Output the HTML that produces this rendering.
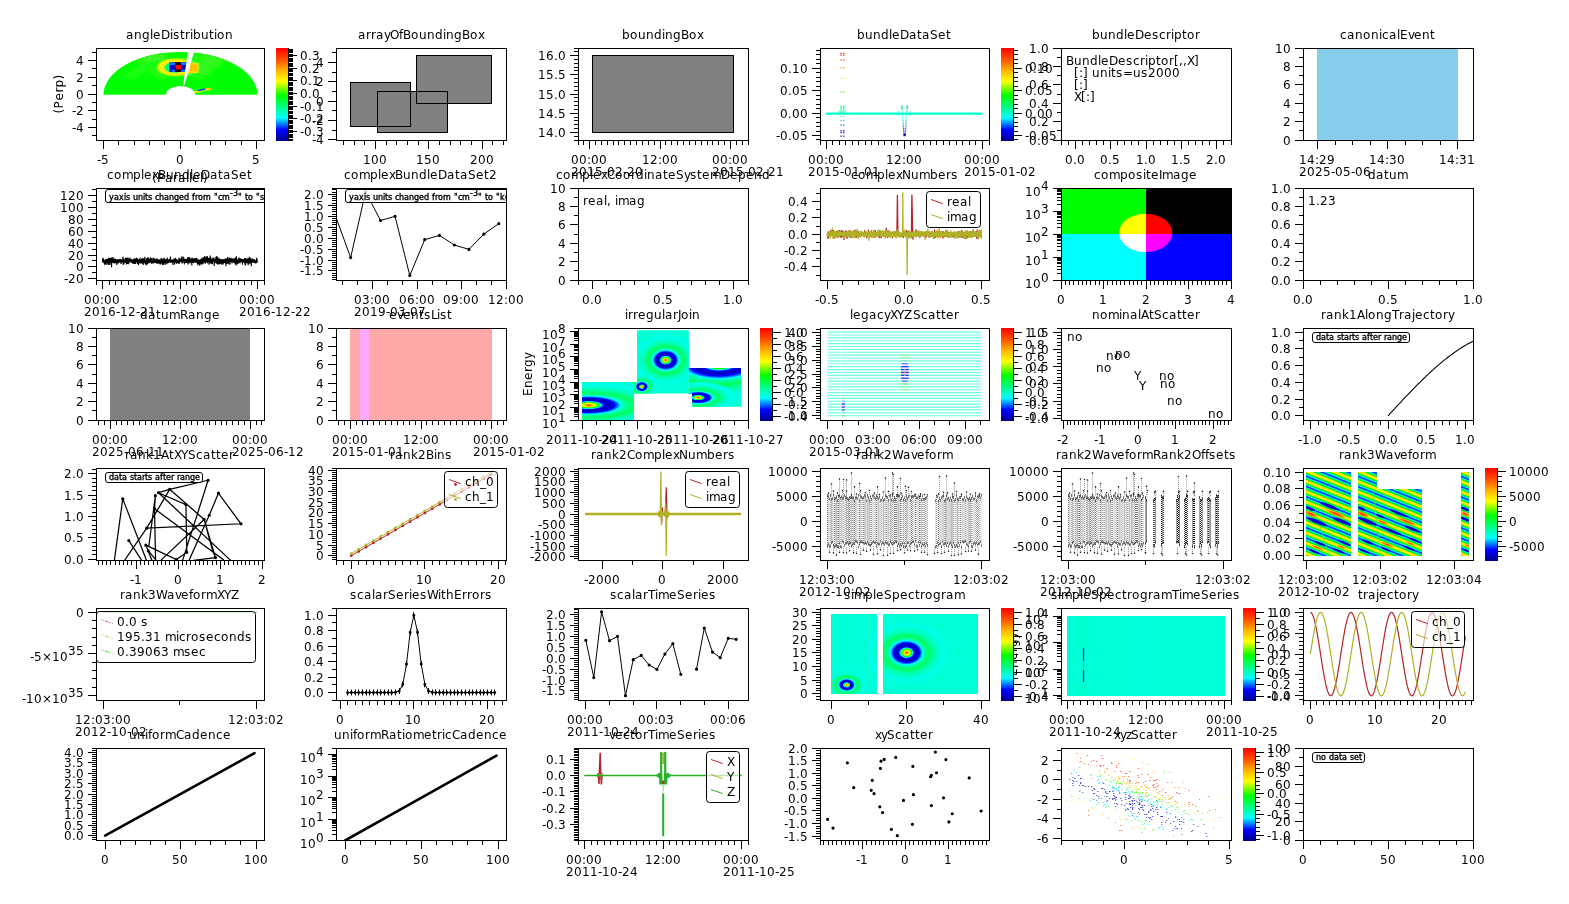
<!DOCTYPE html><html><head><meta charset="utf-8"><title>plots</title><style>html,body{margin:0;padding:0;background:#fff}svg{display:block;will-change:transform}text{font-family:'DejaVu Sans','Liberation Sans',sans-serif;font-size:12px;fill:#000}</style></head><body><svg width="1569" height="904" viewBox="0 0 1569 904"><defs><linearGradient id="cw" x1="0" y1="0" x2="0" y2="1"><stop offset="0" stop-color="#ff0000"/><stop offset="0.13" stop-color="#ff5400"/><stop offset="0.25" stop-color="#ffb900"/><stop offset="0.36" stop-color="#ffff00"/><stop offset="0.51" stop-color="#00ff00"/><stop offset="0.75" stop-color="#00ffff"/><stop offset="0.88" stop-color="#0000ff"/><stop offset="1" stop-color="#000089"/></linearGradient><clipPath id="cp00"><rect x="97" y="49" width="167" height="91"/></clipPath><clipPath id="cp01"><rect x="337" y="49" width="169" height="91"/></clipPath><clipPath id="cp02"><rect x="579" y="49" width="169" height="91"/></clipPath><clipPath id="cp03"><rect x="821" y="49" width="168" height="91"/></clipPath><clipPath id="cp04"><rect x="1062" y="49" width="169" height="91"/></clipPath><clipPath id="cp05"><rect x="1304" y="49" width="169" height="91"/></clipPath><clipPath id="cp10"><rect x="97" y="189" width="167" height="91"/></clipPath><clipPath id="cp11"><rect x="337" y="189" width="169" height="91"/></clipPath><clipPath id="cp12"><rect x="579" y="189" width="169" height="91"/></clipPath><clipPath id="cp13"><rect x="821" y="189" width="168" height="91"/></clipPath><clipPath id="cp14"><rect x="1062" y="189" width="169" height="91"/></clipPath><clipPath id="cp15"><rect x="1304" y="189" width="169" height="91"/></clipPath><clipPath id="cp20"><rect x="97" y="329" width="167" height="91"/></clipPath><clipPath id="cp21"><rect x="337" y="329" width="169" height="91"/></clipPath><clipPath id="cp22"><rect x="579" y="329" width="169" height="91"/></clipPath><clipPath id="cp23"><rect x="821" y="329" width="168" height="91"/></clipPath><clipPath id="cp24"><rect x="1062" y="329" width="169" height="91"/></clipPath><clipPath id="cp25"><rect x="1304" y="329" width="169" height="91"/></clipPath><clipPath id="cp30"><rect x="97" y="469" width="167" height="91"/></clipPath><clipPath id="cp31"><rect x="337" y="469" width="169" height="91"/></clipPath><clipPath id="cp32"><rect x="579" y="469" width="169" height="91"/></clipPath><clipPath id="cp33"><rect x="821" y="469" width="168" height="91"/></clipPath><clipPath id="cp34"><rect x="1062" y="469" width="169" height="91"/></clipPath><clipPath id="cp35"><rect x="1304" y="469" width="169" height="91"/></clipPath><clipPath id="cp40"><rect x="97" y="609" width="167" height="91"/></clipPath><clipPath id="cp41"><rect x="337" y="609" width="169" height="91"/></clipPath><clipPath id="cp42"><rect x="579" y="609" width="169" height="91"/></clipPath><clipPath id="cp43"><rect x="821" y="609" width="168" height="91"/></clipPath><clipPath id="cp44"><rect x="1062" y="609" width="169" height="91"/></clipPath><clipPath id="cp45"><rect x="1304" y="609" width="169" height="91"/></clipPath><clipPath id="cp50"><rect x="97" y="749" width="167" height="91"/></clipPath><clipPath id="cp51"><rect x="337" y="749" width="169" height="91"/></clipPath><clipPath id="cp52"><rect x="579" y="749" width="169" height="91"/></clipPath><clipPath id="cp53"><rect x="821" y="749" width="168" height="91"/></clipPath><clipPath id="cp54"><rect x="1062" y="749" width="169" height="91"/></clipPath><clipPath id="cp55"><rect x="1304" y="749" width="169" height="91"/></clipPath><clipPath id="ij1"><rect x="582" y="382" width="51.8" height="38"/></clipPath><clipPath id="ij2"><path d="M637 330.3H688.8V393.6H633.8V382H637Z"/></clipPath><clipPath id="ij3"><path d="M688.8 368.1H741V406.7H692.2V393.6H688.8Z"/></clipPath><radialGradient id="rg1" gradientUnits="userSpaceOnUse" cx="0" cy="0" r="42" gradientTransform="translate(588.6 405.1) scale(2 0.56)"><stop offset="0" stop-color="#ff0000"/><stop offset="0.04" stop-color="#ffb900"/><stop offset="0.07" stop-color="#ffff00"/><stop offset="0.12" stop-color="#00ff00"/><stop offset="0.15" stop-color="#00ffff"/><stop offset="0.18" stop-color="#0000ff"/><stop offset="0.24" stop-color="#0000b4"/><stop offset="0.31" stop-color="#0000ff"/><stop offset="0.35" stop-color="#0080ff"/><stop offset="0.38" stop-color="#00ffff"/><stop offset="0.43" stop-color="#00ffaa"/><stop offset="0.54" stop-color="#00ff5a"/><stop offset="0.64" stop-color="#00ffaa"/><stop offset="0.79" stop-color="#00ffd7"/><stop offset="0.88" stop-color="#00ffeb"/><stop offset="1" stop-color="#00ffd7"/></radialGradient><radialGradient id="rg2" gradientUnits="userSpaceOnUse" cx="0" cy="0" r="42" gradientTransform="translate(665.7 360.1) scale(0.8 0.62)"><stop offset="0" stop-color="#ff0000"/><stop offset="0.04" stop-color="#ffb900"/><stop offset="0.07" stop-color="#ffff00"/><stop offset="0.12" stop-color="#00ff00"/><stop offset="0.15" stop-color="#00ffff"/><stop offset="0.18" stop-color="#0000ff"/><stop offset="0.24" stop-color="#0000b4"/><stop offset="0.31" stop-color="#0000ff"/><stop offset="0.35" stop-color="#0080ff"/><stop offset="0.38" stop-color="#00ffff"/><stop offset="0.43" stop-color="#00ffaa"/><stop offset="0.54" stop-color="#00ff5a"/><stop offset="0.64" stop-color="#00ffaa"/><stop offset="0.79" stop-color="#00ffd7"/><stop offset="0.88" stop-color="#00ffeb"/><stop offset="1" stop-color="#00ffd7"/></radialGradient><radialGradient id="rg3" gradientUnits="userSpaceOnUse" cx="0" cy="0" r="42" gradientTransform="translate(641.8 386.6) scale(0.38 0.3)"><stop offset="0" stop-color="#ff0000"/><stop offset="0.04" stop-color="#ffb900"/><stop offset="0.07" stop-color="#ffff00"/><stop offset="0.12" stop-color="#00ff00"/><stop offset="0.15" stop-color="#00ffff"/><stop offset="0.18" stop-color="#0000ff"/><stop offset="0.24" stop-color="#0000b4"/><stop offset="0.31" stop-color="#0000ff"/><stop offset="0.35" stop-color="#0080ff"/><stop offset="0.38" stop-color="#00ffff"/><stop offset="0.43" stop-color="#00ffaa"/><stop offset="0.54" stop-color="#00ff5a"/><stop offset="0.64" stop-color="#00ffaa"/><stop offset="0.79" stop-color="#00ffd7"/><stop offset="0.88" stop-color="#00ffeb"/><stop offset="1" stop-color="#00ffd7"/></radialGradient><radialGradient id="rg4" gradientUnits="userSpaceOnUse" cx="0" cy="0" r="42" gradientTransform="translate(719 364.2) scale(2.3 0.9)"><stop offset="0" stop-color="#ff0000"/><stop offset="0.04" stop-color="#ffb900"/><stop offset="0.07" stop-color="#ffff00"/><stop offset="0.12" stop-color="#00ff00"/><stop offset="0.15" stop-color="#00ffff"/><stop offset="0.18" stop-color="#0000ff"/><stop offset="0.24" stop-color="#0000b4"/><stop offset="0.31" stop-color="#0000ff"/><stop offset="0.35" stop-color="#0080ff"/><stop offset="0.38" stop-color="#00ffff"/><stop offset="0.43" stop-color="#00ffaa"/><stop offset="0.54" stop-color="#00ff5a"/><stop offset="0.64" stop-color="#00ffaa"/><stop offset="0.79" stop-color="#00ffd7"/><stop offset="0.88" stop-color="#00ffeb"/><stop offset="1" stop-color="#00ffd7"/></radialGradient><radialGradient id="rg5" gradientUnits="userSpaceOnUse" cx="0" cy="0" r="42" gradientTransform="translate(698.1 397.6) scale(0.9 0.37)"><stop offset="0" stop-color="#ff0000"/><stop offset="0.04" stop-color="#ffb900"/><stop offset="0.07" stop-color="#ffff00"/><stop offset="0.12" stop-color="#00ff00"/><stop offset="0.15" stop-color="#00ffff"/><stop offset="0.18" stop-color="#0000ff"/><stop offset="0.24" stop-color="#0000b4"/><stop offset="0.31" stop-color="#0000ff"/><stop offset="0.35" stop-color="#0080ff"/><stop offset="0.38" stop-color="#00ffff"/><stop offset="0.43" stop-color="#00ffaa"/><stop offset="0.54" stop-color="#00ff5a"/><stop offset="0.64" stop-color="#00ffaa"/><stop offset="0.79" stop-color="#00ffd7"/><stop offset="0.88" stop-color="#00ffeb"/><stop offset="1" stop-color="#00ffd7"/></radialGradient><pattern id="wf" width="2" height="3" patternUnits="userSpaceOnUse"><rect width="2" height="3" fill="#d4d4d4"/><rect width="1" height="1" fill="#8a8a8a"/><rect x="1" y="1.5" width="1" height="1" fill="#9a9a9a"/></pattern><linearGradient id="st" gradientUnits="userSpaceOnUse" x1="1306" y1="481.3" x2="1302.45" y2="490.18" spreadMethod="repeat"><stop offset="0" stop-color="#fff000"/><stop offset="0.07" stop-color="#ffe000"/><stop offset="0.13" stop-color="#b0f000"/><stop offset="0.19" stop-color="#10e820"/><stop offset="0.3" stop-color="#00f050"/><stop offset="0.37" stop-color="#00fff0"/><stop offset="0.43" stop-color="#0068ff"/><stop offset="0.5" stop-color="#0038ff"/><stop offset="0.57" stop-color="#0068ff"/><stop offset="0.63" stop-color="#00fff0"/><stop offset="0.7" stop-color="#00f050"/><stop offset="0.81" stop-color="#10e820"/><stop offset="0.87" stop-color="#b0f000"/><stop offset="0.93" stop-color="#ffe000"/><stop offset="1" stop-color="#fff000"/></linearGradient><clipPath id="r3"><path d="M1306 472H1351V556H1306ZM1358 472H1377V489H1422V556H1358ZM1461 472H1469V556H1461Z"/></clipPath><clipPath id="c40b"><rect x="97" y="609" width="170" height="64"/></clipPath><clipPath id="ss"><path d="M831 614H877V694H831ZM883 614H978V694H883Z"/></clipPath><radialGradient id="rg6" gradientUnits="userSpaceOnUse" cx="0" cy="0" r="42" gradientTransform="translate(906.5 652.7) scale(1 0.75)"><stop offset="0" stop-color="#ff0000"/><stop offset="0.04" stop-color="#ffb900"/><stop offset="0.07" stop-color="#ffff00"/><stop offset="0.12" stop-color="#00ff00"/><stop offset="0.15" stop-color="#00ffff"/><stop offset="0.18" stop-color="#0000ff"/><stop offset="0.24" stop-color="#0000b4"/><stop offset="0.31" stop-color="#0000ff"/><stop offset="0.35" stop-color="#0080ff"/><stop offset="0.38" stop-color="#00ffff"/><stop offset="0.43" stop-color="#00ffaa"/><stop offset="0.54" stop-color="#00ff5a"/><stop offset="0.64" stop-color="#00ffaa"/><stop offset="0.79" stop-color="#00ffd7"/><stop offset="0.88" stop-color="#00ffeb"/><stop offset="1" stop-color="#00ffd7"/></radialGradient><radialGradient id="rg7" gradientUnits="userSpaceOnUse" cx="0" cy="0" r="42" gradientTransform="translate(846.6 684.9) scale(0.5 0.37)"><stop offset="0" stop-color="#ff0000"/><stop offset="0.04" stop-color="#ffb900"/><stop offset="0.07" stop-color="#ffff00"/><stop offset="0.12" stop-color="#00ff00"/><stop offset="0.15" stop-color="#00ffff"/><stop offset="0.18" stop-color="#0000ff"/><stop offset="0.24" stop-color="#0000b4"/><stop offset="0.31" stop-color="#0000ff"/><stop offset="0.35" stop-color="#0080ff"/><stop offset="0.38" stop-color="#00ffff"/><stop offset="0.43" stop-color="#00ffaa"/><stop offset="0.54" stop-color="#00ff5a"/><stop offset="0.64" stop-color="#00ffaa"/><stop offset="0.79" stop-color="#00ffd7"/><stop offset="0.88" stop-color="#00ffeb"/><stop offset="1" stop-color="#00ffd7"/></radialGradient></defs><g opacity=".999"><g clip-path="url(#cp00)">
<path d="M103.5 94.75A77.0 42.75 0 0 1 257.5 94.75L195.1 94.75A14.6 8.7 0 0 0 165.9 94.75Z" fill="#00ff00"/>
<path d="M174.62 76.23A33.88 18.81 0 0 0 159.64 79.93L133.09 61.06A77 42.75 0 0 1 167.13 52.65Z" fill="#22fb10"/>
<path d="M170.81 73.18A40.04 22.23 0 0 0 160.48 75.5L142 57.73A77 42.75 0 0 1 161.87 53.27Z" fill="#3af724"/>
<path d="M201.36 79.93A33.88 18.81 0 0 0 186.96 76.29L195.19 52.79A77 42.75 0 0 1 227.91 61.06Z" fill="#1cfc0c"/>
<path d="M204.61 74.9A43.12 23.94 0 0 0 193.82 71.98L204.29 54.09A77 42.75 0 0 1 223.56 59.31Z" fill="#30f81c"/>
<path d="M162.07 66.63A53.9 29.93 0 0 0 133.82 79.79L123.15 76.37A66.22 36.77 0 0 1 157.85 60.2Z" fill="#18fd10"/>
<ellipse cx="178.8" cy="67.2" rx="22" ry="9.5" fill="#40ff30"/>
<ellipse cx="175.8" cy="67.2" rx="19" ry="9" fill="#b8f400"/>
<ellipse cx="174.8" cy="67.2" rx="16" ry="7.6" fill="#ffee00"/>
<rect x="188" y="63" width="10.5" height="10" fill="#ffd800"/>
<rect x="190" y="64.5" width="7" height="6.5" fill="#ffbe00"/>
<ellipse cx="174.8" cy="67.5" rx="10.5" ry="5.2" fill="#00ff80"/>
<rect x="169.5" y="62.3" width="17.5" height="9.6" fill="#0020e0"/>
<rect x="169.5" y="62.3" width="5.5" height="2.8" fill="#0078ff"/><rect x="181" y="62.3" width="6" height="2.8" fill="#0078ff"/><rect x="172" y="69.5" width="4" height="2.4" fill="#0078ff"/><rect x="181" y="69.5" width="4.5" height="2.4" fill="#0078ff"/>
<rect x="175" y="62.3" width="5.8" height="9.6" fill="#000"/>
<path d="M175 65h6v4.3l-4.8 0.2z" fill="#ff0000"/>
<rect x="169.7" y="65" width="5.3" height="4.5" fill="#0000c0"/><rect x="181" y="65" width="5.5" height="4.5" fill="#0000c0"/>
<path d="M194 91.5l4.5-1.2 3.2 0.2 4-1.6 5.5-0.8v2.2l-6 0.8-6 1.6-5 0.6z" fill="#9cf000"/>
<rect x="205.3" y="87.8" width="5.6" height="2.2" fill="#ffd000"/><rect x="194" y="91" width="4.6" height="1.3" fill="#ffe000"/>
<path d="M197.8 90.9l3.6-0.2 4-1.5v-0.9l-4 .9-3.6 .6z" fill="#0030ff"/>
<path d="M188.2 50L194.6 50L184.4 85.5L183 85.5Z" fill="#fff"/>
</g>
<g transform="translate(63 113.5) rotate(-90)">
<text x="0 5 13 21 26 34" y="0">(Perp)</text>
</g>
<text x="152 157 165 173 178 186 189 192 200 203" y="182">(Parallel)</text>
<rect x="350.5" y="82.5" width="60" height="44" fill="#808080"/>
<rect x="377.5" y="91.5" width="70" height="41" fill="#808080"/>
<rect x="416.5" y="55.5" width="75" height="48" fill="#808080"/>
<rect x="350.5" y="82.5" width="60" height="44" fill="none" stroke="#000"/>
<rect x="377.5" y="91.5" width="70" height="41" fill="none" stroke="#000"/>
<rect x="416.5" y="55.5" width="75" height="48" fill="none" stroke="#000"/>
<rect x="592.5" y="55.5" width="141" height="77" fill="#808080" stroke="#000"/>
<g clip-path="url(#cp03)">
<rect x="826" y="112.53" width="156.5" height="2.2" fill="#00ffcd"/>
<rect x="840.3" y="52.74" width="1.6" height="1.3" fill="#ff2000" fill-opacity=".8"/>
<rect x="843" y="52.74" width="1.6" height="1.3" fill="#ff2000" fill-opacity=".8"/>
<rect x="840.3" y="54.53" width="1.6" height="1.3" fill="#ff2c00" fill-opacity=".8"/>
<rect x="843" y="54.53" width="1.6" height="1.3" fill="#ff2c00" fill-opacity=".8"/>
<rect x="840.3" y="59.45" width="1.6" height="1.3" fill="#ff4e00" fill-opacity=".8"/>
<rect x="843" y="59.45" width="1.6" height="1.3" fill="#ff4e00" fill-opacity=".8"/>
<rect x="840.3" y="67.06" width="1.6" height="1.3" fill="#ff9500" fill-opacity=".8"/>
<rect x="843" y="67.06" width="1.6" height="1.3" fill="#ff9500" fill-opacity=".8"/>
<rect x="840.3" y="77.79" width="1.6" height="1.3" fill="#ffe600" fill-opacity=".8"/>
<rect x="843" y="77.79" width="1.6" height="1.3" fill="#ffe600" fill-opacity=".8"/>
<rect x="840.3" y="91.21" width="1.6" height="1.3" fill="#46ff00" fill-opacity=".8"/>
<rect x="843" y="91.21" width="1.6" height="1.3" fill="#46ff00" fill-opacity=".8"/>
<rect x="840.3" y="105.53" width="1.6" height="1.3" fill="#00ff78" fill-opacity=".8"/>
<rect x="843" y="105.53" width="1.6" height="1.3" fill="#00ff78" fill-opacity=".8"/>
<rect x="840.3" y="106.87" width="1.6" height="1.3" fill="#00ff87" fill-opacity=".8"/>
<rect x="843" y="106.87" width="1.6" height="1.3" fill="#00ff87" fill-opacity=".8"/>
<rect x="840.3" y="108.66" width="1.6" height="1.3" fill="#00ff9b" fill-opacity=".8"/>
<rect x="843" y="108.66" width="1.6" height="1.3" fill="#00ff9b" fill-opacity=".8"/>
<rect x="840.3" y="115.82" width="1.6" height="1.3" fill="#00ffeb" fill-opacity=".8"/>
<rect x="843" y="115.82" width="1.6" height="1.3" fill="#00ffeb" fill-opacity=".8"/>
<rect x="840.3" y="119.84" width="1.6" height="1.3" fill="#00d0ff" fill-opacity=".8"/>
<rect x="843" y="119.84" width="1.6" height="1.3" fill="#00d0ff" fill-opacity=".8"/>
<rect x="840.3" y="124.32" width="1.6" height="1.3" fill="#0071ff" fill-opacity=".8"/>
<rect x="843" y="124.32" width="1.6" height="1.3" fill="#0071ff" fill-opacity=".8"/>
<rect x="840.3" y="130.13" width="1.6" height="1.3" fill="#0000f9" fill-opacity=".8"/>
<rect x="843" y="130.13" width="1.6" height="1.3" fill="#0000f9" fill-opacity=".8"/>
<rect x="840.3" y="131.92" width="1.6" height="1.3" fill="#0000e6" fill-opacity=".8"/>
<rect x="843" y="131.92" width="1.6" height="1.3" fill="#0000e6" fill-opacity=".8"/>
<rect x="840.3" y="135.5" width="1.6" height="1.3" fill="#0000bf" fill-opacity=".8"/>
<rect x="843" y="135.5" width="1.6" height="1.3" fill="#0000bf" fill-opacity=".8"/>
<rect x="838.5" y="110.45" width="7" height="3.4" fill="#00ffa5" fill-opacity=".55"/>
<rect x="901.1" y="105.53" width="1.3" height="1.1" fill="#00ff78" fill-opacity=".75"/>
<rect x="901.22" y="106.67" width="1.3" height="1.1" fill="#00ff85" fill-opacity=".75"/>
<rect x="901.34" y="107.98" width="1.3" height="1.1" fill="#00ff93" fill-opacity=".75"/>
<rect x="901.45" y="109.35" width="1.3" height="1.1" fill="#00ffa2" fill-opacity=".75"/>
<rect x="901.57" y="110.78" width="1.3" height="1.1" fill="#00ffb2" fill-opacity=".75"/>
<rect x="901.69" y="112.24" width="1.3" height="1.1" fill="#00ffc3" fill-opacity=".75"/>
<rect x="901.81" y="113.73" width="1.3" height="1.1" fill="#00ffd3" fill-opacity=".75"/>
<rect x="901.93" y="115.24" width="1.3" height="1.1" fill="#00ffe4" fill-opacity=".75"/>
<rect x="902.04" y="116.78" width="1.3" height="1.1" fill="#00fff5" fill-opacity=".75"/>
<rect x="902.16" y="118.33" width="1.3" height="1.1" fill="#00f0ff" fill-opacity=".75"/>
<rect x="902.28" y="119.91" width="1.3" height="1.1" fill="#00cfff" fill-opacity=".75"/>
<rect x="902.4" y="121.49" width="1.3" height="1.1" fill="#00adff" fill-opacity=".75"/>
<rect x="902.52" y="123.1" width="1.3" height="1.1" fill="#008bff" fill-opacity=".75"/>
<rect x="902.63" y="124.72" width="1.3" height="1.1" fill="#0068ff" fill-opacity=".75"/>
<rect x="902.75" y="126.35" width="1.3" height="1.1" fill="#0046ff" fill-opacity=".75"/>
<rect x="902.87" y="127.99" width="1.3" height="1.1" fill="#0023ff" fill-opacity=".75"/>
<rect x="902.99" y="129.64" width="1.3" height="1.1" fill="#0000ff" fill-opacity=".75"/>
<rect x="903.11" y="131.3" width="1.3" height="1.1" fill="#0000ed" fill-opacity=".75"/>
<rect x="903.22" y="132.97" width="1.3" height="1.1" fill="#0000db" fill-opacity=".75"/>
<rect x="903.34" y="134.66" width="1.3" height="1.1" fill="#0000c8" fill-opacity=".75"/>
<rect x="900.9" y="105.08" width="1.4" height="4" fill="#00ff91" fill-opacity=".8"/>
<rect x="897.7" y="111.34" width="1.6" height="4.4" fill="#00ffcd" fill-opacity=".6"/>
<rect x="906.7" y="105.53" width="1.3" height="1.1" fill="#00ff78" fill-opacity=".75"/>
<rect x="906.58" y="106.67" width="1.3" height="1.1" fill="#00ff85" fill-opacity=".75"/>
<rect x="906.46" y="107.98" width="1.3" height="1.1" fill="#00ff93" fill-opacity=".75"/>
<rect x="906.35" y="109.35" width="1.3" height="1.1" fill="#00ffa2" fill-opacity=".75"/>
<rect x="906.23" y="110.78" width="1.3" height="1.1" fill="#00ffb2" fill-opacity=".75"/>
<rect x="906.11" y="112.24" width="1.3" height="1.1" fill="#00ffc3" fill-opacity=".75"/>
<rect x="905.99" y="113.73" width="1.3" height="1.1" fill="#00ffd3" fill-opacity=".75"/>
<rect x="905.87" y="115.24" width="1.3" height="1.1" fill="#00ffe4" fill-opacity=".75"/>
<rect x="905.76" y="116.78" width="1.3" height="1.1" fill="#00fff5" fill-opacity=".75"/>
<rect x="905.64" y="118.33" width="1.3" height="1.1" fill="#00f0ff" fill-opacity=".75"/>
<rect x="905.52" y="119.91" width="1.3" height="1.1" fill="#00cfff" fill-opacity=".75"/>
<rect x="905.4" y="121.49" width="1.3" height="1.1" fill="#00adff" fill-opacity=".75"/>
<rect x="905.28" y="123.1" width="1.3" height="1.1" fill="#008bff" fill-opacity=".75"/>
<rect x="905.17" y="124.72" width="1.3" height="1.1" fill="#0068ff" fill-opacity=".75"/>
<rect x="905.05" y="126.35" width="1.3" height="1.1" fill="#0046ff" fill-opacity=".75"/>
<rect x="904.93" y="127.99" width="1.3" height="1.1" fill="#0023ff" fill-opacity=".75"/>
<rect x="904.81" y="129.64" width="1.3" height="1.1" fill="#0000ff" fill-opacity=".75"/>
<rect x="904.69" y="131.3" width="1.3" height="1.1" fill="#0000ed" fill-opacity=".75"/>
<rect x="904.58" y="132.97" width="1.3" height="1.1" fill="#0000db" fill-opacity=".75"/>
<rect x="904.46" y="134.66" width="1.3" height="1.1" fill="#0000c8" fill-opacity=".75"/>
<rect x="906.7" y="105.08" width="1.4" height="4" fill="#00ff91" fill-opacity=".8"/>
<rect x="909.7" y="111.34" width="1.6" height="4.4" fill="#00ffcd" fill-opacity=".6"/>
<rect x="903.6" y="133.71" width="2" height="2.5" fill="#0000c8"/>
</g>
<text x="1066 1074 1082 1090 1098 1101 1109 1118 1126 1133 1140 1145 1148 1156 1161 1169 1174 1179 1183 1187 1194" y="65">BundleDescriptor[,,X]</text>
<text x="1074 1079 1083 1088 1092 1100 1108 1111 1116 1123 1133 1141 1148 1156 1164 1172" y="77">[:] units=us2000</text>
<text x="1074 1079 1083" y="89">[:]</text>
<text x="1074 1081 1086 1090" y="101">X[:]</text>
<rect x="1317" y="49" width="141" height="91" fill="#87ceeb"/>
<path d="M102.5 260.77L102.61 258.79L102.72 262.54L102.83 259.23L102.94 261.38L103.05 261.38L103.16 257.67L103.28 260.67L103.39 261.01L103.5 259.68L103.61 259L103.72 260.99L103.83 259.93L103.94 262.61L104.05 261.57L104.16 261.69L104.27 263.22L104.38 263.53L104.49 263.73L104.6 261.35L104.71 261.23L104.83 261.49L104.94 260.82L105.05 263.23L105.16 261.07L105.27 260.53L105.38 259.65L105.49 262.39L105.6 261.62L105.71 264.4L105.82 261.8L105.93 264.71L106.04 263.37L106.15 259.04L106.26 264.72L106.38 259.56L106.49 260.37L106.6 261.47L106.71 260.15L106.82 260.03L106.93 259.14L107.04 261.33L107.15 261.95L107.26 261.97L107.37 262.63L107.48 261.01L107.59 262.29L107.7 259.1L107.81 264.15L107.93 262.81L108.04 262.57L108.15 264.53L108.26 257.67L108.37 265.07L108.48 261.42L108.59 261.84L108.7 258.09L108.81 264.35L108.92 259.1L109.03 262.19L109.14 261.2L109.25 262.09L109.36 259.84L109.48 262.89L109.59 261.07L109.7 260.33L109.81 257.78L109.92 265.07L110.03 258.32L110.14 259.31L110.25 261.77L110.36 260.41L110.47 261.74L110.58 258.11L110.69 260.58L110.8 261.31L110.91 261.33L111.03 261.28L111.14 261.24L111.25 262.45L111.36 257.4L111.47 264.22L111.58 267.13L111.69 261.15L111.8 261.19L111.91 260.3L112.02 261.29L112.13 261.19L112.24 260.37L112.35 259.27L112.46 261.7L112.58 261.58L112.69 257.6L112.8 260.03L112.91 262.63L113.02 256.95L113.13 259.6L113.24 261.95L113.35 262.95L113.46 260.42L113.57 262.36L113.68 262.75L113.79 263.16L113.9 261.8L114.02 259.03L114.13 261.68L114.24 263.42L114.35 259.79L114.46 260.82L114.57 259.49L114.68 258.87L114.79 261.23L114.9 261.18L115.01 261.01L115.12 262.88L115.23 259.79L115.34 258.58L115.45 260.64L115.57 261.34L115.68 261.38L115.79 262.28L115.9 262.32L116.01 261.62L116.12 262.38L116.23 261.69L116.34 263.64L116.45 260.33L116.56 260.85L116.67 262.91L116.78 264.88L116.89 260.95L117 259.04L117.12 262.2L117.23 261.77L117.34 261.91L117.45 259.81L117.56 262.51L117.67 259.24L117.78 261.46L117.89 259.35L118 260.88L118.11 261.33L118.22 263.47L118.33 262.12L118.44 261.38L118.55 259.8L118.67 260.52L118.78 262.13L118.89 260.23L119 259.24L119.11 261.19L119.22 261.69L119.33 261.61L119.44 259.54L119.55 260.01L119.66 262.53L119.77 260.29L119.88 261.76L119.99 262.23L120.1 258.81L120.22 259.53L120.33 262.18L120.44 260.8L120.55 260.07L120.66 262.03L120.77 261.14L120.88 259.79L120.99 264.01L121.1 260.37L121.21 259.67L121.32 260.07L121.43 263.24L121.54 260.39L121.65 262.42L121.77 259.96L121.88 259.9L121.99 260.56L122.1 262.25L122.21 261.95L122.32 259.47L122.43 262.48L122.54 260.08L122.65 260.06L122.76 261.41L122.87 256.82L122.98 260.82L123.09 257.25L123.21 264.4L123.32 264.79L123.43 259.25L123.54 259.84L123.65 261.47L123.76 261.03L123.87 264.2L123.98 262.02L124.09 262.71L124.2 261.32L124.31 259.41L124.42 260.84L124.53 260.3L124.64 262.13L124.76 261.68L124.87 260.74L124.98 261.42L125.09 258.76L125.2 262.44L125.31 257.69L125.42 262.62L125.53 259.12L125.64 262.26L125.75 258.11L125.86 260.7L125.97 260.25L126.08 259.66L126.19 262.03L126.31 262.72L126.42 264.42L126.53 258.84L126.64 262.13L126.75 261.95L126.86 260.99L126.97 257.52L127.08 263.9L127.19 260.51L127.3 261.62L127.41 260.02L127.52 264.02L127.63 261.62L127.74 259.49L127.86 258.26L127.97 258.19L128.08 262.4L128.19 260.84L128.3 261.12L128.41 263.3L128.52 263.41L128.63 259.64L128.74 260.51L128.85 261.18L128.96 258.85L129.07 262.66L129.18 260.03L129.29 260.92L129.41 261.04L129.52 260.09L129.63 260.63L129.74 260.48L129.85 260.48L129.96 257.61L130.07 261.47L130.18 259.2L130.29 259.89L130.4 261.54L130.51 259.57L130.62 262.41L130.73 258.94L130.84 262.33L130.96 261.78L131.07 260.38L131.18 259.51L131.29 259.38L131.4 259.4L131.51 261.29L131.62 262.58L131.73 259.99L131.84 260.42L131.95 262.57L132.06 259.26L132.17 260.59L132.28 262.58L132.39 260.18L132.51 263.21L132.62 262.44L132.73 260.24L132.84 263.61L132.95 260.87L133.06 263.26L133.17 259.67L133.28 262.18L133.39 260.62L133.5 263.52L133.61 261.53L133.72 259.31L133.83 260.15L133.95 264.09L134.06 259.35L134.17 259.4L134.28 261.58L134.39 258.5L134.5 262.75L134.61 261.08L134.72 259.02L134.83 258.69L134.94 258.74L135.05 262.81L135.16 263.99L135.27 260.26L135.38 263.39L135.5 261.16L135.61 263.14L135.72 259.11L135.83 259.56L135.94 259.98L136.05 260.91L136.16 260.86L136.27 261.45L136.38 260.28L136.49 260.51L136.6 260.15L136.71 261.67L136.82 257.68L136.93 260.45L137.05 258.54L137.16 258.65L137.27 262.45L137.38 263.83L137.49 258.78L137.6 261.6L137.71 260.79L137.82 261.38L137.93 260.71L138.04 262.98L138.15 261.11L138.26 261.73L138.37 260.96L138.48 264.95L138.6 259.53L138.71 260.37L138.82 263.9L138.93 262.2L139.04 260.88L139.15 259.86L139.26 260.94L139.37 258.56L139.48 260.9L139.59 262.65L139.7 262.1L139.81 259.66L139.92 261.99L140.03 259.49L140.15 259.18L140.26 259.93L140.37 259.19L140.48 261.23L140.59 260.95L140.7 261.95L140.81 261.98L140.92 263.62L141.03 261.89L141.14 262.78L141.25 263.39L141.36 260.68L141.47 260.16L141.58 261.52L141.7 258.59L141.81 259.32L141.92 259.14L142.03 261.97L142.14 263.5L142.25 259.98L142.36 260.41L142.47 259.69L142.58 260.22L142.69 258.77L142.8 261.43L142.91 259.79L143.02 262.47L143.13 264.9L143.25 261.7L143.36 258.36L143.47 263.81L143.58 259.19L143.69 262.1L143.8 261.62L143.91 260.86L144.02 260.57L144.13 262.61L144.24 260.72L144.35 260.17L144.46 259.5L144.57 262.23L144.69 258.27L144.8 257.66L144.91 256.79L145.02 263.24L145.13 260.64L145.24 264.13L145.35 260.29L145.46 259.98L145.57 262.91L145.68 263.66L145.79 260.61L145.9 259.86L146.01 262.3L146.12 261.38L146.24 265.27L146.35 262.15L146.46 260.68L146.57 260.67L146.68 258.22L146.79 262.9L146.9 264.8L147.01 260.16L147.12 261.95L147.23 260.44L147.34 259.7L147.45 259.9L147.56 258.46L147.67 258.61L147.79 263.79L147.9 261.04L148.01 257.5L148.12 261.63L148.23 259.28L148.34 261.03L148.45 261.66L148.56 258.22L148.67 259.15L148.78 261.35L148.89 259.38L149 263.19L149.11 262.18L149.22 259.39L149.34 260.87L149.45 262.76L149.56 260.16L149.67 260.37L149.78 258.73L149.89 259.29L150 261.41L150.11 261.77L150.22 261.17L150.33 261.33L150.44 258.43L150.55 258.21L150.66 258.61L150.77 260.28L150.89 261.36L151 259.38L151.11 261.54L151.22 260.53L151.33 263.8L151.44 261.66L151.55 258.46L151.66 262.7L151.77 263.5L151.88 261.22L151.99 258.07L152.1 258.44L152.21 261.55L152.32 261.76L152.44 261.13L152.55 262.53L152.66 260.87L152.77 261.45L152.88 263.47L152.99 261.93L153.1 261.38L153.21 262.41L153.32 262.86L153.43 259.38L153.54 257.68L153.65 261.43L153.76 261.66L153.87 260.07L153.99 261.33L154.1 262.28L154.21 258.55L154.32 262.72L154.43 262.19L154.54 262.08L154.65 262.45L154.76 261.34L154.87 259.95L154.98 258.46L155.09 259.8L155.2 260.88L155.31 263.08L155.43 261.04L155.54 262.55L155.65 261.1L155.76 259.26L155.87 260.59L155.98 261.3L156.09 262.23L156.2 260.97L156.31 260.75L156.42 262.53L156.53 261.8L156.64 259.42L156.75 263.79L156.86 261.7L156.98 262.94L157.09 258.28L157.2 259.9L157.31 260.05L157.42 260.26L157.53 260.44L157.64 260.43L157.75 263.66L157.86 260.49L157.97 259.92L158.08 263.39L158.19 259.52L158.3 259.79L158.41 263.55L158.53 261.75L158.64 261.46L158.75 261.84L158.86 260.26L158.97 263.13L159.08 261.32L159.19 260.55L159.3 259.69L159.41 260.85L159.52 261.35L159.63 259.75L159.74 264.35L159.85 259.33L159.96 261.46L160.08 263.08L160.19 261.67L160.3 264.08L160.41 264.45L160.52 261.5L160.63 262.27L160.74 259.68L160.85 262.46L160.96 263.16L161.07 262.58L161.18 257.99L161.29 260.89L161.4 261.99L161.51 262.64L161.63 262.82L161.74 261.22L161.85 260.2L161.96 258.96L162.07 258.97L162.18 260.47L162.29 262.07L162.4 262.41L162.51 264.91L162.62 262.68L162.73 260.21L162.84 261.52L162.95 260.3L163.06 263.25L163.18 259.39L163.29 260.43L163.4 260.86L163.51 260.25L163.62 264.78L163.73 261.89L163.84 262.48L163.95 257.82L164.06 261.25L164.17 261.8L164.28 259.47L164.39 262.75L164.5 258.49L164.62 262.14L164.73 261.04L164.84 262.51L164.95 259.55L165.06 264.66L165.17 259.75L165.28 262.34L165.39 260.85L165.5 262.91L165.61 260.54L165.72 260.61L165.83 259.92L165.94 260.4L166.05 259.87L166.17 259.23L166.28 261.6L166.39 262.96L166.5 263.13L166.61 259.77L166.72 261.58L166.83 259.13L166.94 260.86L167.05 262.67L167.16 259.38L167.27 257.6L167.38 261.25L167.49 262.55L167.6 262.39L167.72 259.41L167.83 261.94L167.94 261.63L168.05 259.76L168.16 260.92L168.27 260.74L168.38 261.87L168.49 262.03L168.6 260.65L168.71 260.67L168.82 259.92L168.93 261.79L169.04 260.34L169.15 260.12L169.27 260.79L169.38 259.96L169.49 259.2L169.6 260.6L169.71 260.8L169.82 262.6L169.93 260.37L170.04 261.1L170.15 261.47L170.26 262.35L170.37 259.95L170.48 256.54L170.59 260.19L170.7 260.79L170.82 260.19L170.93 261.95L171.04 260.77L171.15 262.07L171.26 262.04L171.37 260.54L171.48 260.54L171.59 261.13L171.7 262.3L171.81 260.48L171.92 262.8L172.03 259.61L172.14 261.53L172.25 260.94L172.37 259.59L172.48 259.98L172.59 263.16L172.7 261.36L172.81 260.3L172.92 262.8L173.03 265.06L173.14 261.06L173.25 261.02L173.36 260.2L173.47 260.79L173.58 260.71L173.69 260.52L173.8 258.58L173.92 260.1L174.03 260L174.14 261.61L174.25 259.01L174.36 261.26L174.47 259.67L174.58 264.56L174.69 260.51L174.8 261.1L174.91 261.73L175.02 258.73L175.13 260.24L175.24 261.18L175.36 261.84L175.47 257.72L175.58 259.65L175.69 259.81L175.8 262.24L175.91 258.7L176.02 259.98L176.13 261.4L176.24 261.11L176.35 263.72L176.46 259.82L176.57 262.81L176.68 259.49L176.79 261.69L176.91 262L177.02 260.3L177.13 260.57L177.24 262.87L177.35 261.06L177.46 259.9L177.57 261.37L177.68 263.24L177.79 261.35L177.9 262.58L178.01 261.93L178.12 260.86L178.23 261.03L178.34 261.29L178.46 263.77L178.57 260.34L178.68 261.28L178.79 261.63L178.9 260.67L179.01 257.64L179.12 263.14L179.23 263.69L179.34 259.63L179.45 262.29L179.56 258.71L179.67 262.62L179.78 261.76L179.89 259.51L180.01 259.38L180.12 260.18L180.23 260.16L180.34 261.16L180.45 261.69L180.56 261.28L180.67 258.76L180.78 259.73L180.89 260.9L181 260.39L181.11 259.52L181.22 258.91L181.33 261.16L181.44 261.07L181.56 260.37L181.67 256.48L181.78 260.52L181.89 258.77L182 263.56L182.11 259.49L182.22 263.34L182.33 262.78L182.44 262.02L182.55 261.18L182.66 260.63L182.77 260.31L182.88 260.55L182.99 261.68L183.11 256.51L183.22 260.26L183.33 259.8L183.44 257.49L183.55 259.29L183.66 259.95L183.77 260.39L183.88 257.75L183.99 262.78L184.1 262.57L184.21 260.69L184.32 264.41L184.43 262.26L184.54 259.01L184.66 261.72L184.77 260.66L184.88 259.76L184.99 262.92L185.1 260.47L185.21 262.01L185.32 262.8L185.43 261.4L185.54 261.03L185.65 261.62L185.76 262.06L185.87 259.31L185.98 258.97L186.1 259.99L186.21 261.1L186.32 262.73L186.43 262.33L186.54 262.82L186.65 260.58L186.76 259.38L186.87 259.38L186.98 260.98L187.09 261.59L187.2 260.63L187.31 260.73L187.42 259.92L187.53 258.43L187.65 262.1L187.76 257.38L187.87 264.51L187.98 263.96L188.09 263.51L188.2 262.68L188.31 261.33L188.42 257.42L188.53 262.13L188.64 259.06L188.75 261.55L188.86 260.68L188.97 262.67L189.08 257.07L189.2 261L189.31 261.98L189.42 257.07L189.53 260.63L189.64 260.23L189.75 261.18L189.86 262.35L189.97 263.37L190.08 261.23L190.19 258.19L190.3 260.22L190.41 261.23L190.52 259.13L190.63 262.52L190.75 258.6L190.86 260.96L190.97 262.35L191.08 259.78L191.19 260.06L191.3 261.52L191.41 260.57L191.52 259.27L191.63 258.55L191.74 262.38L191.85 265.41L191.96 257.45L192.07 261.38L192.18 261.65L192.3 260.2L192.41 261.66L192.52 259.16L192.63 263.05L192.74 261.28L192.85 263.07L192.96 258.34L193.07 261.36L193.18 259.07L193.29 258.58L193.4 262.97L193.51 261.31L193.62 259.71L193.73 260.85L193.85 261.16L193.96 259.5L194.07 259.38L194.18 261.94L194.29 261.17L194.4 259.83L194.51 260.58L194.62 260.69L194.73 262.84L194.84 257.95L194.95 261.33L195.06 260.48L195.17 261L195.28 260.82L195.4 260.68L195.51 262.36L195.62 260.29L195.73 258.89L195.84 260.25L195.95 259.7L196.06 260.11L196.17 260.88L196.28 257.85L196.39 262.1L196.5 260.28L196.61 259.19L196.72 260.44L196.84 262.73L196.95 262.78L197.06 258.27L197.17 262.57L197.28 260.92L197.39 260.01L197.5 260.78L197.61 263.96L197.72 264.17L197.83 261.12L197.94 262.25L198.05 261.38L198.16 260.78L198.27 260.66L198.39 263.21L198.5 263.8L198.61 259.33L198.72 262.01L198.83 262.93L198.94 264.34L199.05 260.02L199.16 263.08L199.27 262.72L199.38 259.87L199.49 260.41L199.6 259.98L199.71 263.1L199.82 265.82L199.94 262.62L200.05 261.45L200.16 262.07L200.27 259.42L200.38 260.32L200.49 262.72L200.6 259.97L200.71 261.19L200.82 261.76L200.93 259.02L201.04 263.79L201.15 259.17L201.26 259.07L201.37 264.45L201.49 261.26L201.6 261.21L201.71 262.87L201.82 261.91L201.93 262.32L202.04 260.83L202.15 261.89L202.26 264.6L202.37 258.89L202.48 259.4L202.59 262.36L202.7 259.44L202.81 257.48L202.92 263.59L203.04 261.64L203.15 261.82L203.26 259.98L203.37 261.45L203.48 263.33L203.59 258.78L203.7 261.49L203.81 259.69L203.92 257.02L204.03 262.21L204.14 261.64L204.25 259.37L204.36 261.12L204.47 260.04L204.59 260.94L204.7 256.13L204.81 259.85L204.92 260.34L205.03 260.72L205.14 260.27L205.25 263.73L205.36 261.4L205.47 259.66L205.58 263L205.69 260.86L205.8 261.1L205.91 261.82L206.03 256.65L206.14 259.71L206.25 260.36L206.36 262.28L206.47 260.79L206.58 261.45L206.69 261.09L206.8 260.55L206.91 256.64L207.02 258.64L207.13 258L207.24 258.57L207.35 256.08L207.46 262.07L207.58 263.14L207.69 260.58L207.8 260.49L207.91 260.87L208.02 262L208.13 259.75L208.24 257.97L208.35 260.55L208.46 261.32L208.57 258.88L208.68 261.45L208.79 261.54L208.9 260.39L209.01 264.85L209.13 257.69L209.24 261.11L209.35 260.04L209.46 260.39L209.57 260.23L209.68 263.22L209.79 257.89L209.9 259.94L210.01 260.41L210.12 255.52L210.23 263.11L210.34 259.66L210.45 261.1L210.56 263.51L210.68 257.59L210.79 263.6L210.9 260.69L211.01 261.07L211.12 260.61L211.23 262.54L211.34 258.58L211.45 260.49L211.56 263.12L211.67 263.02L211.78 260.46L211.89 262.92L212 260.18L212.11 260.36L212.23 261.93L212.34 264.25L212.45 263.16L212.56 260.31L212.67 261.82L212.78 257.73L212.89 261.68L213 260.27L213.11 259.76L213.22 260.77L213.33 260.39L213.44 259.19L213.55 261.17L213.66 260.35L213.78 261.54L213.89 257.48L214 260.63L214.11 259.49L214.22 266.04L214.33 261.76L214.44 262.86L214.55 260.86L214.66 261.69L214.77 262.73L214.88 261.4L214.99 259.53L215.1 259.09L215.21 261.84L215.33 259.11L215.44 261.99L215.55 259.86L215.66 262.4L215.77 259.13L215.88 256.94L215.99 261.43L216.1 258.82L216.21 263.42L216.32 262.01L216.43 256.35L216.54 261.04L216.65 260.06L216.77 263.72L216.88 260.95L216.99 262.27L217.1 258.86L217.21 261.84L217.32 256.54L217.43 262.81L217.54 260.36L217.65 264.37L217.76 261.62L217.87 258.84L217.98 261.11L218.09 263.16L218.2 260.08L218.32 259.3L218.43 260.17L218.54 259.22L218.65 263.37L218.76 257.8L218.87 259.71L218.98 264.55L219.09 257.71L219.2 261.73L219.31 260.05L219.42 264.33L219.53 262.01L219.64 264.07L219.75 259.49L219.87 261.33L219.98 262.51L220.09 261.57L220.2 259L220.31 262.27L220.42 259.95L220.53 262.96L220.64 263.79L220.75 261.77L220.86 261.42L220.97 260.63L221.08 259.31L221.19 261.64L221.3 261.56L221.42 259.62L221.53 260.2L221.64 261.02L221.75 260.52L221.86 264.69L221.97 261.87L222.08 263.68L222.19 261.54L222.3 259.39L222.41 263.82L222.52 259.35L222.63 261.9L222.74 261.29L222.85 261.73L222.97 259.72L223.08 262.08L223.19 264.5L223.3 260.38L223.41 261.19L223.52 259.85L223.63 259.9L223.74 263.01L223.85 260.58L223.96 260.73L224.07 261.06L224.18 260.77L224.29 260.39L224.4 261.89L224.52 261.19L224.63 259.25L224.74 262.76L224.85 261.07L224.96 262.68L225.07 262.76L225.18 261.65L225.29 260.63L225.4 258.33L225.51 261.28L225.62 259.33L225.73 260.01L225.84 260.82L225.95 266.26L226.07 260.72L226.18 260.84L226.29 262.72L226.4 260.71L226.51 258.4L226.62 262.92L226.73 261.81L226.84 259.38L226.95 264.03L227.06 262.71L227.17 260.43L227.28 259.3L227.39 258.85L227.51 259.64L227.62 256.98L227.73 260.27L227.84 263.15L227.95 261.27L228.06 259.86L228.17 260.3L228.28 264.26L228.39 260.28L228.5 262.3L228.61 261.28L228.72 258.42L228.83 261.22L228.94 262.07L229.06 261.14L229.17 262.04L229.28 257.42L229.39 259.52L229.5 259.37L229.61 262.11L229.72 262.04L229.83 260.49L229.94 264.68L230.05 259.18L230.16 263.13L230.27 260.76L230.38 260.36L230.49 262.29L230.61 260.33L230.72 259.74L230.83 257.67L230.94 260.26L231.05 257.81L231.16 260.13L231.27 261.27L231.38 259.46L231.49 261.83L231.6 260.67L231.71 259.86L231.82 258.97L231.93 260.46L232.04 263.44L232.16 258.71L232.27 260.64L232.38 261.45L232.49 262.32L232.6 259.94L232.71 260.36L232.82 259.76L232.93 261.16L233.04 258.3L233.15 261.38L233.26 260.23L233.37 260.59L233.48 259.11L233.59 262.12L233.71 261.45L233.82 261.31L233.93 262.07L234.04 262.06L234.15 263L234.26 259.65L234.37 258.38L234.48 262.62L234.59 259.62L234.7 262.91L234.81 262.33L234.92 261.48L235.03 260.73L235.14 260.16L235.26 264.25L235.37 263.19L235.48 260.8L235.59 261.36L235.7 257.29L235.81 261.41L235.92 262.05L236.03 258.87L236.14 265.51L236.25 264.14L236.36 256.28L236.47 262.01L236.58 260.82L236.69 261.26L236.81 262.46L236.92 261.19L237.03 263.19L237.14 259.29L237.25 259.62L237.36 259.78L237.47 262.51L237.58 264.26L237.69 261.77L237.8 262.82L237.91 260.28L238.02 263.71L238.13 262.53L238.25 260.71L238.36 260.21L238.47 260.78L238.58 263.11L238.69 262.11L238.8 257.51L238.91 259.33L239.02 262.36L239.13 257.68L239.24 261.17L239.35 260.95L239.46 262.36L239.57 258.35L239.68 260.76L239.8 261.08L239.91 262.52L240.02 263.14L240.13 260.64L240.24 260.93L240.35 258.28L240.46 262.5L240.57 261.58L240.68 259.25L240.79 259.55L240.9 262.11L241.01 258.44L241.12 260.13L241.23 259.42L241.35 260.35L241.46 259.28L241.57 261.66L241.68 261.31L241.79 259.08L241.9 260.27L242.01 260.33L242.12 258.99L242.23 260.54L242.34 260.25L242.45 264.72L242.56 261.84L242.67 259.53L242.78 262.46L242.9 261.44L243.01 260.55L243.12 261.18L243.23 259.46L243.34 260.14L243.45 261.24L243.56 259.08L243.67 261.56L243.78 262.16L243.89 260.4L244 259.86L244.11 261.19L244.22 262.79L244.33 261.83L244.45 260.56L244.56 259.78L244.67 257.91L244.78 261.21L244.89 261.32L245 264.62L245.11 258.76L245.22 259.38L245.33 260.93L245.44 262.16L245.55 265.42L245.66 259.7L245.77 262.29L245.88 258.36L246 259.64L246.11 258.74L246.22 261.19L246.33 258.9L246.44 263.35L246.55 258.44L246.66 261L246.77 262.97L246.88 261.63L246.99 262.61L247.1 260.49L247.21 262.18L247.32 263.13L247.44 261.56L247.55 261.34L247.66 260.59L247.77 259.75L247.88 258.78L247.99 260.24L248.1 258.13L248.21 265.18L248.32 261.07L248.43 259.34L248.54 263.2L248.65 261.29L248.76 260.57L248.87 263.6L248.99 261.93L249.1 259.92L249.21 261.49L249.32 258.31L249.43 256.89L249.54 261.07L249.65 262.91L249.76 261.01L249.87 261.91L249.98 263.39L250.09 261.63L250.2 261.74L250.31 261.55L250.42 259.37L250.54 259.11L250.65 260.24L250.76 261.56L250.87 260.22L250.98 260.9L251.09 260.56L251.2 262.6L251.31 266.22L251.42 259.43L251.53 261.96L251.64 261.8L251.75 260.97L251.86 261.04L251.97 261.46L252.09 258.33L252.2 260.72L252.31 260.55L252.42 262.46L252.53 261.11L252.64 260.15L252.75 261.08L252.86 260.39L252.97 262.55L253.08 260.3L253.19 262.69L253.3 261.69L253.41 262.26L253.52 260.64L253.64 259.08L253.75 260.45L253.86 262.44L253.97 260.71L254.08 259.17L254.19 259.7L254.3 260.09L254.41 262.87L254.52 261.89L254.63 262.1L254.74 261.75L254.85 260.54L254.96 260.87L255.07 261.54L255.19 259.97L255.3 262.16L255.41 261.5L255.52 260.76L255.63 263.26L255.74 262.4L255.85 263.32L255.96 262.73L256.07 261.18L256.18 261.16L256.29 260.36L256.4 260.38L256.51 262.88L256.62 257.76L256.74 258.63L256.85 263.02L256.96 262.12L257.07 261.76L257.18 260.6L257.29 259.89L257.4 260.94" stroke="#000" stroke-width="1.15" fill="none"/>
<g clip-path="url(#cp10)"><rect x="105.5" y="189.5" width="173" height="13" rx="2.5" fill="#fff" fill-opacity=".8" stroke="#000"/>
<text x="109 114 119 124 126 130 133 138 143 145 148 152 155 159 164 169 174 179 184 189 192 195 198 203 211 214 218 222" y="200" style="font-size:8px" stroke="#000" stroke-width=".35">yaxis units changed from "cm</text>
<text x="230 233" y="196" style="font-size:8px" stroke="#000" stroke-width=".35">-3</text>
<text x="238 242 245 248 253 256 260" y="200" style="font-size:8px" stroke="#000" stroke-width=".35">" to "s</text>
<text x="264 267" y="196" style="font-size:8px" stroke="#000" stroke-width=".35">-1</text>
<text x="272" y="200" style="font-size:8px" stroke="#000" stroke-width=".35">"</text>
</g>
<g clip-path="url(#cp11)">
<path d="M336.54 218.93L350.67 257.55L365.61 191.85L380.54 220.52L395.07 216.34L409.8 275.47L424.73 239.63L439.47 235.45L454.4 245.01L468.93 249.39L483.86 234.06L498.79 223.71" stroke="#000" stroke-width="1" fill="none"/>
<path d="M349.07 257.55a1.6 1.6 0 1 0 3.2 0a1.6 1.6 0 1 0 -3.2 0M364.01 191.85a1.6 1.6 0 1 0 3.2 0a1.6 1.6 0 1 0 -3.2 0M378.94 220.52a1.6 1.6 0 1 0 3.2 0a1.6 1.6 0 1 0 -3.2 0M393.47 216.34a1.6 1.6 0 1 0 3.2 0a1.6 1.6 0 1 0 -3.2 0M408.2 275.47a1.6 1.6 0 1 0 3.2 0a1.6 1.6 0 1 0 -3.2 0M423.13 239.63a1.6 1.6 0 1 0 3.2 0a1.6 1.6 0 1 0 -3.2 0M437.87 235.45a1.6 1.6 0 1 0 3.2 0a1.6 1.6 0 1 0 -3.2 0M452.8 245.01a1.6 1.6 0 1 0 3.2 0a1.6 1.6 0 1 0 -3.2 0M467.33 249.39a1.6 1.6 0 1 0 3.2 0a1.6 1.6 0 1 0 -3.2 0M482.26 234.06a1.6 1.6 0 1 0 3.2 0a1.6 1.6 0 1 0 -3.2 0M497.19 223.71a1.6 1.6 0 1 0 3.2 0a1.6 1.6 0 1 0 -3.2 0" fill="#000"/>
</g>
<g clip-path="url(#cp11)"><rect x="345.5" y="189.5" width="179" height="13" rx="2.5" fill="#fff" fill-opacity=".8" stroke="#000"/>
<text x="349 354 359 364 366 370 373 378 383 385 388 392 395 399 404 409 414 419 424 429 432 435 438 443 451 454 458 462" y="200" style="font-size:8px" stroke="#000" stroke-width=".35">yaxis units changed from "cm</text>
<text x="470 473" y="196" style="font-size:8px" stroke="#000" stroke-width=".35">-3</text>
<text x="478 482 485 488 493 496 500 505" y="200" style="font-size:8px" stroke="#000" stroke-width=".35">" to "kg</text>
<text x="510 513" y="196" style="font-size:8px" stroke="#000" stroke-width=".35">-1</text>
<text x="518" y="200" style="font-size:8px" stroke="#000" stroke-width=".35">"</text>
</g>
<text x="583 588 596 604 607 611 615 618 629 637" y="205">real, imag</text>
<g clip-path="url(#cp13)">
<path d="M827.3 236.37L827.47 236.31L827.64 233.05L827.81 238.37L827.99 234.51L828.16 238.3L828.33 232.27L828.5 233.89L828.67 231.81L828.84 235.16L829.01 233.53L829.19 234.76L829.36 235.58L829.53 233.99L829.7 236.51L829.87 234.89L830.04 233L830.21 234.15L830.39 234.99L830.56 230.32L830.73 234.15L830.9 235.3L831.07 233.96L831.24 235.19L831.41 234.94L831.59 234.88L831.76 230.61L831.93 234.21L832.1 233.93L832.27 233.04L832.44 230.63L832.61 234.65L832.79 235.37L832.96 229.81L833.13 236.87L833.3 234.91L833.47 233.05L833.64 230.15L833.81 235.96L833.99 238.61L834.16 233.06L834.33 235.19L834.5 234.95L834.67 233.42L834.84 233.85L835.01 233.73L835.18 235.02L835.36 231.93L835.53 231.55L835.7 234.19L835.87 235.06L836.04 232.93L836.21 233.39L836.38 236.12L836.56 235.08L836.73 232.37L836.9 234.42L837.07 234.84L837.24 233.87L837.41 234.31L837.58 234.25L837.76 237.72L837.93 231.11L838.1 233.89L838.27 235.82L838.44 232.49L838.61 233.7L838.78 234.22L838.96 232.37L839.13 230.19L839.3 233.26L839.47 231.4L839.64 230.38L839.81 236.08L839.98 235.19L840.16 232.86L840.33 237.32L840.5 234.73L840.67 231.93L840.84 232.38L841.01 233.21L841.18 237.65L841.36 230.03L841.53 233.26L841.7 232.87L841.87 233.36L842.04 237.33L842.21 236.83L842.38 236.43L842.56 230.81L842.73 235.74L842.9 234.69L843.07 234.71L843.24 233.22L843.41 233.35L843.58 233.77L843.76 236.52L843.93 239.89L844.1 233.95L844.27 233.77L844.44 232.04L844.61 234.44L844.78 235.35L844.96 233.51L845.13 237.04L845.3 236.12L845.47 236.06L845.64 233.73L845.81 230.49L845.98 232.88L846.16 232.2L846.33 233.82L846.5 233.75L846.67 235.06L846.84 234.75L847.01 238.61L847.18 236.41L847.36 236.56L847.53 232.75L847.7 233.06L847.87 232.2L848.04 231.46L848.21 234.8L848.38 232.35L848.56 230.74L848.73 234.27L848.9 232.3L849.07 234.55L849.24 237.15L849.41 234.03L849.58 235.73L849.76 234.05L849.93 235.08L850.1 233.68L850.27 238.09L850.44 230.51L850.61 231.81L850.78 234.88L850.95 235.88L851.13 234.24L851.3 233.04L851.47 233.49L851.64 233.53L851.81 237.79L851.98 236.28L852.15 231.84L852.33 233.82L852.5 236.98L852.67 235.81L852.84 236.85L853.01 236.08L853.18 232.13L853.35 234.65L853.53 232.22L853.7 233.91L853.87 236.98L854.04 235.43L854.21 230.08L854.38 235.65L854.55 236.16L854.73 232L854.9 234.09L855.07 234.26L855.24 231.57L855.41 237.47L855.58 233.49L855.75 236.18L855.93 236.82L856.1 235.74L856.27 232.14L856.44 234.51L856.61 237.61L856.78 236.28L856.95 231.46L857.13 232.37L857.3 236.25L857.47 229.8L857.64 234.92L857.81 236.44L857.98 234.5L858.15 232.53L858.33 231.3L858.5 232.36L858.67 235.03L858.84 235.28L859.01 236.92L859.18 234.39L859.35 235.34L859.53 233.8L859.7 236.58L859.87 235.2L860.04 235.87L860.21 236.46L860.38 236.42L860.55 236.12L860.73 236.42L860.9 233.21L861.07 234.07L861.24 236.68L861.41 233.31L861.58 233.72L861.75 231.57L861.93 234.61L862.1 234.63L862.27 235.52L862.44 234.02L862.61 233.34L862.78 233.93L862.95 234.72L863.13 233.21L863.3 234.08L863.47 233.8L863.64 235.97L863.81 233.87L863.98 236.08L864.15 235.8L864.33 233.95L864.5 230.38L864.67 232.42L864.84 234.24L865.01 234.58L865.18 232.43L865.35 231.71L865.53 232.01L865.7 234.59L865.87 233.9L866.04 234.86L866.21 234.77L866.38 235.82L866.55 234.71L866.72 238.2L866.9 236.45L867.07 233.47L867.24 235.95L867.41 233.26L867.58 236.63L867.75 234.93L867.92 233.52L868.1 236.16L868.27 235.56L868.44 229.71L868.61 235.5L868.78 235.55L868.95 235.3L869.12 234.19L869.3 234.3L869.47 232.44L869.64 232.79L869.81 234.99L869.98 234.9L870.15 236.85L870.32 237L870.5 235.61L870.67 232.91L870.84 234.03L871.01 232.78L871.18 232.52L871.35 234.55L871.52 230.39L871.7 235.21L871.87 235.4L872.04 235.04L872.21 232.16L872.38 234.5L872.55 235.61L872.72 233.45L872.9 232.17L873.07 234.46L873.24 234.71L873.41 232.26L873.58 232.45L873.75 232.51L873.92 235.65L874.1 233.73L874.27 233.58L874.44 237.55L874.61 232.04L874.78 234.07L874.95 234.88L875.12 230.1L875.3 233.98L875.47 235.57L875.64 234.37L875.81 233.22L875.98 232.76L876.15 234.35L876.32 235.84L876.5 235.53L876.67 235.75L876.84 236.18L877.01 234.29L877.18 235.15L877.35 234.15L877.52 235.77L877.7 235.84L877.87 234.59L878.04 234.89L878.21 232.14L878.38 235.91L878.55 233.87L878.72 234.33L878.9 236.65L879.07 232.92L879.24 233.94L879.41 238.1L879.58 233.15L879.75 232.53L879.92 235.71L880.1 231.15L880.27 233.97L880.44 236.36L880.61 233.22L880.78 234.91L880.95 236.7L881.12 238.18L881.29 233.8L881.47 235.6L881.64 233.07L881.81 233.54L881.98 235.2L882.15 235.22L882.32 231.01L882.49 231.12L882.67 232.87L882.84 234.9L883.01 236.05L883.18 234.96L883.35 231.2L883.52 233.41L883.69 234.78L883.87 236.5L884.04 233.94L884.21 235.86L884.38 234.23L884.55 232.89L884.72 232.29L884.89 233.99L885.07 234.88L885.24 233.83L885.41 230.95L885.58 233.56L885.75 236.81L885.92 231.41L886.09 233.79L886.27 227.88L886.44 235.11L886.61 234.42L886.78 234.79L886.95 233.56L887.12 235.31L887.29 236.95L887.47 237.76L887.64 234.48L887.81 235.19L887.98 235.31L888.15 230.38L888.32 232.8L888.49 232.26L888.67 235.16L888.84 233.7L889.01 234.64L889.18 234.62L889.35 232.89L889.52 233.15L889.69 233.69L889.87 233.98L890.04 236.88L890.21 235.6L890.38 233.55L890.55 234.92L890.72 235.67L890.89 233.6L891.07 235.93L891.24 235.48L891.41 232.64L891.58 234.9L891.75 231.64L891.92 233.3L892.09 232.77L892.27 232.19L892.44 238.19L892.61 234.39L892.78 236.6L892.95 235.1L893.12 234.44L893.29 231.98L893.47 234.33L893.64 231.26L893.81 235.21L893.98 234.35L894.15 234.08L894.32 232.53L894.49 234.34L894.67 235.38L894.84 234.85L895.01 236.8L895.18 231.96L895.35 232.89L895.52 233.47L895.69 233.75L895.87 235.35L896.04 234.99L896.21 232.78L896.38 235.69L896.55 235.67L896.72 231.38L896.89 231.41L897.06 233.72L897.24 233.28L897.41 233.91L897.58 231.66L897.75 235.06L897.92 234.1L898.09 233.37L898.26 231.63L898.44 234.7L898.61 233.83L898.78 235.14L898.95 235.44L899.12 235.44L899.29 234.1L899.46 232.64L899.64 235.51L899.81 235.34L899.98 234.98L900.15 233.61L900.32 232.98L900.49 236.51L900.66 233.61L900.84 236.05L901.01 232.96L901.18 235.99L901.35 236.21L901.52 235.54L901.69 234.36L901.86 236.05L902.04 233.87L902.21 233.98L902.38 234.1L902.55 233.76L902.72 232.67L902.89 235.57L903.06 234.25L903.24 234.3L903.41 237.96L903.58 233.55L903.75 235.64L903.92 235.55L904.09 235.05L904.26 234.07L904.44 233.65L904.61 233.38L904.78 235.5L904.95 232.99L905.12 233.5L905.29 234.95L905.46 234.29L905.64 232.8L905.81 233.47L905.98 233L906.15 234.06L906.32 232.2L906.49 230.25L906.66 233.43L906.84 237.13L907.01 231.14L907.18 235.28L907.35 236.73L907.52 238.51L907.69 233.48L907.86 232.28L908.04 232.45L908.21 234.94L908.38 231.65L908.55 234.39L908.72 235.31L908.89 234.13L909.06 233.87L909.24 234.16L909.41 233.53L909.58 238.19L909.75 231.43L909.92 235.27L910.09 233.08L910.26 235.69L910.44 233.96L910.61 234.57L910.78 237.09L910.95 233.56L911.12 233.11L911.29 236.25L911.46 238.02L911.64 235.41L911.81 235.76L911.98 234.05L912.15 234.28L912.32 231.35L912.49 233.09L912.66 234.71L912.83 233.96L913.01 239.43L913.18 235.88L913.35 235.91L913.52 234.45L913.69 233.68L913.86 233.87L914.03 232.57L914.21 235.49L914.38 233.7L914.55 234.48L914.72 234.23L914.89 233.67L915.06 234.76L915.23 233.87L915.41 234.31L915.58 232.41L915.75 234.45L915.92 233.7L916.09 229.59L916.26 233.13L916.43 233.33L916.61 232.32L916.78 236.06L916.95 232.98L917.12 232.91L917.29 233.46L917.46 232.5L917.63 232.84L917.81 232.12L917.98 235.4L918.15 233.47L918.32 235.23L918.49 232.03L918.66 234.01L918.83 236.58L919.01 234.05L919.18 236.05L919.35 232.49L919.52 234.86L919.69 238.17L919.86 234.94L920.03 232.42L920.21 233.66L920.38 235.38L920.55 233.09L920.72 233.22L920.89 231.62L921.06 232.63L921.23 233.59L921.41 235.66L921.58 233.74L921.75 233.71L921.92 234.23L922.09 233.5L922.26 236.37L922.43 233.23L922.61 234.23L922.78 233.61L922.95 234.42L923.12 234.79L923.29 233.79L923.46 232.85L923.63 234.82L923.81 233.67L923.98 235.62L924.15 233.5L924.32 234.22L924.49 236.54L924.66 232.17L924.83 235.84L925.01 234.11L925.18 236.59L925.35 237.34L925.52 233.07L925.69 236.75L925.86 237.95L926.03 234.63L926.21 237.01L926.38 234.61L926.55 230.99L926.72 234.95L926.89 233.61L927.06 233.25L927.23 233.81L927.41 234.46L927.58 231.56L927.75 234.39L927.92 233.62L928.09 234.05L928.26 236.53L928.43 233.68L928.6 234.15L928.78 233.1L928.95 233.02L929.12 231.46L929.29 237.63L929.46 235.24L929.63 235.09L929.8 235.79L929.98 233.51L930.15 234.39L930.32 234L930.49 237.15L930.66 235.95L930.83 234.37L931 235.05L931.18 235.33L931.35 234.46L931.52 234.74L931.69 236.14L931.86 231.29L932.03 235.45L932.2 233.09L932.38 233.19L932.55 232.53L932.72 235.27L932.89 236.02L933.06 233.47L933.23 233.79L933.4 238.44L933.58 238.9L933.75 235.22L933.92 234.94L934.09 234.73L934.26 233.51L934.43 235.97L934.6 229.55L934.78 232.65L934.95 231.94L935.12 233.77L935.29 237.94L935.46 233.83L935.63 235.23L935.8 233.47L935.98 234.45L936.15 233.06L936.32 235.81L936.49 234.9L936.66 234.24L936.83 235.59L937 235.06L937.18 233.16L937.35 230.83L937.52 234.63L937.69 232.79L937.86 236.27L938.03 235.06L938.2 233.67L938.38 233.23L938.55 236.07L938.72 233.19L938.89 233.99L939.06 231.93L939.23 232.59L939.4 233.28L939.58 234.95L939.75 233.79L939.92 235.77L940.09 235.72L940.26 237.52L940.43 236.56L940.6 236.5L940.78 234.43L940.95 234.07L941.12 236.63L941.29 234.43L941.46 233.54L941.63 232.61L941.8 234.42L941.98 233.87L942.15 234.92L942.32 232.62L942.49 237.02L942.66 233.83L942.83 238.36L943 231.23L943.17 232.62L943.35 237.99L943.52 235.19L943.69 236.75L943.86 237.38L944.03 234.99L944.2 235.82L944.37 232.42L944.55 235.19L944.72 236.22L944.89 234.4L945.06 233.54L945.23 232.81L945.4 233.37L945.57 236.9L945.75 235.72L945.92 234.59L946.09 235.75L946.26 232.95L946.43 234.87L946.6 234.4L946.77 234.93L946.95 234.19L947.12 236.92L947.29 230.56L947.46 235.27L947.63 235.56L947.8 237.42L947.97 234.43L948.15 236.71L948.32 233.69L948.49 232.16L948.66 233.2L948.83 235.06L949 232.03L949.17 234.61L949.35 234.36L949.52 234.16L949.69 235.12L949.86 233.53L950.03 236.45L950.2 237.41L950.37 232.16L950.55 235.57L950.72 234.9L950.89 233.69L951.06 235.11L951.23 236.36L951.4 234.63L951.57 235.95L951.75 233.31L951.92 235.06L952.09 234.73L952.26 232.92L952.43 237.01L952.6 236.91L952.77 232.99L952.95 232.04L953.12 234.12L953.29 235.52L953.46 232.11L953.63 233.36L953.8 232.47L953.97 237.48L954.15 234.51L954.32 236.1L954.49 236.22L954.66 233.25L954.83 232.99L955 235.11L955.17 234.72L955.35 231.85L955.52 233.12L955.69 234.49L955.86 233.38L956.03 234.08L956.2 236.51L956.37 235.19L956.55 233.78L956.72 233.18L956.89 236.4L957.06 235.7L957.23 235.31L957.4 236.95L957.57 232.33L957.75 233.47L957.92 231.96L958.09 238.14L958.26 235.71L958.43 231.07L958.6 236.76L958.77 237.5L958.94 233.89L959.12 231.5L959.29 233.15L959.46 235.97L959.63 233.3L959.8 233.55L959.97 233.81L960.14 233.59L960.32 232.81L960.49 232.22L960.66 231.86L960.83 232.4L961 234.54L961.17 237.54L961.34 233.31L961.52 236.93L961.69 230.25L961.86 236.32L962.03 237.54L962.2 237.54L962.37 233.58L962.54 233.74L962.72 233.13L962.89 233.77L963.06 235.65L963.23 232.84L963.4 235.5L963.57 236.93L963.74 232.67L963.92 233.33L964.09 235.93L964.26 234.72L964.43 232.46L964.6 232.62L964.77 236.17L964.94 232.32L965.12 238.85L965.29 234.12L965.46 233.6L965.63 234.49L965.8 234.07L965.97 237.11L966.14 234.5L966.32 233.39L966.49 235.91L966.66 234.03L966.83 234.57L967 238.26L967.17 235.35L967.34 233.25L967.52 237.02L967.69 234.23L967.86 233.68L968.03 236.53L968.2 234.71L968.37 232.69L968.54 232.99L968.72 236.02L968.89 232.47L969.06 233.67L969.23 234.05L969.4 231.6L969.57 232.97L969.74 233.61L969.92 232.56L970.09 233.09L970.26 232.02L970.43 234.47L970.6 237.41L970.77 231.51L970.94 232.84L971.12 233.33L971.29 234.18L971.46 234.42L971.63 234.08L971.8 235.94L971.97 232.89L972.14 234.11L972.32 235.95L972.49 233.79L972.66 234.84L972.83 234.31L973 233.3L973.17 229.48L973.34 236.15L973.52 233.53L973.69 233L973.86 233.51L974.03 231.62L974.2 235.02L974.37 234.84L974.54 234.28L974.71 236.69L974.89 232.3L975.06 236.46L975.23 233.29L975.4 232.14L975.57 235.74L975.74 234.57L975.91 234.62L976.09 231.21L976.26 233.79L976.43 237.38L976.6 232.35L976.77 232.42L976.94 237.8L977.11 239.09L977.29 229.62L977.46 234.1L977.63 238.03L977.8 232.38L977.97 231.74L978.14 238.49L978.31 231.99L978.49 233L978.66 234.3L978.83 235.51L979 233.57L979.17 235.7L979.34 233.97L979.51 234.71L979.69 235.05L979.86 233.28L980.03 232.51L980.2 232.68L980.37 233.46L980.54 231.26L980.71 236.5L980.89 234.14L981.06 233.92L981.23 232.09L981.4 238.28" stroke="#b4242a" stroke-width="1" fill="none"/>
<path d="M896.95 232.62L897.42 194.66L897.88 232.62" stroke="#b4242a" stroke-width="1.3" fill="none"/>
<path d="M911.44 232.62L911.9 194.66L912.67 232.62" stroke="#b4242a" stroke-width="1.3" fill="none"/>
<path d="M827.3 233.39L827.37 237.32L827.44 235.58L827.51 234.12L827.58 231.72L827.65 234.24L827.72 237.09L827.79 233.71L827.86 236.3L827.93 232.15L828 234.69L828.07 231.2L828.14 234.47L828.21 236.01L828.28 236.77L828.35 234.87L828.42 233.49L828.49 232.21L828.56 233.79L828.63 235.52L828.7 233.39L828.77 236.71L828.84 233.38L828.91 235.54L828.98 231.69L829.05 232.55L829.12 233.62L829.19 236L829.26 233.31L829.33 233.62L829.4 235.19L829.47 235.32L829.54 232.07L829.61 234.94L829.68 233.49L829.75 231.87L829.82 236.8L829.89 231.19L829.96 232.51L830.03 235.36L830.1 235.88L830.17 236.34L830.24 232.65L830.31 238.66L830.38 232.65L830.45 233.96L830.52 235.42L830.59 235.12L830.66 234.88L830.73 234.64L830.8 232.72L830.87 235.68L830.94 232.37L831.01 232.56L831.08 234.68L831.15 233.2L831.22 235.18L831.29 234.15L831.36 233.39L831.43 230.92L831.5 234.34L831.57 234.51L831.64 234.19L831.71 234.56L831.78 236.1L831.86 231.03L831.93 235.32L832 235.25L832.07 235.47L832.14 233.06L832.21 229.16L832.28 229.04L832.35 232.55L832.42 233.65L832.49 234.29L832.56 235.98L832.63 232.97L832.7 234.4L832.77 230.66L832.84 234.72L832.91 235.98L832.98 237.41L833.05 237.31L833.12 233.2L833.19 233.66L833.26 236.23L833.33 236.89L833.4 233.76L833.47 234.86L833.54 233.86L833.61 234.28L833.68 235.6L833.75 237.24L833.82 234.02L833.89 234.08L833.96 233.93L834.03 232.62L834.1 232.65L834.17 235.1L834.24 233.24L834.31 238L834.38 233.07L834.45 234.3L834.52 232.49L834.59 232.54L834.66 235.87L834.73 234.47L834.8 232.32L834.87 235.19L834.94 234.12L835.01 235.3L835.08 233.23L835.15 233.74L835.22 235.68L835.29 236.71L835.36 238.09L835.43 232.78L835.5 235.02L835.57 235.45L835.64 235.16L835.71 235.84L835.78 233.07L835.85 233.16L835.92 238.13L835.99 234.3L836.06 234.07L836.13 234.81L836.2 234.07L836.27 231.35L836.34 233.69L836.41 232.17L836.48 232.48L836.55 236.87L836.62 231.16L836.69 233.88L836.76 234.74L836.83 232.78L836.9 230.36L836.97 235.61L837.04 235.42L837.11 233.62L837.18 237.33L837.25 236.18L837.32 234.15L837.39 232.94L837.46 233.29L837.53 232.78L837.6 232.35L837.67 235L837.74 234.84L837.81 234.79L837.88 234.81L837.95 232.3L838.02 232.73L838.09 237.82L838.16 233.4L838.23 236.08L838.3 236.18L838.37 231.99L838.44 231.93L838.51 232.19L838.58 233.06L838.65 231.07L838.72 236.23L838.79 232.78L838.86 235.42L838.93 235.3L839 237.1L839.07 231.57L839.14 231.13L839.21 232.7L839.28 235.25L839.35 233.92L839.42 236.09L839.49 234.7L839.56 231.58L839.63 231.42L839.7 233.05L839.77 232.86L839.84 234.44L839.91 233.58L839.98 234.52L840.05 233.38L840.12 235.33L840.19 232.47L840.26 234.63L840.33 233.86L840.4 234.46L840.47 231.54L840.54 232.63L840.61 235.62L840.68 235.87L840.75 233.21L840.82 234.03L840.89 234.63L840.97 233.84L841.04 231.33L841.11 234.38L841.18 231.72L841.25 235.08L841.32 234.63L841.39 233.68L841.46 234.35L841.53 235.09L841.6 236.08L841.67 234.81L841.74 234.93L841.81 234.23L841.88 232.39L841.95 233.32L842.02 232.2L842.09 233.85L842.16 233.43L842.23 233.12L842.3 232.96L842.37 232.44L842.44 235.18L842.51 233.46L842.58 233.86L842.65 232.08L842.72 232.74L842.79 235.2L842.86 233.47L842.93 232.97L843 234.11L843.07 232.02L843.14 233.75L843.21 236.42L843.28 233.67L843.35 232.84L843.42 235.61L843.49 232.99L843.56 239L843.63 230.69L843.7 236.65L843.77 235.05L843.84 234.77L843.91 236.66L843.98 233.69L844.05 235.81L844.12 236.55L844.19 238.23L844.26 233.02L844.33 232.19L844.4 234.71L844.47 233.85L844.54 231.45L844.61 233.53L844.68 232.22L844.75 232.47L844.82 232.92L844.89 233.28L844.96 232.15L845.03 233.82L845.1 233.97L845.17 235.44L845.24 237.8L845.31 235.8L845.38 234.77L845.45 232.39L845.52 234.8L845.59 237.63L845.66 233.02L845.73 232.05L845.8 233.64L845.87 233.68L845.94 233.7L846.01 234.31L846.08 231.75L846.15 235.63L846.22 235.49L846.29 236.73L846.36 235.07L846.43 235.4L846.5 235.33L846.57 233.85L846.64 232.36L846.71 236.55L846.78 233.97L846.85 235.41L846.92 235.35L846.99 234.97L847.06 233.54L847.13 236.99L847.2 231.56L847.27 234.33L847.34 235.45L847.41 236.97L847.48 232.33L847.55 232.97L847.62 232.64L847.69 233.92L847.76 231.16L847.83 231.45L847.9 230.44L847.97 233.57L848.04 232.51L848.11 234.84L848.18 233.97L848.25 234.74L848.32 234.1L848.39 234.06L848.46 234.14L848.53 234.2L848.6 233.9L848.67 234.9L848.74 235.4L848.81 234.99L848.88 233.05L848.95 232.93L849.02 232.29L849.09 229.96L849.16 235.97L849.23 232.72L849.3 236.47L849.37 235.19L849.44 235.6L849.51 234.08L849.58 231.91L849.65 231.53L849.72 233.59L849.79 232.5L849.86 233.44L849.93 236.35L850.01 231.29L850.08 235.25L850.15 235.11L850.22 234.32L850.29 235.87L850.36 235.32L850.43 232.89L850.5 235.86L850.57 235.32L850.64 237.19L850.71 237.49L850.78 233.64L850.85 233.45L850.92 234.84L850.99 231.23L851.06 235.93L851.13 233.3L851.2 235.48L851.27 234.26L851.34 233.33L851.41 236.57L851.48 231.81L851.55 234.37L851.62 234.12L851.69 234.49L851.76 233.58L851.83 236.35L851.9 236.29L851.97 233.59L852.04 234.58L852.11 234.9L852.18 233.64L852.25 231.49L852.32 235.99L852.39 238.47L852.46 234.78L852.53 237.19L852.6 234.63L852.67 235.88L852.74 234.13L852.81 230.96L852.88 234.37L852.95 237.14L853.02 236.13L853.09 236.06L853.16 236.72L853.23 233.42L853.3 233.88L853.37 232.45L853.44 232.77L853.51 234.44L853.58 235.23L853.65 235.09L853.72 234.28L853.79 235.39L853.86 237L853.93 230.15L854 231.77L854.07 234.7L854.14 235.01L854.21 234.85L854.28 233.44L854.35 234.78L854.42 238.04L854.49 233.75L854.56 233.28L854.63 236.59L854.7 236.71L854.77 234.38L854.84 236.14L854.91 232.43L854.98 232.74L855.05 237.22L855.12 233.4L855.19 236.76L855.26 235.47L855.33 231.89L855.4 234.68L855.47 233.08L855.54 234.97L855.61 230.7L855.68 234.22L855.75 228.89L855.82 233.23L855.89 234.84L855.96 234.08L856.03 234.67L856.1 231.54L856.17 236.04L856.24 232.65L856.31 231.64L856.38 232.3L856.45 236.52L856.52 231.93L856.59 232.72L856.66 232.22L856.73 235.96L856.8 233.91L856.87 232.15L856.94 233.99L857.01 233.83L857.08 234.93L857.15 234.51L857.22 234.16L857.29 229.72L857.36 234.42L857.43 235.1L857.5 236.02L857.57 233.46L857.64 233.88L857.71 235.1L857.78 237.18L857.85 230.85L857.92 234.48L857.99 235.47L858.06 233.75L858.13 235.78L858.2 234.66L858.27 237.67L858.34 235.24L858.41 238.87L858.48 232.84L858.55 234.35L858.62 234.76L858.69 234.3L858.76 236.77L858.83 234.35L858.9 234.35L858.97 232.8L859.05 235.63L859.12 235.27L859.19 234.49L859.26 233.97L859.33 234.19L859.4 233.89L859.47 232.84L859.54 233.91L859.61 233.76L859.68 234.63L859.75 236.89L859.82 233.36L859.89 235.06L859.96 234.56L860.03 236.53L860.1 231.3L860.17 232.37L860.24 234.93L860.31 233.39L860.38 232.66L860.45 230.69L860.52 233.94L860.59 232.59L860.66 235.8L860.73 234.72L860.8 234.66L860.87 234.86L860.94 236.31L861.01 233.28L861.08 235.97L861.15 235.85L861.22 234.54L861.29 231.82L861.36 232.31L861.43 234.59L861.5 236.27L861.57 236.82L861.64 234.27L861.71 232.9L861.78 232.83L861.85 234.52L861.92 235.73L861.99 233.51L862.06 232.1L862.13 234.34L862.2 233.44L862.27 234.87L862.34 234.68L862.41 231.8L862.48 235.3L862.55 231.95L862.62 234.94L862.69 234.28L862.76 232.84L862.83 233.06L862.9 235.29L862.97 234.47L863.04 234.26L863.11 234.17L863.18 234.4L863.25 232.78L863.32 236.01L863.39 232.77L863.46 232.61L863.53 236.43L863.6 234.33L863.67 235.65L863.74 237.01L863.81 234.17L863.88 233.25L863.95 235.04L864.02 233.7L864.09 234.2L864.16 237.71L864.23 234.59L864.3 232.54L864.37 231.79L864.44 236.41L864.51 236.9L864.58 233.59L864.65 234.73L864.72 234L864.79 235.14L864.86 232.98L864.93 233.08L865 234.9L865.07 234.2L865.14 234.42L865.21 233.2L865.28 233.73L865.35 233.66L865.42 233.06L865.49 234.07L865.56 235.08L865.63 232.67L865.7 235.06L865.77 236.47L865.84 235.76L865.91 234.13L865.98 235.09L866.05 234.99L866.12 233.88L866.19 233.5L866.26 234.71L866.33 235.07L866.4 233.98L866.47 232.68L866.54 236.53L866.61 235.22L866.68 236.18L866.75 235.52L866.82 232.92L866.89 230.71L866.96 234.39L867.03 236L867.1 236.04L867.17 232.89L867.24 232.45L867.31 232.57L867.38 232.91L867.45 235.18L867.52 235.56L867.59 234.24L867.66 232.85L867.73 235.15L867.8 235.98L867.87 232.17L867.94 236.84L868.01 231.58L868.08 236.19L868.16 233.04L868.23 235.02L868.3 232.1L868.37 235.04L868.44 234.11L868.51 233.47L868.58 234.9L868.65 236.54L868.72 235.43L868.79 235.75L868.86 233.95L868.93 240.69L869 232.32L869.07 230.69L869.14 233.98L869.21 235.78L869.28 235.48L869.35 235.84L869.42 236.12L869.49 231.98L869.56 238.36L869.63 235.84L869.7 234.4L869.77 236.7L869.84 231.38L869.91 234.9L869.98 234.17L870.05 234.97L870.12 234.69L870.19 235.67L870.26 232.21L870.33 235.87L870.4 235.63L870.47 233.13L870.54 236.31L870.61 231.17L870.68 234.83L870.75 234.52L870.82 231.27L870.89 236.9L870.96 231.08L871.03 235.56L871.1 235.46L871.17 232.74L871.24 231.29L871.31 234.43L871.38 234.01L871.45 234.19L871.52 234.44L871.59 233.84L871.66 234.13L871.73 235.6L871.8 235.99L871.87 238.24L871.94 233.84L872.01 235.39L872.08 234.04L872.15 233.42L872.22 234.27L872.29 233.09L872.36 233.88L872.43 232.49L872.5 234.51L872.57 235.27L872.64 232.96L872.71 236.23L872.78 232.16L872.85 235.15L872.92 235.31L872.99 233.1L873.06 231.31L873.13 236.12L873.2 235.01L873.27 232.82L873.34 229.78L873.41 238.02L873.48 234.93L873.55 235.38L873.62 236.42L873.69 230.5L873.76 233.67L873.83 233.83L873.9 234.79L873.97 232.01L874.04 232.99L874.11 234.8L874.18 235.23L874.25 233.47L874.32 234.29L874.39 236.03L874.46 235.07L874.53 235.48L874.6 232.02L874.67 236.98L874.74 233.19L874.81 234.22L874.88 234.48L874.95 235.24L875.02 232.35L875.09 234.92L875.16 232.03L875.23 233.46L875.3 234.1L875.37 235.44L875.44 234.34L875.51 233.79L875.58 232.54L875.65 236.32L875.72 235.64L875.79 235.89L875.86 235.42L875.93 237.41L876 232.84L876.07 231.85L876.14 237.02L876.21 231.85L876.28 235.15L876.35 233.42L876.42 231.72L876.49 234.55L876.56 232.83L876.63 234.61L876.7 233.99L876.77 235.3L876.84 233.82L876.91 234.05L876.98 232.44L877.05 234.16L877.12 236.74L877.2 235.34L877.27 231.73L877.34 235.59L877.41 233.35L877.48 235.43L877.55 233.49L877.62 231.69L877.69 230.55L877.76 236.31L877.83 235.67L877.9 235.81L877.97 235.54L878.04 234.39L878.11 234.4L878.18 232.31L878.25 233.4L878.32 234.51L878.39 234.19L878.46 233.9L878.53 232.83L878.6 231.05L878.67 234.91L878.74 232.6L878.81 233.83L878.88 234.8L878.95 233.5L879.02 235.54L879.09 229.24L879.16 233.07L879.23 234.93L879.3 234.08L879.37 235.14L879.44 234.74L879.51 234.79L879.58 235.71L879.65 236.05L879.72 232L879.79 234.34L879.86 233.16L879.93 234.92L880 235.08L880.07 235.08L880.14 229.82L880.21 232.2L880.28 232.67L880.35 233.98L880.42 234.72L880.49 233.2L880.56 232.47L880.63 236.5L880.7 235.88L880.77 232.77L880.84 233.96L880.91 234.77L880.98 236.13L881.05 237.03L881.12 235.89L881.19 235.54L881.26 234.24L881.33 233.21L881.4 233.53L881.47 232.81L881.54 234.91L881.61 231.34L881.68 233.77L881.75 233.5L881.82 233.69L881.89 236.05L881.96 231.88L882.03 232.17L882.1 232.64L882.17 233.84L882.24 235.97L882.31 233.09L882.38 233.97L882.45 230.34L882.52 235.58L882.59 234.99L882.66 235.33L882.73 235.53L882.8 236.4L882.87 235.11L882.94 234.18L883.01 230.78L883.08 230.93L883.15 232.04L883.22 236.06L883.29 233.31L883.36 232.64L883.43 232.97L883.5 235.41L883.57 232.2L883.64 234.56L883.71 234.98L883.78 230.98L883.85 232.64L883.92 233.54L883.99 231.77L884.06 234.62L884.13 237.22L884.2 231.81L884.27 234.17L884.34 234L884.41 234.63L884.48 230.69L884.55 234.09L884.62 235.17L884.69 236.77L884.76 233.97L884.83 236.59L884.9 233.94L884.97 233.29L885.04 231.75L885.11 234.01L885.18 236.97L885.25 238.8L885.32 234.22L885.39 233.29L885.46 237.19L885.53 231.43L885.6 233.96L885.67 230.73L885.74 236.15L885.81 236.48L885.88 231.93L885.95 232.2L886.02 236.53L886.09 232.59L886.16 232.88L886.24 233.82L886.31 235.5L886.38 234.8L886.45 235.04L886.52 234.44L886.59 234.36L886.66 231.82L886.73 236.49L886.8 230.09L886.87 235.22L886.94 233.16L887.01 236.24L887.08 232.83L887.15 236.15L887.22 229.88L887.29 233.55L887.36 232.08L887.43 233.31L887.5 235.23L887.57 234.03L887.64 232.21L887.71 232.3L887.78 236.96L887.85 232.57L887.92 236.37L887.99 230.86L888.06 232.44L888.13 234.09L888.2 234L888.27 234.57L888.34 234.26L888.41 233.17L888.48 233.95L888.55 232.88L888.62 234.4L888.69 231.81L888.76 237.53L888.83 234.11L888.9 233.46L888.97 233.74L889.04 231.86L889.11 234.8L889.18 235.66L889.25 234.13L889.32 234.9L889.39 232.64L889.46 234L889.53 236.04L889.6 237.04L889.67 230.71L889.74 235.47L889.81 231.93L889.88 234.69L889.95 234.76L890.02 234.02L890.09 237.71L890.16 235.85L890.23 233.8L890.3 236.13L890.37 236.1L890.44 236.53L890.51 231.52L890.58 234.35L890.65 237.9L890.72 236.58L890.79 234.2L890.86 234.26L890.93 232.86L891 234.57L891.07 232.81L891.14 234.24L891.21 234.16L891.28 234.15L891.35 233.7L891.42 235.81L891.49 232.17L891.56 232.46L891.63 233.77L891.7 232.74L891.77 235.51L891.84 233.42L891.91 234.36L891.98 235.36L892.05 233.53L892.12 236.01L892.19 235.64L892.26 233.59L892.33 233.14L892.4 234.88L892.47 235.4L892.54 233.57L892.61 233.99L892.68 234L892.75 235.57L892.82 237.1L892.89 235.01L892.96 232.57L893.03 234.02L893.1 234.77L893.17 234.67L893.24 231.49L893.31 234.23L893.38 232.95L893.45 235.59L893.52 234.5L893.59 233.94L893.66 233.78L893.73 231.14L893.8 234.57L893.87 234.2L893.94 233.4L894.01 236.36L894.08 234.52L894.15 232.7L894.22 234.91L894.29 231.99L894.36 231.81L894.43 233.48L894.5 233.22L894.57 233.59L894.64 230.85L894.71 232.61L894.78 234.62L894.85 236.07L894.92 236.21L894.99 237.23L895.06 233.35L895.13 235.36L895.2 231.69L895.27 233.77L895.35 233.43L895.42 233.65L895.49 233.36L895.56 233L895.63 234.55L895.7 234.41L895.77 234.48L895.84 232.32L895.91 236.33L895.98 236.8L896.05 238.68L896.12 231.41L896.19 233.66L896.26 231.26L896.33 231.44L896.4 232.77L896.47 234.17L896.54 236.09L896.61 234.86L896.68 234.06L896.75 234.86L896.82 234.01L896.89 234.45L896.96 231.37L897.03 235.11L897.1 233.67L897.17 234.19L897.24 233.7L897.31 233.74L897.38 233.65L897.45 233.22L897.52 236.23L897.59 234.54L897.66 234.24L897.73 229.26L897.8 235.95L897.87 235.39L897.94 233.1L898.01 236.33L898.08 231.99L898.15 236.55L898.22 236.45L898.29 231.53L898.36 234.51L898.43 234.5L898.5 235.54L898.57 231.98L898.64 235.1L898.71 236.77L898.78 233.86L898.85 236.98L898.92 233.15L898.99 234.98L899.06 231.26L899.13 236.25L899.2 233.79L899.27 235.4L899.34 236.97L899.41 236.29L899.48 233.56L899.55 235.22L899.62 232.16L899.69 233.7L899.76 232.43L899.83 233.23L899.9 233.6L899.97 233.65L900.04 232.53L900.11 235.91L900.18 232.29L900.25 233.44L900.32 234.74L900.39 232.44L900.46 234.14L900.53 237.89L900.6 234L900.67 234.21L900.74 233.43L900.81 234.71L900.88 233.07L900.95 236.37L901.02 236.36L901.09 235.45L901.16 236.99L901.23 232.42L901.3 232.91L901.37 234.6L901.44 234.15L901.51 232.45L901.58 235.75L901.65 232.68L901.72 232.84L901.79 234.82L901.86 233L901.93 234.82L902 236.22L902.07 232.19L902.14 235.87L902.21 237.59L902.28 235.33L902.35 235.2L902.42 233.8L902.49 235.47L902.56 232.73L902.63 234.05L902.7 233.97L902.77 234.31L902.84 232.57L902.91 236.31L902.98 235.47L903.05 236.27L903.12 233.65L903.19 232.38L903.26 231L903.33 234.29L903.4 235.9L903.47 233.39L903.54 235.7L903.61 233.5L903.68 235.06L903.75 233.4L903.82 233.9L903.89 234.44L903.96 232.85L904.03 232.37L904.1 232.74L904.17 236.37L904.24 232.98L904.31 232.71L904.39 230.81L904.46 234.58L904.53 233.7L904.6 229.44L904.67 233.26L904.74 234.27L904.81 233.56L904.88 235.15L904.95 232.57L905.02 233.77L905.09 231.53L905.16 234.62L905.23 232.86L905.3 231.21L905.37 235.24L905.44 231.4L905.51 236.66L905.58 234.92L905.65 236.7L905.72 234.21L905.79 237.38L905.86 236.55L905.93 237.57L906 234.16L906.07 234.99L906.14 234.31L906.21 236.9L906.28 236.53L906.35 235.86L906.42 233.44L906.49 235.18L906.56 235.19L906.63 233.91L906.7 232.26L906.77 232.74L906.84 233.07L906.91 236.07L906.98 233.59L907.05 236.34L907.12 233.59L907.19 233.64L907.26 237.72L907.33 236.6L907.4 233.19L907.47 234.5L907.54 233.12L907.61 235.64L907.68 234.08L907.75 235.17L907.82 231.91L907.89 235.24L907.96 234.58L908.03 238.88L908.1 237.09L908.17 234.22L908.24 231.51L908.31 235.61L908.38 231.91L908.45 229.99L908.52 236.48L908.59 233.44L908.66 235.39L908.73 233.75L908.8 234.96L908.87 233.24L908.94 236.59L909.01 232.57L909.08 234.53L909.15 232.72L909.22 235.49L909.29 230.86L909.36 232.26L909.43 232.91L909.5 232.18L909.57 235.24L909.64 236.6L909.71 236.63L909.78 237.67L909.85 234.48L909.92 234.77L909.99 238.05L910.06 235.91L910.13 233.64L910.2 236L910.27 237.03L910.34 234.92L910.41 234.13L910.48 234.75L910.55 234.58L910.62 232.57L910.69 231.78L910.76 234.03L910.83 235.29L910.9 235.15L910.97 238.1L911.04 236.82L911.11 235.34L911.18 233.99L911.25 236.72L911.32 233.54L911.39 233.06L911.46 232.06L911.53 234.42L911.6 234.41L911.67 234.64L911.74 234.25L911.81 235.4L911.88 234.74L911.95 232.93L912.02 233.05L912.09 234.56L912.16 234.66L912.23 233.9L912.3 235.92L912.37 236.26L912.44 235.09L912.51 235.06L912.58 234.2L912.65 232.95L912.72 233.75L912.79 231.86L912.86 234.31L912.93 232.27L913 233.06L913.07 235.49L913.14 234.37L913.21 235.71L913.28 237.8L913.35 232.14L913.43 234.56L913.5 231.54L913.57 236.8L913.64 234.88L913.71 232.33L913.78 233.21L913.85 231.47L913.92 231.97L913.99 235.71L914.06 235.87L914.13 231.79L914.2 235.11L914.27 233.58L914.34 235.43L914.41 233.7L914.48 233.93L914.55 234.35L914.62 233.33L914.69 235.8L914.76 231L914.83 233.83L914.9 234.87L914.97 233.58L915.04 235.31L915.11 235.88L915.18 235.72L915.25 233.76L915.32 232.52L915.39 231.12L915.46 233.72L915.53 233.84L915.6 236.83L915.67 233.73L915.74 236.81L915.81 231.04L915.88 232.81L915.95 235.94L916.02 231.23L916.09 237.04L916.16 233.77L916.23 233.03L916.3 232.79L916.37 234.8L916.44 231.52L916.51 235.22L916.58 235.69L916.65 236.33L916.72 235.22L916.79 237.41L916.86 234.85L916.93 234.85L917 233.4L917.07 233.91L917.14 234.19L917.21 235.24L917.28 232.8L917.35 234.15L917.42 234.57L917.49 231.08L917.56 234.24L917.63 234.35L917.7 235.95L917.77 232.61L917.84 235.66L917.91 230.21L917.98 233.94L918.05 234.83L918.12 235.52L918.19 230.48L918.26 233.3L918.33 234.36L918.4 233.65L918.47 231.55L918.54 235.25L918.61 233.64L918.68 235.37L918.75 236.56L918.82 232.39L918.89 233.96L918.96 235.65L919.03 234.67L919.1 234.41L919.17 230.61L919.24 233.69L919.31 233.99L919.38 234.82L919.45 234.06L919.52 233.32L919.59 232.83L919.66 237.87L919.73 234.51L919.8 234.08L919.87 233.09L919.94 235.92L920.01 234.98L920.08 233.65L920.15 233.82L920.22 235.44L920.29 236.55L920.36 233.98L920.43 233.2L920.5 232.97L920.57 233.18L920.64 232.18L920.71 236.07L920.78 232.95L920.85 236.79L920.92 234.51L920.99 234.16L921.06 233.84L921.13 233.89L921.2 232.63L921.27 234.96L921.34 233.68L921.41 235.62L921.48 232.79L921.55 232.37L921.62 232.52L921.69 231.26L921.76 235.9L921.83 234.34L921.9 235.65L921.97 232.08L922.04 234.86L922.11 232.95L922.18 232.84L922.25 236.1L922.32 231.78L922.39 232.54L922.46 235.39L922.54 233.78L922.61 234.08L922.68 231.26L922.75 233.51L922.82 231.9L922.89 233.45L922.96 232.74L923.03 235.27L923.1 234.87L923.17 232.48L923.24 233.93L923.31 234.66L923.38 234.68L923.45 235.67L923.52 233.76L923.59 234.45L923.66 234.87L923.73 233.88L923.8 233.94L923.87 233.46L923.94 236.59L924.01 233.97L924.08 236.71L924.15 232.84L924.22 234.53L924.29 231.75L924.36 234.2L924.43 233.89L924.5 233.27L924.57 232.08L924.64 232.86L924.71 233.66L924.78 235.09L924.85 236.25L924.92 230.89L924.99 234.58L925.06 240.27L925.13 234.21L925.2 231.77L925.27 232.5L925.34 234.21L925.41 235.46L925.48 233.91L925.55 234.49L925.62 233.91L925.69 233.68L925.76 234.91L925.83 235.31L925.9 233.82L925.97 235.87L926.04 234.31L926.11 232.89L926.18 236.48L926.25 232.5L926.32 235.63L926.39 231.17L926.46 233.71L926.53 234.1L926.6 231.13L926.67 234.79L926.74 235.39L926.81 231.7L926.88 234.95L926.95 235.6L927.02 234.16L927.09 234.03L927.16 233.63L927.23 232.95L927.3 234.04L927.37 233.67L927.44 230.63L927.51 236.01L927.58 229.99L927.65 235.25L927.72 234.21L927.79 228.94L927.86 232.01L927.93 232.81L928 232.55L928.07 235.09L928.14 235.56L928.21 233.09L928.28 232.46L928.35 236.13L928.42 233.99L928.49 233.75L928.56 233.43L928.63 235.35L928.7 233.6L928.77 234.78L928.84 236.38L928.91 235.9L928.98 233.03L929.05 235.14L929.12 237.35L929.19 232.33L929.26 234.93L929.33 235.68L929.4 233.73L929.47 235.69L929.54 234.35L929.61 231.84L929.68 234.42L929.75 236.98L929.82 234.15L929.89 234.16L929.96 235.67L930.03 235.16L930.1 236.99L930.17 235.42L930.24 232.37L930.31 234.48L930.38 234.73L930.45 234.46L930.52 235.88L930.59 236.09L930.66 231.88L930.73 234.21L930.8 234.1L930.87 235.51L930.94 234.49L931.01 233.03L931.08 234.87L931.15 233.47L931.22 235.75L931.29 232.9L931.36 236.95L931.43 233.49L931.5 236.93L931.58 230.96L931.65 236.12L931.72 236.72L931.79 237.01L931.86 234.14L931.93 233.49L932 233.35L932.07 236.19L932.14 234.42L932.21 234.44L932.28 233.15L932.35 231.49L932.42 232.47L932.49 231.4L932.56 231.64L932.63 235.44L932.7 232.37L932.77 232.46L932.84 233.81L932.91 234.51L932.98 234.83L933.05 233.87L933.12 233.4L933.19 234.78L933.26 232.57L933.33 236.71L933.4 233.03L933.47 238.36L933.54 233.85L933.61 234.89L933.68 233.97L933.75 235.77L933.82 232.73L933.89 234.55L933.96 234.53L934.03 232.22L934.1 236.32L934.17 232.94L934.24 235.94L934.31 233.61L934.38 238.74L934.45 236.26L934.52 237.15L934.59 233.17L934.66 234.66L934.73 235.74L934.8 233.21L934.87 232.34L934.94 235.7L935.01 233.99L935.08 236.01L935.15 234.26L935.22 236.1L935.29 233.48L935.36 232.04L935.43 235.53L935.5 232.02L935.57 235.94L935.64 235.54L935.71 234.02L935.78 235.15L935.85 236.61L935.92 233.46L935.99 234.04L936.06 232.92L936.13 234.64L936.2 230.81L936.27 234.22L936.34 231.74L936.41 234.75L936.48 233.86L936.55 235.67L936.62 235.66L936.69 232.57L936.76 233.02L936.83 233.44L936.9 235.44L936.97 235.42L937.04 236.9L937.11 237.74L937.18 229.71L937.25 234.41L937.32 235.49L937.39 232.45L937.46 234.93L937.53 233.51L937.6 232.62L937.67 234.11L937.74 234.18L937.81 235.77L937.88 235.09L937.95 233.95L938.02 234.28L938.09 230.65L938.16 232.59L938.23 238.33L938.3 235.41L938.37 234.42L938.44 235.35L938.51 234.86L938.58 234.72L938.65 232.8L938.72 234.88L938.79 236.95L938.86 234.58L938.93 230.97L939 233.68L939.07 235.07L939.14 232.36L939.21 233.36L939.28 231.46L939.35 227.74L939.42 233.32L939.49 231.93L939.56 232.22L939.63 233.02L939.7 234.71L939.77 233.04L939.84 235.55L939.91 234.02L939.98 235.6L940.05 237.45L940.12 234.49L940.19 232.6L940.26 237.83L940.33 234.06L940.4 233.25L940.47 233.56L940.54 232.51L940.62 230.97L940.69 235.38L940.76 231.37L940.83 231.87L940.9 236.94L940.97 235.74L941.04 233.69L941.11 234.9L941.18 232.43L941.25 233.38L941.32 235.34L941.39 231.13L941.46 235.34L941.53 233.53L941.6 233.18L941.67 234.81L941.74 235.19L941.81 232.68L941.88 233.86L941.95 235.61L942.02 233.67L942.09 236.41L942.16 235.74L942.23 232.03L942.3 235.43L942.37 234.12L942.44 234.81L942.51 235.24L942.58 235.95L942.65 234.23L942.72 233.93L942.79 233.31L942.86 234.51L942.93 233.35L943 233.26L943.07 233.32L943.14 232.15L943.21 235.52L943.28 234.13L943.35 237.4L943.42 233.94L943.49 238.51L943.56 234.29L943.63 234.19L943.7 235.57L943.77 235.45L943.84 234.38L943.91 233.74L943.98 233.61L944.05 234.16L944.12 235.44L944.19 233.6L944.26 234.53L944.33 234.77L944.4 235.59L944.47 232.81L944.54 232.43L944.61 234.71L944.68 235.72L944.75 234.69L944.82 233.37L944.89 235.34L944.96 235.67L945.03 231.51L945.1 235.22L945.17 236.39L945.24 236.7L945.31 232.36L945.38 234.81L945.45 235.09L945.52 234.47L945.59 235.78L945.66 234.19L945.73 229.62L945.8 233.72L945.87 233.15L945.94 234.08L946.01 234.53L946.08 230.8L946.15 234.61L946.22 229.97L946.29 235.47L946.36 235.51L946.43 235.65L946.5 232.78L946.57 234.46L946.64 236.94L946.71 232.97L946.78 232.82L946.85 233.56L946.92 234L946.99 234.89L947.06 235.16L947.13 235.02L947.2 230.17L947.27 232.95L947.34 233.46L947.41 235.37L947.48 232.31L947.55 234.25L947.62 235.74L947.69 234.86L947.76 231L947.83 236.2L947.9 235.49L947.97 233.02L948.04 234.52L948.11 236.34L948.18 233.36L948.25 234.37L948.32 233.91L948.39 234.62L948.46 232.72L948.53 236.1L948.6 237.73L948.67 235.55L948.74 233.19L948.81 237.72L948.88 234.75L948.95 234.28L949.02 235.01L949.09 234.08L949.16 236.21L949.23 233.34L949.3 233.41L949.37 232.89L949.44 233.82L949.51 235.33L949.58 231.97L949.65 233.41L949.73 232.05L949.8 237.63L949.87 236.32L949.94 235.51L950.01 235.19L950.08 236.54L950.15 234.87L950.22 232.51L950.29 233.93L950.36 234.41L950.43 234.48L950.5 233.73L950.57 233.68L950.64 234.03L950.71 234.8L950.78 234.96L950.85 230.29L950.92 232.4L950.99 235.53L951.06 235.45L951.13 234.19L951.2 234.66L951.27 234.56L951.34 232.31L951.41 235.84L951.48 237.56L951.55 237.04L951.62 236.58L951.69 235.83L951.76 234.58L951.83 231.9L951.9 236.12L951.97 236.86L952.04 232.99L952.11 234.47L952.18 231.93L952.25 233.11L952.32 234.24L952.39 234.37L952.46 235.39L952.53 231.92L952.6 233.09L952.67 234.66L952.74 234.33L952.81 232.94L952.88 234.63L952.95 231.95L953.02 233.31L953.09 235.78L953.16 235.04L953.23 232.78L953.3 234.94L953.37 233.76L953.44 233.77L953.51 232.87L953.58 233.93L953.65 235.54L953.72 233.51L953.79 234.27L953.86 233.17L953.93 234.02L954 234.08L954.07 235.08L954.14 233.73L954.21 230.95L954.28 233.8L954.35 231.68L954.42 235.49L954.49 230.98L954.56 236.93L954.63 232.49L954.7 235.13L954.77 234.51L954.84 235.5L954.91 232.83L954.98 239.01L955.05 235.87L955.12 233.56L955.19 234.16L955.26 235.45L955.33 234.5L955.4 234.24L955.47 232.48L955.54 232.3L955.61 231.74L955.68 232.43L955.75 238.6L955.82 233.46L955.89 236.98L955.96 232.26L956.03 232.68L956.1 235.27L956.17 232.81L956.24 234.24L956.31 235.94L956.38 235.12L956.45 235.19L956.52 233.45L956.59 234.21L956.66 233.74L956.73 232.68L956.8 232.93L956.87 232.36L956.94 236.79L957.01 233.64L957.08 234.19L957.15 232.64L957.22 237.49L957.29 231.78L957.36 235.08L957.43 233.62L957.5 234.16L957.57 236.58L957.64 231.94L957.71 231.77L957.78 233.65L957.85 231.87L957.92 232.5L957.99 233.44L958.06 233.69L958.13 232.82L958.2 234.27L958.27 233.89L958.34 237.11L958.41 235.69L958.48 232.61L958.55 234.61L958.62 231.8L958.69 233.57L958.77 234.08L958.84 238.05L958.91 233.01L958.98 236.18L959.05 233.76L959.12 233.16L959.19 234.6L959.26 234.9L959.33 233.85L959.4 233.49L959.47 232.3L959.54 234.96L959.61 235.34L959.68 231.94L959.75 235.87L959.82 233.62L959.89 234.35L959.96 236.54L960.03 237.52L960.1 236.48L960.17 234.11L960.24 232.93L960.31 235.34L960.38 233.38L960.45 235.6L960.52 232.14L960.59 236.84L960.66 231.61L960.73 234.3L960.8 233.33L960.87 232.12L960.94 234.31L961.01 232.63L961.08 235.91L961.15 233.34L961.22 234.45L961.29 232.34L961.36 233.29L961.43 236.14L961.5 233.51L961.57 232.41L961.64 235.88L961.71 233.54L961.78 233.64L961.85 235.51L961.92 235.45L961.99 235.37L962.06 234.56L962.13 232.5L962.2 234.67L962.27 235.64L962.34 233.24L962.41 230.3L962.48 233.7L962.55 236.03L962.62 231.96L962.69 235.98L962.76 235.17L962.83 232.84L962.9 235L962.97 235.03L963.04 233.88L963.11 236.89L963.18 235.79L963.25 234.17L963.32 236.73L963.39 235.64L963.46 233.39L963.53 232.67L963.6 238.83L963.67 234.53L963.74 232.93L963.81 232.78L963.88 233.1L963.95 236.21L964.02 235.35L964.09 234.84L964.16 233.66L964.23 238.04L964.3 232.82L964.37 231.63L964.44 235.85L964.51 233.44L964.58 238.17L964.65 234.29L964.72 236.09L964.79 237.99L964.86 233.35L964.93 233.98L965 234.47L965.07 235.71L965.14 233.42L965.21 233.86L965.28 234.56L965.35 234.23L965.42 231.03L965.49 235.87L965.56 232.2L965.63 235.24L965.7 235.07L965.77 235.24L965.84 234.24L965.91 233.87L965.98 230.27L966.05 231.86L966.12 235.74L966.19 234.23L966.26 237.68L966.33 239.38L966.4 235.96L966.47 235.37L966.54 236.88L966.61 232.07L966.68 236.3L966.75 233.78L966.82 233.94L966.89 232.93L966.96 231.91L967.03 234.64L967.1 234.98L967.17 233.21L967.24 230.1L967.31 234.66L967.38 235.4L967.45 233.71L967.52 234.82L967.59 234.79L967.66 236.33L967.73 234.82L967.81 233.14L967.88 234.5L967.95 231.54L968.02 234.37L968.09 234.27L968.16 234.93L968.23 231.67L968.3 232.57L968.37 233.57L968.44 235.44L968.51 235.23L968.58 237.97L968.65 233.45L968.72 235.65L968.79 232.53L968.86 234.59L968.93 236.09L969 234L969.07 234.07L969.14 235.52L969.21 232.92L969.28 237.05L969.35 232.56L969.42 234.09L969.49 233.85L969.56 234.15L969.63 233.83L969.7 235.02L969.77 234.52L969.84 233.13L969.91 233.96L969.98 235.54L970.05 236.93L970.12 232.67L970.19 234.72L970.26 236.19L970.33 237.22L970.4 233.95L970.47 237.43L970.54 231.94L970.61 235.73L970.68 233.31L970.75 237.55L970.82 236.2L970.89 233.24L970.96 234.19L971.03 234.68L971.1 233.83L971.17 231.75L971.24 234.76L971.31 233.67L971.38 234.81L971.45 236.73L971.52 237.62L971.59 231.29L971.66 233.46L971.73 235L971.8 232.42L971.87 237.95L971.94 234.76L972.01 231.57L972.08 234.31L972.15 233.48L972.22 237.48L972.29 233.35L972.36 233.78L972.43 235.33L972.5 233.59L972.57 234.55L972.64 236.5L972.71 232.73L972.78 232.3L972.85 234.45L972.92 233.31L972.99 232.36L973.06 229.57L973.13 234.95L973.2 234.99L973.27 234.97L973.34 234.97L973.41 234.04L973.48 234.58L973.55 232.6L973.62 232.64L973.69 232.7L973.76 235.55L973.83 236.25L973.9 231.99L973.97 236.84L974.04 235.74L974.11 234.65L974.18 231.78L974.25 235.36L974.32 236.43L974.39 233.19L974.46 233.59L974.53 232.78L974.6 231.96L974.67 233.92L974.74 234.41L974.81 235.38L974.88 234.55L974.95 234.46L975.02 232.15L975.09 235.73L975.16 231.67L975.23 235.41L975.3 232.74L975.37 235.95L975.44 233.54L975.51 234.82L975.58 232.69L975.65 235.63L975.72 236.42L975.79 233.88L975.86 235.92L975.93 234.63L976 234.45L976.07 232.59L976.14 233.58L976.21 232.77L976.28 232.81L976.35 235.88L976.42 234.11L976.49 232.09L976.56 234.41L976.63 232.98L976.7 235.78L976.77 235.91L976.84 234.29L976.92 236.38L976.99 235.74L977.06 235.3L977.13 233.88L977.2 236.16L977.27 235.27L977.34 232.31L977.41 232.46L977.48 235.36L977.55 231.01L977.62 231.56L977.69 233.26L977.76 233.43L977.83 236.26L977.9 234.76L977.97 230.24L978.04 235.14L978.11 239.29L978.18 231.12L978.25 237.06L978.32 233.02L978.39 231.19L978.46 232.87L978.53 233.11L978.6 235.7L978.67 235.58L978.74 236.27L978.81 231.04L978.88 236.26L978.95 233.51L979.02 233.31L979.09 232.77L979.16 236.22L979.23 232.67L979.3 232.8L979.37 233.26L979.44 232.72L979.51 236.41L979.58 236.96L979.65 229.83L979.72 234.51L979.79 234.83L979.86 232.93L979.93 230.21L980 234.11L980.07 234.84L980.14 237.43L980.21 233.89L980.28 231.83L980.35 236.03L980.42 235.71L980.49 234.25L980.56 232.25L980.63 233.34L980.7 231.71L980.77 237.02L980.84 232.96L980.91 235.82L980.98 236.35L981.05 229.47L981.12 232L981.19 235.41L981.26 229.68L981.33 237.53L981.4 234.84" stroke="#b0b026" stroke-width="1.3" fill="none"/>
<path d="M902.5 234.25L902.81 192.21L903.12 234.25" stroke="#b0b026" stroke-width="1.2" fill="none"/>
<path d="M906.82 234.25L907.12 275.06L907.43 234.25" stroke="#b0b026" stroke-width="1.2" fill="none"/>
</g>
<rect x="926.5" y="191.5" width="54" height="36" rx="3" fill="#fff" fill-opacity="0.65" stroke="#000"/>
<path d="M931 199.5l11.7 4.1" stroke="#b4242a" fill="none"/>
<text x="947 952 960 968" y="206">real</text>
<path d="M931 214.5l11.7 4.1" stroke="#b0b026" fill="none"/>
<text x="947 950 961 969" y="221">imag</text>
<g clip-path="url(#cp14)">
<rect x="1062" y="189" width="84" height="45" fill="#00ff00"/>
<rect x="1146" y="189" width="85" height="45" fill="#000"/>
<rect x="1062" y="234" width="84" height="46" fill="#00ffff"/>
<rect x="1146" y="234" width="85" height="46" fill="#0000ff"/>
<clipPath id="cell"><ellipse cx="1145.7" cy="232.9" rx="26.6" ry="19.2"/></clipPath>
<g clip-path="url(#cell)" shape-rendering="crispEdges"><rect x="1110" y="200" width="36" height="34" fill="#ffff00"/><rect x="1146" y="200" width="40" height="34" fill="#ff0000"/><rect x="1110" y="234" width="36" height="40" fill="#fff"/><rect x="1146" y="234" width="40" height="40" fill="#ff00ff"/></g>
</g>
<text x="1308 1316 1320 1328" y="205">1.23</text>
<rect x="110" y="329" width="140" height="91" fill="#808080"/>
<rect x="350" y="329" width="142" height="91" fill="#ffa8a8"/><rect x="360" y="329" width="9.5" height="91" fill="#ffa8ff"/>
<g clip-path="url(#ij1)">
<rect x="582" y="382" width="52" height="38" fill="#00ffd7"/>
<ellipse cx="588.6" cy="405.1" rx="84" ry="23.52" fill="url(#rg1)"/>
</g>
<g clip-path="url(#ij2)">
<rect x="633" y="330" width="56" height="64" fill="#00ffd7"/>
<ellipse cx="665.7" cy="360.1" rx="33.6" ry="26.04" fill="url(#rg2)"/>
<ellipse cx="641.8" cy="386.6" rx="15.96" ry="12.6" fill="url(#rg3)"/>
</g>
<g clip-path="url(#ij3)">
<rect x="688" y="368" width="53" height="39" fill="#00ffd7"/>
<ellipse cx="719" cy="364.2" rx="96.6" ry="37.8" fill="url(#rg4)"/>
<ellipse cx="698.1" cy="397.6" rx="37.8" ry="15.54" fill="url(#rg5)"/>
</g>
<g transform="translate(532.3 396) rotate(-90)">
<text x="0 8 16 24 29 37" y="0">Energy</text>
</g>
<path d="M827.4 332.07H981.5M827.4 334.95H981.5M827.4 337.84H981.5M827.4 340.72H981.5M827.4 343.61H981.5M827.4 346.49H981.5M827.4 349.37H981.5M827.4 352.26H981.5M827.4 355.14H981.5M827.4 358.03H981.5M827.4 360.91H981.5M827.4 363.79H981.5M827.4 366.68H981.5M827.4 369.56H981.5M827.4 372.45H981.5M827.4 375.33H981.5M827.4 378.21H981.5M827.4 381.1H981.5M827.4 383.98H981.5M827.4 386.87H981.5M827.4 389.75H981.5M827.4 392.63H981.5M827.4 395.52H981.5M827.4 398.4H981.5M827.4 401.29H981.5M827.4 404.17H981.5M827.4 407.05H981.5M827.4 409.94H981.5M827.4 412.82H981.5M827.4 415.71H981.5" stroke="#00ffd0" stroke-opacity=".6" stroke-width="1.15" fill="none"/>
<rect x="840.6" y="330" width="0.9" height="88" fill="#fff" fill-opacity=".75"/>
<path d="M900.4 355.14h9" stroke="#80f060" stroke-opacity="0.45" stroke-width="1.35"/>
<path d="M899.7 358.03h10.4" stroke="#80f060" stroke-opacity="0.5" stroke-width="1.35"/>
<path d="M899.1 360.91h11.6" stroke="#90f080" stroke-opacity="0.5" stroke-width="1.35"/>
<path d="M903.4 360.91h3" stroke="#90c0ff" stroke-opacity="0.7" stroke-width="1.35"/>
<path d="M901.9 363.79h6" stroke="#7050ff" stroke-opacity="0.8" stroke-width="1.35"/>
<path d="M901.1 366.68h7.6" stroke="#4020ff" stroke-opacity="0.9" stroke-width="1.35"/>
<path d="M901.1 369.56h7.6" stroke="#3010ff" stroke-opacity="0.95" stroke-width="1.35"/>
<path d="M903.9 369.56h2" stroke="#40e060" stroke-opacity="0.9" stroke-width="1.35"/>
<path d="M901.1 372.45h7.6" stroke="#3010ff" stroke-opacity="0.95" stroke-width="1.35"/>
<path d="M903.9 372.45h2" stroke="#ff7000" stroke-opacity="0.95" stroke-width="1.35"/>
<path d="M901.1 375.33h7.6" stroke="#3010ff" stroke-opacity="0.95" stroke-width="1.35"/>
<path d="M903.9 375.33h2" stroke="#40e060" stroke-opacity="0.9" stroke-width="1.35"/>
<path d="M901.1 378.21h7.6" stroke="#4020ff" stroke-opacity="0.9" stroke-width="1.35"/>
<path d="M901.9 381.1h6" stroke="#7050ff" stroke-opacity="0.8" stroke-width="1.35"/>
<path d="M899.1 383.98h11.6" stroke="#90f080" stroke-opacity="0.5" stroke-width="1.35"/>
<path d="M903.4 383.98h3" stroke="#90c0ff" stroke-opacity="0.7" stroke-width="1.35"/>
<path d="M899.7 386.87h10.4" stroke="#80f060" stroke-opacity="0.5" stroke-width="1.35"/>
<path d="M900.4 389.75h9" stroke="#80f060" stroke-opacity="0.45" stroke-width="1.35"/>
<path d="M841.8 398.4h3" stroke="#60e040" stroke-opacity="0.6" stroke-width="1.35"/>
<path d="M841.7 401.29h3.2" stroke="#60a0ff" stroke-opacity="0.6" stroke-width="1.35"/>
<path d="M841.6 404.17h3.4" stroke="#4020ff" stroke-opacity="0.85" stroke-width="1.35"/>
<path d="M841.6 407.05h3.4" stroke="#6040ff" stroke-opacity="0.85" stroke-width="1.35"/>
<path d="M842.6 407.05h1.4" stroke="#ff3020" stroke-opacity="0.9" stroke-width="1.35"/>
<path d="M841.6 409.94h3.4" stroke="#5030ff" stroke-opacity="0.8" stroke-width="1.35"/>
<path d="M841.7 412.82h3.2" stroke="#60c0ff" stroke-opacity="0.6" stroke-width="1.35"/>
<path d="M841.8 415.71h3" stroke="#60e040" stroke-opacity="0.6" stroke-width="1.35"/>
<text x="1067 1075" y="341">no</text>
<text x="1106 1114" y="360">no</text>
<text x="1115 1123" y="358">no</text>
<text x="1096 1104" y="372">no</text>
<text x="1134" y="380">Y</text>
<text x="1139" y="390">Y</text>
<text x="1159 1167" y="380">no</text>
<text x="1160 1168" y="388">no</text>
<text x="1167 1175" y="405">no</text>
<text x="1208 1216" y="418">no</text>
<g clip-path="url(#cp25)">
<path d="M1388 415.82L1388.97 414.77L1389.93 413.73L1390.9 412.68L1391.86 411.64L1392.83 410.6L1393.8 409.55L1394.76 408.51L1395.73 407.47L1396.69 406.43L1397.66 405.39L1398.63 404.36L1399.59 403.32L1400.56 402.29L1401.52 401.26L1402.49 400.23L1403.46 399.2L1404.42 398.18L1405.39 397.16L1406.35 396.14L1407.32 395.13L1408.29 394.12L1409.25 393.11L1410.22 392.1L1411.18 391.1L1412.15 390.11L1413.11 389.11L1414.08 388.12L1415.05 387.14L1416.01 386.16L1416.98 385.19L1417.94 384.22L1418.91 383.25L1419.88 382.29L1420.84 381.33L1421.81 380.38L1422.77 379.44L1423.74 378.5L1424.71 377.57L1425.67 376.64L1426.64 375.72L1427.6 374.81L1428.57 373.9L1429.54 373L1430.5 372.1L1431.47 371.22L1432.43 370.33L1433.4 369.46L1434.36 368.59L1435.33 367.74L1436.3 366.88L1437.26 366.04L1438.23 365.2L1439.19 364.38L1440.16 363.56L1441.13 362.74L1442.09 361.94L1443.06 361.14L1444.02 360.36L1444.99 359.58L1445.96 358.81L1446.92 358.05L1447.89 357.3L1448.85 356.56L1449.82 355.82L1450.79 355.1L1451.75 354.38L1452.72 353.68L1453.68 352.98L1454.65 352.3L1455.61 351.62L1456.58 350.96L1457.55 350.3L1458.51 349.66L1459.48 349.03L1460.44 348.4L1461.41 347.79L1462.38 347.19L1463.34 346.59L1464.31 346.01L1465.27 345.44L1466.24 344.88L1467.21 344.33L1468.17 343.8L1469.14 343.27L1470.1 342.76L1471.07 342.25L1472.04 341.76L1473 341.28" stroke="#000" stroke-width="1.1" fill="none"/>
</g>
<g clip-path="url(#cp25)"><rect x="1312.5" y="332.5" width="97" height="10" rx="2.5" fill="#fff" fill-opacity=".8" stroke="#000"/>
<text x="1316 1321 1326 1329 1334 1337 1341 1344 1349 1352 1355 1359 1362 1367 1370 1373 1378 1381 1384 1387 1392 1397 1402" y="340" style="font-size:8px" stroke="#000" stroke-width=".35">data starts after range</text>
</g>
<g clip-path="url(#cp30)">
<path d="M114.42 560.09L122.76 498.88L146.38 560.09M208.13 480.24L169.67 489.34L158.51 492.7M208.13 480.24L182.67 560.09M169.67 489.34L146.7 528.13M146.7 528.13L124.71 560.09M146.7 528.13L240.96 523.8L218.43 493.14L209.22 515.35L189.17 560.09M158.51 492.7L185.92 504.62L186.79 552.29L176.39 559.55L145.84 545.14M158.51 492.7L230.34 560.09M155.37 495.63L154.5 508.63L155.59 560.09M154.5 508.63L223.84 560.09M155.37 495.63L148.87 546.01M169.67 489.34L204.13 519.46M204.13 519.46L215.5 557.71L193.51 560.31M205.43 524.34L212.47 550.34L215.5 557.71M204.13 519.46L161.01 560.09M128.83 540.59L141.5 560.09M145.84 545.14L151.8 560.09M148.33 550.88L156.13 560.09" stroke="#000" stroke-width="1.25" fill="none"/>
<path d="M121.16 498.88a1.6 1.6 0 1 0 3.2 0a1.6 1.6 0 1 0 -3.2 0M206.53 480.24a1.6 1.6 0 1 0 3.2 0a1.6 1.6 0 1 0 -3.2 0M168.07 489.34a1.6 1.6 0 1 0 3.2 0a1.6 1.6 0 1 0 -3.2 0M156.91 492.7a1.6 1.6 0 1 0 3.2 0a1.6 1.6 0 1 0 -3.2 0M153.77 495.63a1.6 1.6 0 1 0 3.2 0a1.6 1.6 0 1 0 -3.2 0M152.9 508.63a1.6 1.6 0 1 0 3.2 0a1.6 1.6 0 1 0 -3.2 0M184.32 504.62a1.6 1.6 0 1 0 3.2 0a1.6 1.6 0 1 0 -3.2 0M216.83 493.14a1.6 1.6 0 1 0 3.2 0a1.6 1.6 0 1 0 -3.2 0M207.62 515.35a1.6 1.6 0 1 0 3.2 0a1.6 1.6 0 1 0 -3.2 0M202.53 519.46a1.6 1.6 0 1 0 3.2 0a1.6 1.6 0 1 0 -3.2 0M239.36 523.8a1.6 1.6 0 1 0 3.2 0a1.6 1.6 0 1 0 -3.2 0M145.1 528.13a1.6 1.6 0 1 0 3.2 0a1.6 1.6 0 1 0 -3.2 0M127.23 540.59a1.6 1.6 0 1 0 3.2 0a1.6 1.6 0 1 0 -3.2 0M144.24 545.14a1.6 1.6 0 1 0 3.2 0a1.6 1.6 0 1 0 -3.2 0M146.73 550.88a1.6 1.6 0 1 0 3.2 0a1.6 1.6 0 1 0 -3.2 0M185.19 552.29a1.6 1.6 0 1 0 3.2 0a1.6 1.6 0 1 0 -3.2 0M174.79 559.55a1.6 1.6 0 1 0 3.2 0a1.6 1.6 0 1 0 -3.2 0M213.9 557.71a1.6 1.6 0 1 0 3.2 0a1.6 1.6 0 1 0 -3.2 0" fill="#000"/>
</g>
<g clip-path="url(#cp30)"><rect x="105.5" y="472.5" width="97" height="10" rx="2.5" fill="#fff" fill-opacity=".8" stroke="#000"/>
<text x="109 114 119 122 127 130 134 137 142 145 148 152 155 160 163 166 171 174 177 180 185 190 195" y="480" style="font-size:8px" stroke="#000" stroke-width=".35">data starts after range</text>
</g>
<path d="M351.3 555.7L358.66 551.43L366.01 547.16L373.37 542.88L380.72 538.61L388.07 534.34L395.43 530.07L402.79 525.8L410.14 521.52L417.5 517.25L424.85 512.98L432.2 508.71L439.56 504.44L446.91 500.16L454.27 495.89L461.62 491.62L468.98 487.35L476.33 483.08L483.69 478.8L491.04 474.53" stroke="#b4242a" stroke-width="1" fill="none"/>
<path d="M349.9 555.7a1.4 1.4 0 1 0 2.8 0a1.4 1.4 0 1 0 -2.8 0M357.26 551.43a1.4 1.4 0 1 0 2.8 0a1.4 1.4 0 1 0 -2.8 0M364.61 547.16a1.4 1.4 0 1 0 2.8 0a1.4 1.4 0 1 0 -2.8 0M371.97 542.88a1.4 1.4 0 1 0 2.8 0a1.4 1.4 0 1 0 -2.8 0M379.32 538.61a1.4 1.4 0 1 0 2.8 0a1.4 1.4 0 1 0 -2.8 0M386.68 534.34a1.4 1.4 0 1 0 2.8 0a1.4 1.4 0 1 0 -2.8 0M394.03 530.07a1.4 1.4 0 1 0 2.8 0a1.4 1.4 0 1 0 -2.8 0M401.39 525.8a1.4 1.4 0 1 0 2.8 0a1.4 1.4 0 1 0 -2.8 0M408.74 521.52a1.4 1.4 0 1 0 2.8 0a1.4 1.4 0 1 0 -2.8 0M416.1 517.25a1.4 1.4 0 1 0 2.8 0a1.4 1.4 0 1 0 -2.8 0M423.45 512.98a1.4 1.4 0 1 0 2.8 0a1.4 1.4 0 1 0 -2.8 0M430.81 508.71a1.4 1.4 0 1 0 2.8 0a1.4 1.4 0 1 0 -2.8 0M438.16 504.44a1.4 1.4 0 1 0 2.8 0a1.4 1.4 0 1 0 -2.8 0M445.51 500.16a1.4 1.4 0 1 0 2.8 0a1.4 1.4 0 1 0 -2.8 0M452.87 495.89a1.4 1.4 0 1 0 2.8 0a1.4 1.4 0 1 0 -2.8 0M460.23 491.62a1.4 1.4 0 1 0 2.8 0a1.4 1.4 0 1 0 -2.8 0M467.58 487.35a1.4 1.4 0 1 0 2.8 0a1.4 1.4 0 1 0 -2.8 0M474.94 483.08a1.4 1.4 0 1 0 2.8 0a1.4 1.4 0 1 0 -2.8 0M482.29 478.8a1.4 1.4 0 1 0 2.8 0a1.4 1.4 0 1 0 -2.8 0M489.64 474.53a1.4 1.4 0 1 0 2.8 0a1.4 1.4 0 1 0 -2.8 0" fill="#b4242a"/>
<path d="M351.3 553.56L358.66 549.29L366.01 545.02L373.37 540.75L380.72 536.48L388.07 532.2L395.43 527.93L402.79 523.66L410.14 519.39L417.5 515.12L424.85 510.84L432.2 506.57L439.56 502.3L446.91 498.03L454.27 493.76L461.62 489.48L468.98 485.21L476.33 480.94L483.69 476.67L491.04 472.4" stroke="#b0b026" stroke-width="1" fill="none"/>
<path d="M349.9 553.56a1.4 1.4 0 1 0 2.8 0a1.4 1.4 0 1 0 -2.8 0M357.26 549.29a1.4 1.4 0 1 0 2.8 0a1.4 1.4 0 1 0 -2.8 0M364.61 545.02a1.4 1.4 0 1 0 2.8 0a1.4 1.4 0 1 0 -2.8 0M371.97 540.75a1.4 1.4 0 1 0 2.8 0a1.4 1.4 0 1 0 -2.8 0M379.32 536.48a1.4 1.4 0 1 0 2.8 0a1.4 1.4 0 1 0 -2.8 0M386.68 532.2a1.4 1.4 0 1 0 2.8 0a1.4 1.4 0 1 0 -2.8 0M394.03 527.93a1.4 1.4 0 1 0 2.8 0a1.4 1.4 0 1 0 -2.8 0M401.39 523.66a1.4 1.4 0 1 0 2.8 0a1.4 1.4 0 1 0 -2.8 0M408.74 519.39a1.4 1.4 0 1 0 2.8 0a1.4 1.4 0 1 0 -2.8 0M416.1 515.12a1.4 1.4 0 1 0 2.8 0a1.4 1.4 0 1 0 -2.8 0M423.45 510.84a1.4 1.4 0 1 0 2.8 0a1.4 1.4 0 1 0 -2.8 0M430.81 506.57a1.4 1.4 0 1 0 2.8 0a1.4 1.4 0 1 0 -2.8 0M438.16 502.3a1.4 1.4 0 1 0 2.8 0a1.4 1.4 0 1 0 -2.8 0M445.51 498.03a1.4 1.4 0 1 0 2.8 0a1.4 1.4 0 1 0 -2.8 0M452.87 493.76a1.4 1.4 0 1 0 2.8 0a1.4 1.4 0 1 0 -2.8 0M460.23 489.48a1.4 1.4 0 1 0 2.8 0a1.4 1.4 0 1 0 -2.8 0M467.58 485.21a1.4 1.4 0 1 0 2.8 0a1.4 1.4 0 1 0 -2.8 0M474.94 480.94a1.4 1.4 0 1 0 2.8 0a1.4 1.4 0 1 0 -2.8 0M482.29 476.67a1.4 1.4 0 1 0 2.8 0a1.4 1.4 0 1 0 -2.8 0M489.64 472.4a1.4 1.4 0 1 0 2.8 0a1.4 1.4 0 1 0 -2.8 0" fill="#b0b026"/>
<rect x="444.5" y="471.5" width="53" height="36" rx="3" fill="#fff" fill-opacity="0.62" stroke="#000"/>
<path d="M449 479.5l11.7 4.1" stroke="#b4242a" fill="none"/>
<text x="465 472 480 486" y="486">ch_0</text>
<path d="M449 494.5l11.7 4.1" stroke="#b0b026" fill="none"/>
<text x="465 472 480 486" y="501">ch_1</text>
<path d="M454.1 484.5a1.4 1.4 0 1 0 2.8 0a1.4 1.4 0 1 0 -2.8 0" fill="#b4242a"/>
<path d="M454.1 499.5a1.4 1.4 0 1 0 2.8 0a1.4 1.4 0 1 0 -2.8 0" fill="#b0b026"/>
<g clip-path="url(#cp32)">
<path d="M585.3 514.05L740.9 514.05" stroke="#b4242a" stroke-width="1.6" fill="none"/>
<path d="M661.09 514.05L661.69 523.68L662.29 507.63L662.9 514.05" stroke="#b4242a" stroke-width="1.2" fill="none"/>
<path d="M665.32 514.05L666.23 487.3L667.13 518.33L668.04 514.05" stroke="#b4242a" stroke-width="1.2" fill="none"/>
<path d="M585.3 514.05L740.9 514.05" stroke="#b0b026" stroke-width="2.6" fill="none"/>
<path d="M660.18 514.05L660.93 471.46L661.39 525.18L661.99 514.05" stroke="#b0b026" stroke-width="1.2" fill="none"/>
<path d="M664.71 514.05L665.62 502.28L666.23 555.78L666.83 514.05" stroke="#b0b026" stroke-width="1.2" fill="none"/>
<ellipse cx="660.63" cy="514.05" rx="3" ry="3.4" fill="#b0b026"/><ellipse cx="666.68" cy="514.05" rx="3" ry="3.4" fill="#b0b026"/>
</g>
<rect x="685.5" y="471.5" width="54" height="36" rx="3" fill="#fff" fill-opacity="0.65" stroke="#000"/>
<path d="M690 479.5l11.7 4.1" stroke="#b4242a" fill="none"/>
<text x="706 711 719 727" y="486">real</text>
<path d="M690 494.5l11.7 4.1" stroke="#b0b026" fill="none"/>
<text x="706 709 720 728" y="501">imag</text>
<g clip-path="url(#cp33)">
<path d="M827.5 494V547M876.5 494V547M894.5 496V544M896.5 494V543" stroke="#000" stroke-opacity="0.55" stroke-dasharray="1 1" stroke-dashoffset="0" fill="none"/>
<path d="M828.5 495V545M841.5 495V548M875.5 497V543M891.5 498V544M897.5 494V547M899.5 494V547" stroke="#000" stroke-opacity="0.38" stroke-dasharray="1 1" stroke-dashoffset="1.5" fill="none"/>
<path d="M829.5 497V547M833.5 494V546M882.5 496V544" stroke="#000" stroke-opacity="0.22" stroke-dasharray="1 1" stroke-dashoffset="1.5" fill="none"/>
<path d="M830.5 494V547M837.5 499V548M845.5 496V544M850.5 496V544M852.5 496V545M863.5 496V544M892.5 494V545M905.5 499V548M912.5 495V543M920.5 494V543M925.5 497V547M927.5 494V546" stroke="#000" stroke-opacity="0.38" stroke-dasharray="1 1" stroke-dashoffset="0" fill="none"/>
<path d="M831.5 498V544M848.5 498V545M890.5 494V543" stroke="#000" stroke-opacity="0.55" stroke-dasharray="1 1" stroke-dashoffset="0.5" fill="none"/>
<path d="M832.5 497V543M847.5 497V543M893.5 499V544M901.5 497V546M910.5 499V544M916.5 496V547M922.5 494V545M923.5 498V546" stroke="#000" stroke-opacity="0.3" stroke-dasharray="1 1" stroke-dashoffset="0" fill="none"/>
<path d="M834.5 497V548M895.5 498V542" stroke="#000" stroke-opacity="0.46" stroke-dasharray="1 1" stroke-dashoffset="0" fill="none"/>
<path d="M835.5 497V547M853.5 496V544M860.5 495V543M864.5 494V544M868.5 496V545M885.5 494V543M907.5 497V544M921.5 498V547" stroke="#000" stroke-opacity="0.38" stroke-dasharray="1 1" stroke-dashoffset="0.5" fill="none"/>
<path d="M836.5 495V546M846.5 496V544M883.5 499V544M906.5 495V547" stroke="#000" stroke-opacity="0.55" stroke-dasharray="1 1" stroke-dashoffset="1.5" fill="none"/>
<path d="M838.5 494V548M849.5 496V544M854.5 499V545M859.5 499V545M900.5 498V545M911.5 495V544M915.5 493V542M919.5 495V546" stroke="#000" stroke-opacity="0.55" stroke-dasharray="1 1" stroke-dashoffset="1" fill="none"/>
<path d="M839.5 494V544M869.5 499V546M878.5 497V545M888.5 499V546" stroke="#000" stroke-opacity="0.46" stroke-dasharray="1 1" stroke-dashoffset="1.5" fill="none"/>
<path d="M840.5 496V548M861.5 495V543M862.5 497V543M880.5 499V542M881.5 498V545M918.5 494V543" stroke="#000" stroke-opacity="0.3" stroke-dasharray="1 1" stroke-dashoffset="1" fill="none"/>
<path d="M842.5 497V542M877.5 496V544M879.5 495V545M913.5 495V542M926.5 496V544" stroke="#000" stroke-opacity="0.3" stroke-dasharray="1 1" stroke-dashoffset="1.5" fill="none"/>
<path d="M843.5 496V543M855.5 496V542M870.5 495V546M886.5 495V544M924.5 497V545" stroke="#000" stroke-opacity="0.38" stroke-dasharray="1 1" stroke-dashoffset="1" fill="none"/>
<path d="M844.5 494V546M866.5 499V545M917.5 496V547" stroke="#000" stroke-opacity="0.22" stroke-dasharray="1 1" stroke-dashoffset="0.5" fill="none"/>
<path d="M851.5 496V547M865.5 495V544M867.5 493V543M898.5 494V545" stroke="#000" stroke-opacity="0.46" stroke-dasharray="1 1" stroke-dashoffset="0.5" fill="none"/>
<path d="M856.5 496V542M873.5 494V543M887.5 496V544" stroke="#000" stroke-opacity="0.3" stroke-dasharray="1 1" stroke-dashoffset="0.5" fill="none"/>
<path d="M857.5 497V543M872.5 494V543M889.5 494V545M908.5 495V544M909.5 494V547" stroke="#000" stroke-opacity="0.22" stroke-dasharray="1 1" stroke-dashoffset="1" fill="none"/>
<path d="M858.5 494V548M874.5 496V544M884.5 498V545M902.5 495V544M904.5 496V544M914.5 494V545" stroke="#000" stroke-opacity="0.22" stroke-dasharray="1 1" stroke-dashoffset="0" fill="none"/>
<path d="M871.5 497V545M903.5 498V548" stroke="#000" stroke-opacity="0.46" stroke-dasharray="1 1" stroke-dashoffset="1" fill="none"/>
<path d="M827.5 494.67v2.5M827.5 547.68v-2.5M828.5 495.4v2.5M828.5 545.57v-2.5M829.5 497.78v2.5M829.5 547.33v-2.5M830.5 494.04v2.5M830.5 547.61v-2.5M831.5 498.04v2.5M831.5 544.2v-2.5M832.5 497.41v2.5M832.5 543.21v-2.5M833.5 494v2.5M833.5 546.5v-2.5M834.5 497.99v2.5M834.5 548.41v-2.5M835.5 497.03v2.5M835.5 547.18v-2.5M836.5 495.94v2.5M836.5 546.66v-2.5M837.5 499.58v2.5M837.5 548.16v-2.5M838.5 494.98v2.5M838.5 548.56v-2.5M839.5 494.59v2.5M839.5 544.6v-2.5M840.5 496.91v2.5M840.5 548.06v-2.5M841.5 495.57v2.5M841.5 548.44v-2.5M842.5 497.4v2.5M842.5 542.81v-2.5M843.5 496.35v2.5M843.5 543.64v-2.5M844.5 494.39v2.5M844.5 546.58v-2.5M845.5 496.99v2.5M845.5 544.96v-2.5M846.5 496.68v2.5M846.5 544.45v-2.5M847.5 497.75v2.5M847.5 543.61v-2.5M848.5 498.49v2.5M848.5 545.84v-2.5M849.5 496.29v2.5M849.5 544.66v-2.5M850.5 496.62v2.5M850.5 544.22v-2.5M851.5 496.17v2.5M851.5 547.74v-2.5M852.5 496.98v2.5M852.5 545.97v-2.5M853.5 496.75v2.5M853.5 544.79v-2.5M854.5 499.51v2.5M854.5 545.08v-2.5M855.5 496.35v2.5M855.5 542.61v-2.5M856.5 496.62v2.5M856.5 542.77v-2.5M857.5 497.17v2.5M857.5 543.68v-2.5M858.5 494.06v2.5M858.5 548.26v-2.5M859.5 499.08v2.5M859.5 545.32v-2.5M860.5 495.36v2.5M860.5 543.26v-2.5M861.5 495.93v2.5M861.5 543.02v-2.5M862.5 497.03v2.5M862.5 543.61v-2.5M863.5 496.59v2.5M863.5 544.53v-2.5M864.5 494.01v2.5M864.5 544.92v-2.5M865.5 495.42v2.5M865.5 544.12v-2.5M866.5 499.66v2.5M866.5 545.19v-2.5M867.5 493.97v2.5M867.5 543.48v-2.5M868.5 496.54v2.5M868.5 545.64v-2.5M869.5 499.73v2.5M869.5 546.38v-2.5M870.5 495.21v2.5M870.5 546.49v-2.5M871.5 497.83v2.5M871.5 545.16v-2.5M872.5 494.62v2.5M872.5 543.87v-2.5M873.5 494.29v2.5M873.5 543.06v-2.5M874.5 496.36v2.5M874.5 544.11v-2.5M875.5 497.41v2.5M875.5 543.91v-2.5M876.5 494.9v2.5M876.5 547.81v-2.5M877.5 496.13v2.5M877.5 544.68v-2.5M878.5 497.42v2.5M878.5 545.55v-2.5M879.5 495.64v2.5M879.5 545.6v-2.5M880.5 499.26v2.5M880.5 542.71v-2.5M881.5 498.73v2.5M881.5 545.98v-2.5M882.5 496.44v2.5M882.5 544.2v-2.5M883.5 499.46v2.5M883.5 544.66v-2.5M884.5 498.47v2.5M884.5 545.8v-2.5M885.5 494.37v2.5M885.5 543.62v-2.5M886.5 495.47v2.5M886.5 544.59v-2.5M887.5 496.08v2.5M887.5 544.64v-2.5M888.5 499.07v2.5M888.5 546.22v-2.5M889.5 494.68v2.5M889.5 545.91v-2.5M890.5 494.1v2.5M890.5 543.04v-2.5M891.5 498.84v2.5M891.5 544.65v-2.5M892.5 494.33v2.5M892.5 545.9v-2.5M893.5 499.58v2.5M893.5 544.79v-2.5M894.5 496.61v2.5M894.5 544.26v-2.5M895.5 498.83v2.5M895.5 542.67v-2.5M896.5 494.42v2.5M896.5 543.29v-2.5M897.5 494.99v2.5M897.5 547.31v-2.5M898.5 494.84v2.5M898.5 545.31v-2.5M899.5 494.82v2.5M899.5 547.67v-2.5M900.5 498.71v2.5M900.5 545.86v-2.5M901.5 497.17v2.5M901.5 546.87v-2.5M902.5 495.11v2.5M902.5 544.5v-2.5M903.5 498.59v2.5M903.5 548.15v-2.5M904.5 496.57v2.5M904.5 544.48v-2.5M905.5 499.35v2.5M905.5 548.42v-2.5M906.5 495.37v2.5M906.5 547.31v-2.5M907.5 497.84v2.5M907.5 544.15v-2.5M908.5 495.71v2.5M908.5 544.08v-2.5M909.5 494.4v2.5M909.5 547.12v-2.5M910.5 499.51v2.5M910.5 544.94v-2.5M911.5 495.83v2.5M911.5 544.5v-2.5M912.5 495.34v2.5M912.5 543.21v-2.5M913.5 495.34v2.5M913.5 542.72v-2.5M914.5 494.3v2.5M914.5 545.91v-2.5M915.5 494v2.5M915.5 542.66v-2.5M916.5 496.83v2.5M916.5 547.78v-2.5M917.5 496.88v2.5M917.5 547.37v-2.5M918.5 494.94v2.5M918.5 543.5v-2.5M919.5 495.7v2.5M919.5 546.86v-2.5M920.5 494.62v2.5M920.5 543.84v-2.5M921.5 498.55v2.5M921.5 547.53v-2.5M922.5 494.94v2.5M922.5 545.2v-2.5M923.5 498.16v2.5M923.5 546.61v-2.5M924.5 497.96v2.5M924.5 545.28v-2.5M925.5 497.11v2.5M925.5 547.71v-2.5M926.5 496.24v2.5M926.5 544.63v-2.5M927.5 494.01v2.5M927.5 546.48v-2.5" stroke="#000" stroke-opacity="0.5" fill="none"/>
<path d="M831.5 483.44V496.37M839.5 478.46V496.37M843.5 478.96V496.37M846.5 479.46V496.37M851.5 472.49V496.37M854.5 486.42V496.37M859.5 482.94V496.37M877.5 486.42V496.37M885.5 477.47V496.37M892.5 472.49V496.37M893.5 473.99V496.37M897.5 486.42V496.37M900.5 477.97V496.37M905.5 485.92V496.37M908.5 486.92V496.37M829.5 552.78V546.1M833.5 553.42V546.1M836.5 555.59V546.1M839.5 552.86V546.1M843.5 553.11V546.1M846.5 553.58V546.1M849.5 551.18V546.1M853.5 553.13V546.1M856.5 553.84V546.1M860.5 554.81V546.1M863.5 550.64V546.1M866.5 551.89V546.1M870.5 550.62V546.1M873.5 554.91V546.1M877.5 554.22V546.1M880.5 550.33V546.1M883.5 555.94V546.1M887.5 555.84V546.1M890.5 553.98V546.1M893.5 553.75V546.1M897.5 551.02V546.1M900.5 550.17V546.1M904.5 553.23V546.1M907.5 550.43V546.1M910.5 551.21V546.1M914.5 551.52V546.1M917.5 550.26V546.1M921.5 552.85V546.1M924.5 552.71V546.1M927.5 555.11V546.1M828.5 492.59V496.37M833.5 490.59V496.37M837.5 492.65V496.37M842.5 490.09V496.37M846.5 490.58V496.37M851.5 494.37V496.37M856.5 493.44V496.37M860.5 490.3V496.37M865.5 492.27V496.37M869.5 489.99V496.37M874.5 492.6V496.37M879.5 494.05V496.37M883.5 491.56V496.37M888.5 490.89V496.37M892.5 493.17V496.37M897.5 493.99V496.37M901.5 492.89V496.37M906.5 490.06V496.37M911.5 490.98V496.37M915.5 493.85V496.37M920.5 493.27V496.37M924.5 493.93V496.37" stroke="#000" stroke-opacity=".42" stroke-dasharray="1 1" fill="none"/>
<path d="M830.7 483.94a0.8 0.8 0 1 0 1.6 0a0.8 0.8 0 1 0 -1.6 0M838.7 478.96a0.8 0.8 0 1 0 1.6 0a0.8 0.8 0 1 0 -1.6 0M842.7 479.46a0.8 0.8 0 1 0 1.6 0a0.8 0.8 0 1 0 -1.6 0M845.7 479.96a0.8 0.8 0 1 0 1.6 0a0.8 0.8 0 1 0 -1.6 0M850.7 472.99a0.8 0.8 0 1 0 1.6 0a0.8 0.8 0 1 0 -1.6 0M853.7 486.92a0.8 0.8 0 1 0 1.6 0a0.8 0.8 0 1 0 -1.6 0M858.7 483.44a0.8 0.8 0 1 0 1.6 0a0.8 0.8 0 1 0 -1.6 0M876.7 486.92a0.8 0.8 0 1 0 1.6 0a0.8 0.8 0 1 0 -1.6 0M884.7 477.97a0.8 0.8 0 1 0 1.6 0a0.8 0.8 0 1 0 -1.6 0M891.7 472.99a0.8 0.8 0 1 0 1.6 0a0.8 0.8 0 1 0 -1.6 0M892.7 474.49a0.8 0.8 0 1 0 1.6 0a0.8 0.8 0 1 0 -1.6 0M896.7 486.92a0.8 0.8 0 1 0 1.6 0a0.8 0.8 0 1 0 -1.6 0M899.7 478.47a0.8 0.8 0 1 0 1.6 0a0.8 0.8 0 1 0 -1.6 0M904.7 486.42a0.8 0.8 0 1 0 1.6 0a0.8 0.8 0 1 0 -1.6 0M907.7 487.42a0.8 0.8 0 1 0 1.6 0a0.8 0.8 0 1 0 -1.6 0M828.7 552.28a0.8 0.8 0 1 0 1.6 0a0.8 0.8 0 1 0 -1.6 0M832.7 552.92a0.8 0.8 0 1 0 1.6 0a0.8 0.8 0 1 0 -1.6 0M835.7 555.09a0.8 0.8 0 1 0 1.6 0a0.8 0.8 0 1 0 -1.6 0M838.7 552.36a0.8 0.8 0 1 0 1.6 0a0.8 0.8 0 1 0 -1.6 0M842.7 552.61a0.8 0.8 0 1 0 1.6 0a0.8 0.8 0 1 0 -1.6 0M845.7 553.08a0.8 0.8 0 1 0 1.6 0a0.8 0.8 0 1 0 -1.6 0M848.7 550.68a0.8 0.8 0 1 0 1.6 0a0.8 0.8 0 1 0 -1.6 0M852.7 552.63a0.8 0.8 0 1 0 1.6 0a0.8 0.8 0 1 0 -1.6 0M855.7 553.34a0.8 0.8 0 1 0 1.6 0a0.8 0.8 0 1 0 -1.6 0M859.7 554.31a0.8 0.8 0 1 0 1.6 0a0.8 0.8 0 1 0 -1.6 0M862.7 550.14a0.8 0.8 0 1 0 1.6 0a0.8 0.8 0 1 0 -1.6 0M865.7 551.39a0.8 0.8 0 1 0 1.6 0a0.8 0.8 0 1 0 -1.6 0M869.7 550.12a0.8 0.8 0 1 0 1.6 0a0.8 0.8 0 1 0 -1.6 0M872.7 554.41a0.8 0.8 0 1 0 1.6 0a0.8 0.8 0 1 0 -1.6 0M876.7 553.72a0.8 0.8 0 1 0 1.6 0a0.8 0.8 0 1 0 -1.6 0M879.7 549.83a0.8 0.8 0 1 0 1.6 0a0.8 0.8 0 1 0 -1.6 0M882.7 555.44a0.8 0.8 0 1 0 1.6 0a0.8 0.8 0 1 0 -1.6 0M886.7 555.34a0.8 0.8 0 1 0 1.6 0a0.8 0.8 0 1 0 -1.6 0M889.7 553.48a0.8 0.8 0 1 0 1.6 0a0.8 0.8 0 1 0 -1.6 0M892.7 553.25a0.8 0.8 0 1 0 1.6 0a0.8 0.8 0 1 0 -1.6 0M896.7 550.52a0.8 0.8 0 1 0 1.6 0a0.8 0.8 0 1 0 -1.6 0M899.7 549.67a0.8 0.8 0 1 0 1.6 0a0.8 0.8 0 1 0 -1.6 0M903.7 552.73a0.8 0.8 0 1 0 1.6 0a0.8 0.8 0 1 0 -1.6 0M906.7 549.93a0.8 0.8 0 1 0 1.6 0a0.8 0.8 0 1 0 -1.6 0M909.7 550.71a0.8 0.8 0 1 0 1.6 0a0.8 0.8 0 1 0 -1.6 0M913.7 551.02a0.8 0.8 0 1 0 1.6 0a0.8 0.8 0 1 0 -1.6 0M916.7 549.76a0.8 0.8 0 1 0 1.6 0a0.8 0.8 0 1 0 -1.6 0M920.7 552.35a0.8 0.8 0 1 0 1.6 0a0.8 0.8 0 1 0 -1.6 0M923.7 552.21a0.8 0.8 0 1 0 1.6 0a0.8 0.8 0 1 0 -1.6 0M926.7 554.61a0.8 0.8 0 1 0 1.6 0a0.8 0.8 0 1 0 -1.6 0M827.7 493.09a0.8 0.8 0 1 0 1.6 0a0.8 0.8 0 1 0 -1.6 0M832.7 491.09a0.8 0.8 0 1 0 1.6 0a0.8 0.8 0 1 0 -1.6 0M836.7 493.15a0.8 0.8 0 1 0 1.6 0a0.8 0.8 0 1 0 -1.6 0M841.7 490.59a0.8 0.8 0 1 0 1.6 0a0.8 0.8 0 1 0 -1.6 0M845.7 491.08a0.8 0.8 0 1 0 1.6 0a0.8 0.8 0 1 0 -1.6 0M850.7 494.87a0.8 0.8 0 1 0 1.6 0a0.8 0.8 0 1 0 -1.6 0M855.7 493.94a0.8 0.8 0 1 0 1.6 0a0.8 0.8 0 1 0 -1.6 0M859.7 490.8a0.8 0.8 0 1 0 1.6 0a0.8 0.8 0 1 0 -1.6 0M864.7 492.77a0.8 0.8 0 1 0 1.6 0a0.8 0.8 0 1 0 -1.6 0M868.7 490.49a0.8 0.8 0 1 0 1.6 0a0.8 0.8 0 1 0 -1.6 0M873.7 493.1a0.8 0.8 0 1 0 1.6 0a0.8 0.8 0 1 0 -1.6 0M878.7 494.55a0.8 0.8 0 1 0 1.6 0a0.8 0.8 0 1 0 -1.6 0M882.7 492.06a0.8 0.8 0 1 0 1.6 0a0.8 0.8 0 1 0 -1.6 0M887.7 491.39a0.8 0.8 0 1 0 1.6 0a0.8 0.8 0 1 0 -1.6 0M891.7 493.67a0.8 0.8 0 1 0 1.6 0a0.8 0.8 0 1 0 -1.6 0M896.7 494.49a0.8 0.8 0 1 0 1.6 0a0.8 0.8 0 1 0 -1.6 0M900.7 493.39a0.8 0.8 0 1 0 1.6 0a0.8 0.8 0 1 0 -1.6 0M905.7 490.56a0.8 0.8 0 1 0 1.6 0a0.8 0.8 0 1 0 -1.6 0M910.7 491.48a0.8 0.8 0 1 0 1.6 0a0.8 0.8 0 1 0 -1.6 0M914.7 494.35a0.8 0.8 0 1 0 1.6 0a0.8 0.8 0 1 0 -1.6 0M919.7 493.77a0.8 0.8 0 1 0 1.6 0a0.8 0.8 0 1 0 -1.6 0M923.7 494.43a0.8 0.8 0 1 0 1.6 0a0.8 0.8 0 1 0 -1.6 0" fill="#222"/>
<path d="M935.5 499V548M959.5 496V546M961.5 494V548M980.5 496V543" stroke="#000" stroke-opacity="0.22" stroke-dasharray="1 1" stroke-dashoffset="0" fill="none"/>
<path d="M936.5 494V547M969.5 496V543" stroke="#000" stroke-opacity="0.46" stroke-dasharray="1 1" stroke-dashoffset="1" fill="none"/>
<path d="M937.5 495V543M973.5 497V545M981.5 493V547" stroke="#000" stroke-opacity="0.22" stroke-dasharray="1 1" stroke-dashoffset="0.5" fill="none"/>
<path d="M938.5 499V546" stroke="#000" stroke-opacity="0.55" stroke-dasharray="1 1" stroke-dashoffset="1" fill="none"/>
<path d="M939.5 497V545M955.5 498V548M958.5 498V544M963.5 498V543M975.5 494V545M979.5 494V544" stroke="#000" stroke-opacity="0.3" stroke-dasharray="1 1" stroke-dashoffset="0" fill="none"/>
<path d="M940.5 499V544M947.5 497V544M948.5 496V547M966.5 495V545" stroke="#000" stroke-opacity="0.3" stroke-dasharray="1 1" stroke-dashoffset="1.5" fill="none"/>
<path d="M941.5 496V547M942.5 495V542M950.5 496V543M956.5 494V546M962.5 498V542M964.5 496V542M974.5 497V544" stroke="#000" stroke-opacity="0.3" stroke-dasharray="1 1" stroke-dashoffset="0.5" fill="none"/>
<path d="M943.5 494V545" stroke="#000" stroke-opacity="0.38" stroke-dasharray="1 1" stroke-dashoffset="0.5" fill="none"/>
<path d="M944.5 499V545M953.5 495V543M971.5 496V547M977.5 495V546" stroke="#000" stroke-opacity="0.38" stroke-dasharray="1 1" stroke-dashoffset="1" fill="none"/>
<path d="M945.5 498V544M951.5 499V546" stroke="#000" stroke-opacity="0.55" stroke-dasharray="1 1" stroke-dashoffset="1.5" fill="none"/>
<path d="M946.5 494V547M952.5 495V548" stroke="#000" stroke-opacity="0.46" stroke-dasharray="1 1" stroke-dashoffset="1.5" fill="none"/>
<path d="M949.5 499V545" stroke="#000" stroke-opacity="0.38" stroke-dasharray="1 1" stroke-dashoffset="1.5" fill="none"/>
<path d="M954.5 499V546M967.5 497V546" stroke="#000" stroke-opacity="0.22" stroke-dasharray="1 1" stroke-dashoffset="1" fill="none"/>
<path d="M957.5 497V548M970.5 498V542" stroke="#000" stroke-opacity="0.55" stroke-dasharray="1 1" stroke-dashoffset="0.5" fill="none"/>
<path d="M960.5 496V543" stroke="#000" stroke-opacity="0.46" stroke-dasharray="1 1" stroke-dashoffset="0" fill="none"/>
<path d="M965.5 499V542M976.5 499V543M978.5 495V545" stroke="#000" stroke-opacity="0.38" stroke-dasharray="1 1" stroke-dashoffset="0" fill="none"/>
<path d="M968.5 498V547" stroke="#000" stroke-opacity="0.46" stroke-dasharray="1 1" stroke-dashoffset="0.5" fill="none"/>
<path d="M972.5 494V548" stroke="#000" stroke-opacity="0.3" stroke-dasharray="1 1" stroke-dashoffset="1" fill="none"/>
<path d="M935.5 499.6v2.5M935.5 548.29v-2.5M936.5 494.38v2.5M936.5 547.61v-2.5M937.5 495.38v2.5M937.5 543.87v-2.5M938.5 499.86v2.5M938.5 546.43v-2.5M939.5 497.13v2.5M939.5 545.27v-2.5M940.5 499.09v2.5M940.5 544.78v-2.5M941.5 496.41v2.5M941.5 547.9v-2.5M942.5 495.28v2.5M942.5 542.74v-2.5M943.5 494.69v2.5M943.5 545.66v-2.5M944.5 499.84v2.5M944.5 545.27v-2.5M945.5 498.61v2.5M945.5 544.72v-2.5M946.5 494.83v2.5M946.5 547.12v-2.5M947.5 497.8v2.5M947.5 544.1v-2.5M948.5 496.87v2.5M948.5 547.59v-2.5M949.5 499.26v2.5M949.5 545.37v-2.5M950.5 496.79v2.5M950.5 543.93v-2.5M951.5 499.13v2.5M951.5 546.3v-2.5M952.5 495.72v2.5M952.5 548.34v-2.5M953.5 495.74v2.5M953.5 543.85v-2.5M954.5 499.47v2.5M954.5 546.34v-2.5M955.5 498.22v2.5M955.5 548.05v-2.5M956.5 494.22v2.5M956.5 546.52v-2.5M957.5 497.96v2.5M957.5 548.1v-2.5M958.5 498.99v2.5M958.5 544.07v-2.5M959.5 496.4v2.5M959.5 546.9v-2.5M960.5 496.04v2.5M960.5 543.63v-2.5M961.5 494.36v2.5M961.5 548.33v-2.5M962.5 498.24v2.5M962.5 542.73v-2.5M963.5 498.75v2.5M963.5 543.54v-2.5M964.5 496.18v2.5M964.5 542.86v-2.5M965.5 499.69v2.5M965.5 542.63v-2.5M966.5 495.58v2.5M966.5 545.53v-2.5M967.5 497.18v2.5M967.5 546.23v-2.5M968.5 498.4v2.5M968.5 547.77v-2.5M969.5 496.7v2.5M969.5 543.95v-2.5M970.5 498.9v2.5M970.5 542.75v-2.5M971.5 496.98v2.5M971.5 547.29v-2.5M972.5 494.73v2.5M972.5 548.36v-2.5M973.5 497.5v2.5M973.5 545.12v-2.5M974.5 497.89v2.5M974.5 544.12v-2.5M975.5 494.89v2.5M975.5 545.32v-2.5M976.5 499.83v2.5M976.5 543.99v-2.5M977.5 495.37v2.5M977.5 546.15v-2.5M978.5 495.41v2.5M978.5 545.14v-2.5M979.5 494.77v2.5M979.5 544.91v-2.5M980.5 496.94v2.5M980.5 543.13v-2.5M981.5 493.99v2.5M981.5 547.1v-2.5" stroke="#000" stroke-opacity="0.5" fill="none"/>
<path d="M939.5 475.98V496.37M946.5 475.48V496.37M954.5 482.44V496.37M934.5 553.9V546.1M937.5 553.06V546.1M941.5 554.03V546.1M944.5 552.81V546.1M948.5 551.74V546.1M951.5 556.03V546.1M954.5 556.02V546.1M958.5 555.09V546.1M961.5 554.3V546.1M965.5 551.96V546.1M968.5 551.45V546.1M971.5 551.8V546.1M975.5 550.5V546.1M978.5 554.65V546.1M938.5 493.58V496.37M943.5 491.87V496.37M947.5 492.37V496.37M952.5 493.52V496.37M956.5 491.1V496.37M961.5 493.79V496.37M966.5 491.5V496.37M970.5 493.86V496.37M975.5 492.49V496.37M979.5 493.42V496.37" stroke="#000" stroke-opacity=".42" stroke-dasharray="1 1" fill="none"/>
<path d="M938.7 476.48a0.8 0.8 0 1 0 1.6 0a0.8 0.8 0 1 0 -1.6 0M945.7 475.98a0.8 0.8 0 1 0 1.6 0a0.8 0.8 0 1 0 -1.6 0M953.7 482.94a0.8 0.8 0 1 0 1.6 0a0.8 0.8 0 1 0 -1.6 0M933.7 553.4a0.8 0.8 0 1 0 1.6 0a0.8 0.8 0 1 0 -1.6 0M936.7 552.56a0.8 0.8 0 1 0 1.6 0a0.8 0.8 0 1 0 -1.6 0M940.7 553.53a0.8 0.8 0 1 0 1.6 0a0.8 0.8 0 1 0 -1.6 0M943.7 552.31a0.8 0.8 0 1 0 1.6 0a0.8 0.8 0 1 0 -1.6 0M947.7 551.24a0.8 0.8 0 1 0 1.6 0a0.8 0.8 0 1 0 -1.6 0M950.7 555.53a0.8 0.8 0 1 0 1.6 0a0.8 0.8 0 1 0 -1.6 0M953.7 555.52a0.8 0.8 0 1 0 1.6 0a0.8 0.8 0 1 0 -1.6 0M957.7 554.59a0.8 0.8 0 1 0 1.6 0a0.8 0.8 0 1 0 -1.6 0M960.7 553.8a0.8 0.8 0 1 0 1.6 0a0.8 0.8 0 1 0 -1.6 0M964.7 551.46a0.8 0.8 0 1 0 1.6 0a0.8 0.8 0 1 0 -1.6 0M967.7 550.95a0.8 0.8 0 1 0 1.6 0a0.8 0.8 0 1 0 -1.6 0M970.7 551.3a0.8 0.8 0 1 0 1.6 0a0.8 0.8 0 1 0 -1.6 0M974.7 550a0.8 0.8 0 1 0 1.6 0a0.8 0.8 0 1 0 -1.6 0M977.7 554.15a0.8 0.8 0 1 0 1.6 0a0.8 0.8 0 1 0 -1.6 0M937.7 494.08a0.8 0.8 0 1 0 1.6 0a0.8 0.8 0 1 0 -1.6 0M942.7 492.37a0.8 0.8 0 1 0 1.6 0a0.8 0.8 0 1 0 -1.6 0M946.7 492.87a0.8 0.8 0 1 0 1.6 0a0.8 0.8 0 1 0 -1.6 0M951.7 494.02a0.8 0.8 0 1 0 1.6 0a0.8 0.8 0 1 0 -1.6 0M955.7 491.6a0.8 0.8 0 1 0 1.6 0a0.8 0.8 0 1 0 -1.6 0M960.7 494.29a0.8 0.8 0 1 0 1.6 0a0.8 0.8 0 1 0 -1.6 0M965.7 492a0.8 0.8 0 1 0 1.6 0a0.8 0.8 0 1 0 -1.6 0M969.7 494.36a0.8 0.8 0 1 0 1.6 0a0.8 0.8 0 1 0 -1.6 0M974.7 492.99a0.8 0.8 0 1 0 1.6 0a0.8 0.8 0 1 0 -1.6 0M978.7 493.92a0.8 0.8 0 1 0 1.6 0a0.8 0.8 0 1 0 -1.6 0" fill="#222"/>
</g>
<g clip-path="url(#cp34)">
<path d="M1068.5 494V547M1117.5 494V547M1135.5 496V544M1137.5 494V543" stroke="#000" stroke-opacity="0.55" stroke-dasharray="1 1" stroke-dashoffset="0" fill="none"/>
<path d="M1069.5 495V545M1082.5 495V548M1116.5 497V543M1132.5 498V544M1138.5 494V547M1140.5 494V547" stroke="#000" stroke-opacity="0.38" stroke-dasharray="1 1" stroke-dashoffset="1.5" fill="none"/>
<path d="M1070.5 497V547M1074.5 494V546M1123.5 496V544" stroke="#000" stroke-opacity="0.22" stroke-dasharray="1 1" stroke-dashoffset="1.5" fill="none"/>
<path d="M1071.5 494V547M1078.5 499V548M1086.5 496V544M1091.5 496V544M1093.5 496V545M1104.5 496V544M1133.5 494V545" stroke="#000" stroke-opacity="0.38" stroke-dasharray="1 1" stroke-dashoffset="0" fill="none"/>
<path d="M1072.5 498V544M1089.5 498V545M1131.5 494V543" stroke="#000" stroke-opacity="0.55" stroke-dasharray="1 1" stroke-dashoffset="0.5" fill="none"/>
<path d="M1073.5 497V543M1088.5 497V543M1134.5 499V544M1142.5 497V546" stroke="#000" stroke-opacity="0.3" stroke-dasharray="1 1" stroke-dashoffset="0" fill="none"/>
<path d="M1075.5 497V548M1136.5 498V542" stroke="#000" stroke-opacity="0.46" stroke-dasharray="1 1" stroke-dashoffset="0" fill="none"/>
<path d="M1076.5 497V547M1094.5 496V544M1101.5 495V543M1105.5 494V544M1109.5 496V545M1126.5 494V543" stroke="#000" stroke-opacity="0.38" stroke-dasharray="1 1" stroke-dashoffset="0.5" fill="none"/>
<path d="M1077.5 495V546M1087.5 496V544M1124.5 499V544" stroke="#000" stroke-opacity="0.55" stroke-dasharray="1 1" stroke-dashoffset="1.5" fill="none"/>
<path d="M1079.5 494V548M1090.5 496V544M1095.5 499V545M1100.5 499V545M1141.5 498V545" stroke="#000" stroke-opacity="0.55" stroke-dasharray="1 1" stroke-dashoffset="1" fill="none"/>
<path d="M1080.5 494V544M1110.5 499V546M1119.5 497V545M1129.5 499V546" stroke="#000" stroke-opacity="0.46" stroke-dasharray="1 1" stroke-dashoffset="1.5" fill="none"/>
<path d="M1081.5 496V548M1102.5 495V543M1103.5 497V543M1121.5 499V542M1122.5 498V545" stroke="#000" stroke-opacity="0.3" stroke-dasharray="1 1" stroke-dashoffset="1" fill="none"/>
<path d="M1083.5 497V542M1118.5 496V544M1120.5 495V545" stroke="#000" stroke-opacity="0.3" stroke-dasharray="1 1" stroke-dashoffset="1.5" fill="none"/>
<path d="M1084.5 496V543M1096.5 496V542M1111.5 495V546M1127.5 495V544" stroke="#000" stroke-opacity="0.38" stroke-dasharray="1 1" stroke-dashoffset="1" fill="none"/>
<path d="M1085.5 494V546M1107.5 499V545" stroke="#000" stroke-opacity="0.22" stroke-dasharray="1 1" stroke-dashoffset="0.5" fill="none"/>
<path d="M1092.5 496V547M1106.5 495V544M1108.5 493V543M1139.5 494V545" stroke="#000" stroke-opacity="0.46" stroke-dasharray="1 1" stroke-dashoffset="0.5" fill="none"/>
<path d="M1097.5 496V542M1114.5 494V543M1128.5 496V544" stroke="#000" stroke-opacity="0.3" stroke-dasharray="1 1" stroke-dashoffset="0.5" fill="none"/>
<path d="M1098.5 497V543M1113.5 494V543M1130.5 494V545" stroke="#000" stroke-opacity="0.22" stroke-dasharray="1 1" stroke-dashoffset="1" fill="none"/>
<path d="M1099.5 494V548M1115.5 496V544M1125.5 498V545M1143.5 495V544" stroke="#000" stroke-opacity="0.22" stroke-dasharray="1 1" stroke-dashoffset="0" fill="none"/>
<path d="M1112.5 497V545" stroke="#000" stroke-opacity="0.46" stroke-dasharray="1 1" stroke-dashoffset="1" fill="none"/>
<path d="M1068.5 494.67v2.5M1068.5 547.68v-2.5M1069.5 495.4v2.5M1069.5 545.57v-2.5M1070.5 497.78v2.5M1070.5 547.33v-2.5M1071.5 494.04v2.5M1071.5 547.61v-2.5M1072.5 498.04v2.5M1072.5 544.2v-2.5M1073.5 497.41v2.5M1073.5 543.21v-2.5M1074.5 494v2.5M1074.5 546.5v-2.5M1075.5 497.99v2.5M1075.5 548.41v-2.5M1076.5 497.03v2.5M1076.5 547.18v-2.5M1077.5 495.94v2.5M1077.5 546.66v-2.5M1078.5 499.58v2.5M1078.5 548.16v-2.5M1079.5 494.98v2.5M1079.5 548.56v-2.5M1080.5 494.59v2.5M1080.5 544.6v-2.5M1081.5 496.91v2.5M1081.5 548.06v-2.5M1082.5 495.57v2.5M1082.5 548.44v-2.5M1083.5 497.4v2.5M1083.5 542.81v-2.5M1084.5 496.35v2.5M1084.5 543.64v-2.5M1085.5 494.39v2.5M1085.5 546.58v-2.5M1086.5 496.99v2.5M1086.5 544.96v-2.5M1087.5 496.68v2.5M1087.5 544.45v-2.5M1088.5 497.75v2.5M1088.5 543.61v-2.5M1089.5 498.49v2.5M1089.5 545.84v-2.5M1090.5 496.29v2.5M1090.5 544.66v-2.5M1091.5 496.62v2.5M1091.5 544.22v-2.5M1092.5 496.17v2.5M1092.5 547.74v-2.5M1093.5 496.98v2.5M1093.5 545.97v-2.5M1094.5 496.75v2.5M1094.5 544.79v-2.5M1095.5 499.51v2.5M1095.5 545.08v-2.5M1096.5 496.35v2.5M1096.5 542.61v-2.5M1097.5 496.62v2.5M1097.5 542.77v-2.5M1098.5 497.17v2.5M1098.5 543.68v-2.5M1099.5 494.06v2.5M1099.5 548.26v-2.5M1100.5 499.08v2.5M1100.5 545.32v-2.5M1101.5 495.36v2.5M1101.5 543.26v-2.5M1102.5 495.93v2.5M1102.5 543.02v-2.5M1103.5 497.03v2.5M1103.5 543.61v-2.5M1104.5 496.59v2.5M1104.5 544.53v-2.5M1105.5 494.01v2.5M1105.5 544.92v-2.5M1106.5 495.42v2.5M1106.5 544.12v-2.5M1107.5 499.66v2.5M1107.5 545.19v-2.5M1108.5 493.97v2.5M1108.5 543.48v-2.5M1109.5 496.54v2.5M1109.5 545.64v-2.5M1110.5 499.73v2.5M1110.5 546.38v-2.5M1111.5 495.21v2.5M1111.5 546.49v-2.5M1112.5 497.83v2.5M1112.5 545.16v-2.5M1113.5 494.62v2.5M1113.5 543.87v-2.5M1114.5 494.29v2.5M1114.5 543.06v-2.5M1115.5 496.36v2.5M1115.5 544.11v-2.5M1116.5 497.41v2.5M1116.5 543.91v-2.5M1117.5 494.9v2.5M1117.5 547.81v-2.5M1118.5 496.13v2.5M1118.5 544.68v-2.5M1119.5 497.42v2.5M1119.5 545.55v-2.5M1120.5 495.64v2.5M1120.5 545.6v-2.5M1121.5 499.26v2.5M1121.5 542.71v-2.5M1122.5 498.73v2.5M1122.5 545.98v-2.5M1123.5 496.44v2.5M1123.5 544.2v-2.5M1124.5 499.46v2.5M1124.5 544.66v-2.5M1125.5 498.47v2.5M1125.5 545.8v-2.5M1126.5 494.37v2.5M1126.5 543.62v-2.5M1127.5 495.47v2.5M1127.5 544.59v-2.5M1128.5 496.08v2.5M1128.5 544.64v-2.5M1129.5 499.07v2.5M1129.5 546.22v-2.5M1130.5 494.68v2.5M1130.5 545.91v-2.5M1131.5 494.1v2.5M1131.5 543.04v-2.5M1132.5 498.84v2.5M1132.5 544.65v-2.5M1133.5 494.33v2.5M1133.5 545.9v-2.5M1134.5 499.58v2.5M1134.5 544.79v-2.5M1135.5 496.61v2.5M1135.5 544.26v-2.5M1136.5 498.83v2.5M1136.5 542.67v-2.5M1137.5 494.42v2.5M1137.5 543.29v-2.5M1138.5 494.99v2.5M1138.5 547.31v-2.5M1139.5 494.84v2.5M1139.5 545.31v-2.5M1140.5 494.82v2.5M1140.5 547.67v-2.5M1141.5 498.71v2.5M1141.5 545.86v-2.5M1142.5 497.17v2.5M1142.5 546.87v-2.5M1143.5 495.11v2.5M1143.5 544.5v-2.5" stroke="#000" stroke-opacity="0.5" fill="none"/>
<path d="M1072.5 483.44V496.37M1080.5 478.46V496.37M1084.5 478.96V496.37M1087.5 479.46V496.37M1092.5 472.49V496.37M1095.5 486.42V496.37M1100.5 482.94V496.37M1118.5 486.42V496.37M1126.5 477.47V496.37M1133.5 472.49V496.37M1134.5 473.99V496.37M1138.5 486.42V496.37M1141.5 477.97V496.37M1070.5 552.78V546.1M1074.5 553.42V546.1M1077.5 555.59V546.1M1080.5 552.86V546.1M1084.5 553.11V546.1M1087.5 553.58V546.1M1090.5 551.18V546.1M1094.5 553.13V546.1M1097.5 553.84V546.1M1101.5 554.81V546.1M1104.5 550.64V546.1M1107.5 551.89V546.1M1111.5 550.62V546.1M1114.5 554.91V546.1M1118.5 554.22V546.1M1121.5 550.33V546.1M1124.5 555.94V546.1M1128.5 555.84V546.1M1131.5 553.98V546.1M1134.5 553.75V546.1M1138.5 551.02V546.1M1141.5 550.17V546.1M1145.5 553.23V546.1M1069.5 492.59V496.37M1074.5 490.59V496.37M1078.5 492.65V496.37M1083.5 490.09V496.37M1087.5 490.58V496.37M1092.5 494.37V496.37M1097.5 493.44V496.37M1101.5 490.3V496.37M1106.5 492.27V496.37M1110.5 489.99V496.37M1115.5 492.6V496.37M1120.5 494.05V496.37M1124.5 491.56V496.37M1129.5 490.89V496.37M1133.5 493.17V496.37M1138.5 493.99V496.37M1142.5 492.89V496.37" stroke="#000" stroke-opacity=".42" stroke-dasharray="1 1" fill="none"/>
<path d="M1071.7 483.94a0.8 0.8 0 1 0 1.6 0a0.8 0.8 0 1 0 -1.6 0M1079.7 478.96a0.8 0.8 0 1 0 1.6 0a0.8 0.8 0 1 0 -1.6 0M1083.7 479.46a0.8 0.8 0 1 0 1.6 0a0.8 0.8 0 1 0 -1.6 0M1086.7 479.96a0.8 0.8 0 1 0 1.6 0a0.8 0.8 0 1 0 -1.6 0M1091.7 472.99a0.8 0.8 0 1 0 1.6 0a0.8 0.8 0 1 0 -1.6 0M1094.7 486.92a0.8 0.8 0 1 0 1.6 0a0.8 0.8 0 1 0 -1.6 0M1099.7 483.44a0.8 0.8 0 1 0 1.6 0a0.8 0.8 0 1 0 -1.6 0M1117.7 486.92a0.8 0.8 0 1 0 1.6 0a0.8 0.8 0 1 0 -1.6 0M1125.7 477.97a0.8 0.8 0 1 0 1.6 0a0.8 0.8 0 1 0 -1.6 0M1132.7 472.99a0.8 0.8 0 1 0 1.6 0a0.8 0.8 0 1 0 -1.6 0M1133.7 474.49a0.8 0.8 0 1 0 1.6 0a0.8 0.8 0 1 0 -1.6 0M1137.7 486.92a0.8 0.8 0 1 0 1.6 0a0.8 0.8 0 1 0 -1.6 0M1140.7 478.47a0.8 0.8 0 1 0 1.6 0a0.8 0.8 0 1 0 -1.6 0M1069.7 552.28a0.8 0.8 0 1 0 1.6 0a0.8 0.8 0 1 0 -1.6 0M1073.7 552.92a0.8 0.8 0 1 0 1.6 0a0.8 0.8 0 1 0 -1.6 0M1076.7 555.09a0.8 0.8 0 1 0 1.6 0a0.8 0.8 0 1 0 -1.6 0M1079.7 552.36a0.8 0.8 0 1 0 1.6 0a0.8 0.8 0 1 0 -1.6 0M1083.7 552.61a0.8 0.8 0 1 0 1.6 0a0.8 0.8 0 1 0 -1.6 0M1086.7 553.08a0.8 0.8 0 1 0 1.6 0a0.8 0.8 0 1 0 -1.6 0M1089.7 550.68a0.8 0.8 0 1 0 1.6 0a0.8 0.8 0 1 0 -1.6 0M1093.7 552.63a0.8 0.8 0 1 0 1.6 0a0.8 0.8 0 1 0 -1.6 0M1096.7 553.34a0.8 0.8 0 1 0 1.6 0a0.8 0.8 0 1 0 -1.6 0M1100.7 554.31a0.8 0.8 0 1 0 1.6 0a0.8 0.8 0 1 0 -1.6 0M1103.7 550.14a0.8 0.8 0 1 0 1.6 0a0.8 0.8 0 1 0 -1.6 0M1106.7 551.39a0.8 0.8 0 1 0 1.6 0a0.8 0.8 0 1 0 -1.6 0M1110.7 550.12a0.8 0.8 0 1 0 1.6 0a0.8 0.8 0 1 0 -1.6 0M1113.7 554.41a0.8 0.8 0 1 0 1.6 0a0.8 0.8 0 1 0 -1.6 0M1117.7 553.72a0.8 0.8 0 1 0 1.6 0a0.8 0.8 0 1 0 -1.6 0M1120.7 549.83a0.8 0.8 0 1 0 1.6 0a0.8 0.8 0 1 0 -1.6 0M1123.7 555.44a0.8 0.8 0 1 0 1.6 0a0.8 0.8 0 1 0 -1.6 0M1127.7 555.34a0.8 0.8 0 1 0 1.6 0a0.8 0.8 0 1 0 -1.6 0M1130.7 553.48a0.8 0.8 0 1 0 1.6 0a0.8 0.8 0 1 0 -1.6 0M1133.7 553.25a0.8 0.8 0 1 0 1.6 0a0.8 0.8 0 1 0 -1.6 0M1137.7 550.52a0.8 0.8 0 1 0 1.6 0a0.8 0.8 0 1 0 -1.6 0M1140.7 549.67a0.8 0.8 0 1 0 1.6 0a0.8 0.8 0 1 0 -1.6 0M1144.7 552.73a0.8 0.8 0 1 0 1.6 0a0.8 0.8 0 1 0 -1.6 0M1068.7 493.09a0.8 0.8 0 1 0 1.6 0a0.8 0.8 0 1 0 -1.6 0M1073.7 491.09a0.8 0.8 0 1 0 1.6 0a0.8 0.8 0 1 0 -1.6 0M1077.7 493.15a0.8 0.8 0 1 0 1.6 0a0.8 0.8 0 1 0 -1.6 0M1082.7 490.59a0.8 0.8 0 1 0 1.6 0a0.8 0.8 0 1 0 -1.6 0M1086.7 491.08a0.8 0.8 0 1 0 1.6 0a0.8 0.8 0 1 0 -1.6 0M1091.7 494.87a0.8 0.8 0 1 0 1.6 0a0.8 0.8 0 1 0 -1.6 0M1096.7 493.94a0.8 0.8 0 1 0 1.6 0a0.8 0.8 0 1 0 -1.6 0M1100.7 490.8a0.8 0.8 0 1 0 1.6 0a0.8 0.8 0 1 0 -1.6 0M1105.7 492.77a0.8 0.8 0 1 0 1.6 0a0.8 0.8 0 1 0 -1.6 0M1109.7 490.49a0.8 0.8 0 1 0 1.6 0a0.8 0.8 0 1 0 -1.6 0M1114.7 493.1a0.8 0.8 0 1 0 1.6 0a0.8 0.8 0 1 0 -1.6 0M1119.7 494.55a0.8 0.8 0 1 0 1.6 0a0.8 0.8 0 1 0 -1.6 0M1123.7 492.06a0.8 0.8 0 1 0 1.6 0a0.8 0.8 0 1 0 -1.6 0M1128.7 491.39a0.8 0.8 0 1 0 1.6 0a0.8 0.8 0 1 0 -1.6 0M1132.7 493.67a0.8 0.8 0 1 0 1.6 0a0.8 0.8 0 1 0 -1.6 0M1137.7 494.49a0.8 0.8 0 1 0 1.6 0a0.8 0.8 0 1 0 -1.6 0M1141.7 493.39a0.8 0.8 0 1 0 1.6 0a0.8 0.8 0 1 0 -1.6 0" fill="#222"/>
<path d="M1145.5 496V544" stroke="#000" stroke-opacity="0.75" stroke-dasharray="1 1" stroke-dashoffset="0.5" fill="none"/>
<path d="M1146.5 499V542" stroke="#000" stroke-opacity="0.95" stroke-dasharray="1 1" stroke-dashoffset="1.5" fill="none"/>
<path d="M1145.5 496.64v2.5M1145.5 544.84v-2.5M1146.5 499.07v2.5M1146.5 542.64v-2.5" stroke="#000" stroke-opacity="0.6" fill="none"/>
<path d="M1146.5 485.92V496.37M1145.5 553.23V546.1M1147.5 490.06V496.37" stroke="#000" stroke-opacity=".42" stroke-dasharray="1 1" fill="none"/>
<path d="M1145.7 486.42a0.8 0.8 0 1 0 1.6 0a0.8 0.8 0 1 0 -1.6 0M1144.7 552.73a0.8 0.8 0 1 0 1.6 0a0.8 0.8 0 1 0 -1.6 0M1146.7 490.56a0.8 0.8 0 1 0 1.6 0a0.8 0.8 0 1 0 -1.6 0" fill="#222"/>
<path d="M1153.5 499V546M1154.5 497V547" stroke="#000" stroke-opacity="0.75" stroke-dasharray="1 1" stroke-dashoffset="1" fill="none"/>
<path d="M1155.5 497V543" stroke="#000" stroke-opacity="0.85" stroke-dasharray="1 1" stroke-dashoffset="1.5" fill="none"/>
<path d="M1153.5 499.3v2.5M1153.5 546.72v-2.5M1154.5 497.91v2.5M1154.5 547.7v-2.5M1155.5 497.3v2.5M1155.5 543.62v-2.5" stroke="#000" stroke-opacity="0.6" fill="none"/>
<path d="M1153.5 554.06V546.1M1155.5 490.9V496.37M1154.5 491.89V496.37" stroke="#000" stroke-opacity=".42" stroke-dasharray="1 1" fill="none"/>
<path d="M1152.7 553.56a0.8 0.8 0 1 0 1.6 0a0.8 0.8 0 1 0 -1.6 0M1154.7 491.4a0.8 0.8 0 1 0 1.6 0a0.8 0.8 0 1 0 -1.6 0M1153.7 492.39a0.8 0.8 0 1 0 1.6 0a0.8 0.8 0 1 0 -1.6 0" fill="#222"/>
<path d="M1161.5 494V546" stroke="#000" stroke-opacity="0.95" stroke-dasharray="1 1" stroke-dashoffset="1" fill="none"/>
<path d="M1162.5 496V543" stroke="#000" stroke-opacity="0.85" stroke-dasharray="1 1" stroke-dashoffset="0.5" fill="none"/>
<path d="M1163.5 496V544" stroke="#000" stroke-opacity="0.75" stroke-dasharray="1 1" stroke-dashoffset="0" fill="none"/>
<path d="M1161.5 494.86v2.5M1161.5 546.74v-2.5M1162.5 496.74v2.5M1162.5 543.9v-2.5M1163.5 496.9v2.5M1163.5 544.02v-2.5" stroke="#000" stroke-opacity="0.6" fill="none"/>
<path d="M1161.5 554.06V546.1M1163.5 490.9V496.37M1162.5 555.55V546.1" stroke="#000" stroke-opacity=".42" stroke-dasharray="1 1" fill="none"/>
<path d="M1160.7 553.56a0.8 0.8 0 1 0 1.6 0a0.8 0.8 0 1 0 -1.6 0M1162.7 491.4a0.8 0.8 0 1 0 1.6 0a0.8 0.8 0 1 0 -1.6 0M1161.7 555.05a0.8 0.8 0 1 0 1.6 0a0.8 0.8 0 1 0 -1.6 0" fill="#222"/>
<path d="M1176.5 499V543" stroke="#000" stroke-opacity="0.75" stroke-dasharray="1 1" stroke-dashoffset="1.5" fill="none"/>
<path d="M1177.5 494V543" stroke="#000" stroke-opacity="0.95" stroke-dasharray="1 1" stroke-dashoffset="1" fill="none"/>
<path d="M1178.5 498V543" stroke="#000" stroke-opacity="0.85" stroke-dasharray="1 1" stroke-dashoffset="0" fill="none"/>
<path d="M1179.5 495V546" stroke="#000" stroke-opacity="0.95" stroke-dasharray="1 1" stroke-dashoffset="1.5" fill="none"/>
<path d="M1176.5 499.62v2.5M1176.5 543.44v-2.5M1177.5 494.97v2.5M1177.5 543.32v-2.5M1178.5 498.62v2.5M1178.5 543.08v-2.5M1179.5 495.78v2.5M1179.5 546.21v-2.5" stroke="#000" stroke-opacity="0.6" fill="none"/>
<path d="M1177.5 554.06V546.1M1179.5 490.9V496.37M1178.5 491.89V496.37M1178.5 475.98V496.37" stroke="#000" stroke-opacity=".42" stroke-dasharray="1 1" fill="none"/>
<path d="M1176.7 553.56a0.8 0.8 0 1 0 1.6 0a0.8 0.8 0 1 0 -1.6 0M1178.7 491.4a0.8 0.8 0 1 0 1.6 0a0.8 0.8 0 1 0 -1.6 0M1177.7 492.39a0.8 0.8 0 1 0 1.6 0a0.8 0.8 0 1 0 -1.6 0M1177.7 476.48a0.8 0.8 0 1 0 1.6 0a0.8 0.8 0 1 0 -1.6 0" fill="#222"/>
<path d="M1184.5 499V548M1187.5 495V545" stroke="#000" stroke-opacity="0.75" stroke-dasharray="1 1" stroke-dashoffset="0" fill="none"/>
<path d="M1185.5 497V545" stroke="#000" stroke-opacity="0.95" stroke-dasharray="1 1" stroke-dashoffset="1" fill="none"/>
<path d="M1186.5 494V543" stroke="#000" stroke-opacity="0.85" stroke-dasharray="1 1" stroke-dashoffset="0" fill="none"/>
<path d="M1184.5 499.42v2.5M1184.5 548.29v-2.5M1185.5 497.42v2.5M1185.5 545.14v-2.5M1186.5 494.65v2.5M1186.5 543.75v-2.5M1187.5 495.19v2.5M1187.5 545.33v-2.5" stroke="#000" stroke-opacity="0.6" fill="none"/>
<path d="M1185.5 554.06V546.1M1187.5 490.9V496.37M1186.5 555.55V546.1M1186.5 475.48V496.37" stroke="#000" stroke-opacity=".42" stroke-dasharray="1 1" fill="none"/>
<path d="M1184.7 553.56a0.8 0.8 0 1 0 1.6 0a0.8 0.8 0 1 0 -1.6 0M1186.7 491.4a0.8 0.8 0 1 0 1.6 0a0.8 0.8 0 1 0 -1.6 0M1185.7 555.05a0.8 0.8 0 1 0 1.6 0a0.8 0.8 0 1 0 -1.6 0M1185.7 475.98a0.8 0.8 0 1 0 1.6 0a0.8 0.8 0 1 0 -1.6 0" fill="#222"/>
<path d="M1192.5 498V547" stroke="#000" stroke-opacity="0.75" stroke-dasharray="1 1" stroke-dashoffset="0.5" fill="none"/>
<path d="M1193.5 499V543" stroke="#000" stroke-opacity="0.95" stroke-dasharray="1 1" stroke-dashoffset="0" fill="none"/>
<path d="M1194.5 498V548" stroke="#000" stroke-opacity="0.95" stroke-dasharray="1 1" stroke-dashoffset="1" fill="none"/>
<path d="M1192.5 498.14v2.5M1192.5 547.64v-2.5M1193.5 499.86v2.5M1193.5 543.76v-2.5M1194.5 498.1v2.5M1194.5 548.59v-2.5" stroke="#000" stroke-opacity="0.6" fill="none"/>
<path d="M1192.5 554.06V546.1M1194.5 490.9V496.37M1193.5 491.89V496.37M1194.5 482.44V496.37" stroke="#000" stroke-opacity=".42" stroke-dasharray="1 1" fill="none"/>
<path d="M1191.7 553.56a0.8 0.8 0 1 0 1.6 0a0.8 0.8 0 1 0 -1.6 0M1193.7 491.4a0.8 0.8 0 1 0 1.6 0a0.8 0.8 0 1 0 -1.6 0M1192.7 492.39a0.8 0.8 0 1 0 1.6 0a0.8 0.8 0 1 0 -1.6 0M1193.7 482.94a0.8 0.8 0 1 0 1.6 0a0.8 0.8 0 1 0 -1.6 0" fill="#222"/>
<path d="M1199.5 496V548M1202.5 497V543" stroke="#000" stroke-opacity="0.75" stroke-dasharray="1 1" stroke-dashoffset="0.5" fill="none"/>
<path d="M1200.5 499V544" stroke="#000" stroke-opacity="0.85" stroke-dasharray="1 1" stroke-dashoffset="0" fill="none"/>
<path d="M1201.5 499V547" stroke="#000" stroke-opacity="0.75" stroke-dasharray="1 1" stroke-dashoffset="1" fill="none"/>
<path d="M1199.5 496.13v2.5M1199.5 548.16v-2.5M1200.5 499.45v2.5M1200.5 544.43v-2.5M1201.5 499.01v2.5M1201.5 547.14v-2.5M1202.5 497.26v2.5M1202.5 543.18v-2.5" stroke="#000" stroke-opacity="0.6" fill="none"/>
<path d="M1200.5 554.06V546.1M1202.5 490.9V496.37M1201.5 555.55V546.1" stroke="#000" stroke-opacity=".42" stroke-dasharray="1 1" fill="none"/>
<path d="M1199.7 553.56a0.8 0.8 0 1 0 1.6 0a0.8 0.8 0 1 0 -1.6 0M1201.7 491.4a0.8 0.8 0 1 0 1.6 0a0.8 0.8 0 1 0 -1.6 0M1200.7 555.05a0.8 0.8 0 1 0 1.6 0a0.8 0.8 0 1 0 -1.6 0" fill="#222"/>
<path d="M1207.5 498V543M1209.5 498V546" stroke="#000" stroke-opacity="0.75" stroke-dasharray="1 1" stroke-dashoffset="1.5" fill="none"/>
<path d="M1208.5 497V542" stroke="#000" stroke-opacity="0.85" stroke-dasharray="1 1" stroke-dashoffset="0" fill="none"/>
<path d="M1210.5 499V548" stroke="#000" stroke-opacity="0.85" stroke-dasharray="1 1" stroke-dashoffset="0.5" fill="none"/>
<path d="M1207.5 498.35v2.5M1207.5 543.82v-2.5M1208.5 497.47v2.5M1208.5 542.94v-2.5M1209.5 498.25v2.5M1209.5 546.34v-2.5M1210.5 499.59v2.5M1210.5 548.52v-2.5" stroke="#000" stroke-opacity="0.6" fill="none"/>
<path d="M1208.5 554.06V546.1M1210.5 490.9V496.37M1209.5 491.89V496.37" stroke="#000" stroke-opacity=".42" stroke-dasharray="1 1" fill="none"/>
<path d="M1207.7 553.56a0.8 0.8 0 1 0 1.6 0a0.8 0.8 0 1 0 -1.6 0M1209.7 491.4a0.8 0.8 0 1 0 1.6 0a0.8 0.8 0 1 0 -1.6 0M1208.7 492.39a0.8 0.8 0 1 0 1.6 0a0.8 0.8 0 1 0 -1.6 0" fill="#222"/>
<path d="M1215.5 497V546M1217.5 495V547" stroke="#000" stroke-opacity="0.85" stroke-dasharray="1 1" stroke-dashoffset="0.5" fill="none"/>
<path d="M1216.5 494V544" stroke="#000" stroke-opacity="0.95" stroke-dasharray="1 1" stroke-dashoffset="1" fill="none"/>
<path d="M1218.5 495V544" stroke="#000" stroke-opacity="0.75" stroke-dasharray="1 1" stroke-dashoffset="0" fill="none"/>
<path d="M1215.5 497.76v2.5M1215.5 546.81v-2.5M1216.5 494.31v2.5M1216.5 544.13v-2.5M1217.5 495.38v2.5M1217.5 547.6v-2.5M1218.5 495.35v2.5M1218.5 544.04v-2.5" stroke="#000" stroke-opacity="0.6" fill="none"/>
<path d="M1216.5 554.06V546.1M1218.5 490.9V496.37M1217.5 555.55V546.1" stroke="#000" stroke-opacity=".42" stroke-dasharray="1 1" fill="none"/>
<path d="M1215.7 553.56a0.8 0.8 0 1 0 1.6 0a0.8 0.8 0 1 0 -1.6 0M1217.7 491.4a0.8 0.8 0 1 0 1.6 0a0.8 0.8 0 1 0 -1.6 0M1216.7 555.05a0.8 0.8 0 1 0 1.6 0a0.8 0.8 0 1 0 -1.6 0" fill="#222"/>
</g>
<g clip-path="url(#r3)"><rect x="1306" y="472" width="164" height="84" fill="url(#st)"/>
<path d="M1314.91 509.59L1328.68 554.33" stroke="#30f060" stroke-width="1.4" stroke-opacity=".6"/>
<path d="M1373.42 492.39L1380.3 555.48" stroke="#30f060" stroke-width="1.4" stroke-opacity=".6"/>
<ellipse cx="1310.9" cy="514.16" rx="6.88" ry="1.95" fill="#ffb400" fill-opacity="1" transform="rotate(21.8 1310.9 514.16)"/>
<ellipse cx="1310.9" cy="514.16" rx="5.16" ry="1.17" fill="#ff6a00" fill-opacity="1" transform="rotate(21.8 1310.9 514.16)"/>
<ellipse cx="1310.9" cy="514.16" rx="2.75" ry="0.59" fill="#ff3000" fill-opacity="1" transform="rotate(21.8 1310.9 514.16)"/>
<ellipse cx="1336.14" cy="513.95" rx="10.32" ry="2.06" fill="#ffb400" fill-opacity="1" transform="rotate(21.8 1336.14 513.95)"/>
<ellipse cx="1336.14" cy="513.95" rx="7.74" ry="1.24" fill="#ff6a00" fill-opacity="1" transform="rotate(21.8 1336.14 513.95)"/>
<ellipse cx="1336.14" cy="513.95" rx="4.13" ry="0.62" fill="#ff3000" fill-opacity="1" transform="rotate(21.8 1336.14 513.95)"/>
<ellipse cx="1317.21" cy="547.58" rx="6.31" ry="1.15" fill="#ffb400" fill-opacity="1" transform="rotate(21.8 1317.21 547.58)"/>
<ellipse cx="1317.21" cy="547.58" rx="4.73" ry="0.69" fill="#ff6a00" fill-opacity="1" transform="rotate(21.8 1317.21 547.58)"/>
<ellipse cx="1317.21" cy="547.58" rx="2.52" ry="0.34" fill="#ff3000" fill-opacity="1" transform="rotate(21.8 1317.21 547.58)"/>
<ellipse cx="1341.3" cy="546.92" rx="4.59" ry="0.92" fill="#ffb400" fill-opacity="1" transform="rotate(21.8 1341.3 546.92)"/>
<ellipse cx="1341.3" cy="546.92" rx="3.44" ry="0.55" fill="#ff6a00" fill-opacity="1" transform="rotate(21.8 1341.3 546.92)"/>
<ellipse cx="1341.3" cy="546.92" rx="1.84" ry="0.28" fill="#ff3000" fill-opacity="1" transform="rotate(21.8 1341.3 546.92)"/>
<ellipse cx="1362.52" cy="514.21" rx="6.31" ry="1.95" fill="#ffb400" fill-opacity="1" transform="rotate(21.8 1362.52 514.21)"/>
<ellipse cx="1362.52" cy="514.21" rx="4.73" ry="1.17" fill="#ff6a00" fill-opacity="1" transform="rotate(21.8 1362.52 514.21)"/>
<ellipse cx="1362.52" cy="514.21" rx="2.52" ry="0.59" fill="#ff3000" fill-opacity="1" transform="rotate(21.8 1362.52 514.21)"/>
<ellipse cx="1382.6" cy="522.24" rx="5.74" ry="1.26" fill="#ffb400" fill-opacity="1" transform="rotate(21.8 1382.6 522.24)"/>
<ellipse cx="1382.6" cy="522.24" rx="4.3" ry="0.76" fill="#ff6a00" fill-opacity="1" transform="rotate(21.8 1382.6 522.24)"/>
<ellipse cx="1382.6" cy="522.24" rx="2.29" ry="0.38" fill="#ff3000" fill-opacity="1" transform="rotate(21.8 1382.6 522.24)"/>
<ellipse cx="1406.69" cy="521.58" rx="9.75" ry="1.61" fill="#ffb400" fill-opacity="1" transform="rotate(21.8 1406.69 521.58)"/>
<ellipse cx="1406.69" cy="521.58" rx="7.31" ry="0.96" fill="#ff6a00" fill-opacity="1" transform="rotate(21.8 1406.69 521.58)"/>
<ellipse cx="1406.69" cy="521.58" rx="3.9" ry="0.48" fill="#ff3000" fill-opacity="1" transform="rotate(21.8 1406.69 521.58)"/>
<ellipse cx="1387.19" cy="544.67" rx="6.88" ry="1.15" fill="#ffb400" fill-opacity="1" transform="rotate(21.8 1387.19 544.67)"/>
<ellipse cx="1387.19" cy="544.67" rx="5.16" ry="0.69" fill="#ff6a00" fill-opacity="1" transform="rotate(21.8 1387.19 544.67)"/>
<ellipse cx="1387.19" cy="544.67" rx="2.75" ry="0.34" fill="#ff3000" fill-opacity="1" transform="rotate(21.8 1387.19 544.67)"/>
<ellipse cx="1410.7" cy="543.78" rx="5.16" ry="0.92" fill="#ffb400" fill-opacity="1" transform="rotate(21.8 1410.7 543.78)"/>
<ellipse cx="1410.7" cy="543.78" rx="3.87" ry="0.55" fill="#ff6a00" fill-opacity="1" transform="rotate(21.8 1410.7 543.78)"/>
<ellipse cx="1410.7" cy="543.78" rx="2.06" ry="0.28" fill="#ff3000" fill-opacity="1" transform="rotate(21.8 1410.7 543.78)"/>
<ellipse cx="1465.19" cy="514.08" rx="4.59" ry="1.95" fill="#ffb400" fill-opacity="1" transform="rotate(21.8 1465.19 514.08)"/>
<ellipse cx="1465.19" cy="514.08" rx="3.44" ry="1.17" fill="#ff6a00" fill-opacity="1" transform="rotate(21.8 1465.19 514.08)"/>
<ellipse cx="1465.19" cy="514.08" rx="1.84" ry="0.59" fill="#ff3000" fill-opacity="1" transform="rotate(21.8 1465.19 514.08)"/>
<ellipse cx="1466.92" cy="545.67" rx="2.29" ry="1.03" fill="#ffb400" fill-opacity="1" transform="rotate(21.8 1466.92 545.67)"/>
<ellipse cx="1466.92" cy="545.67" rx="1.72" ry="0.62" fill="#ff6a00" fill-opacity="1" transform="rotate(21.8 1466.92 545.67)"/>
<ellipse cx="1466.92" cy="545.67" rx="0.92" ry="0.31" fill="#ff3000" fill-opacity="1" transform="rotate(21.8 1466.92 545.67)"/>
<ellipse cx="1309.75" cy="508.55" rx="5.74" ry="1.49" fill="#0000c8" fill-opacity="1" transform="rotate(21.8 1309.75 508.55)"/>
<ellipse cx="1329.25" cy="506.05" rx="10.32" ry="1.72" fill="#0000c8" fill-opacity="1" transform="rotate(21.8 1329.25 506.05)"/>
<ellipse cx="1317.21" cy="521.83" rx="10.9" ry="1.84" fill="#0000c8" fill-opacity="1" transform="rotate(21.8 1317.21 521.83)"/>
<ellipse cx="1342.45" cy="521.63" rx="10.32" ry="1.84" fill="#0000c8" fill-opacity="1" transform="rotate(21.8 1342.45 521.63)"/>
<ellipse cx="1320.08" cy="543.58" rx="6.31" ry="1.15" fill="#0000c8" fill-opacity="1" transform="rotate(21.8 1320.08 543.58)"/>
<ellipse cx="1344.74" cy="543.15" rx="6.88" ry="1.15" fill="#0000c8" fill-opacity="1" transform="rotate(21.8 1344.74 543.15)"/>
<ellipse cx="1313.77" cy="551.36" rx="5.74" ry="1.15" fill="#0000c8" fill-opacity="1" transform="rotate(21.8 1313.77 551.36)"/>
<ellipse cx="1338.43" cy="550.92" rx="6.31" ry="1.15" fill="#0000c8" fill-opacity="1" transform="rotate(21.8 1338.43 550.92)"/>
<ellipse cx="1361.37" cy="508.6" rx="4.02" ry="1.38" fill="#0000c8" fill-opacity="1" transform="rotate(21.8 1361.37 508.6)"/>
<ellipse cx="1367.68" cy="521.42" rx="10.32" ry="1.84" fill="#0000c8" fill-opacity="1" transform="rotate(21.8 1367.68 521.42)"/>
<ellipse cx="1380.3" cy="516.17" rx="4.59" ry="1.03" fill="#0000c8" fill-opacity="1" transform="rotate(21.8 1380.3 516.17)"/>
<ellipse cx="1398.66" cy="513.21" rx="10.32" ry="1.38" fill="#0000c8" fill-opacity="1" transform="rotate(21.8 1398.66 513.21)"/>
<ellipse cx="1390.63" cy="530.6" rx="12.05" ry="1.38" fill="#0000c8" fill-opacity="1" transform="rotate(21.8 1390.63 530.6)"/>
<ellipse cx="1412.42" cy="529.02" rx="8.6" ry="1.49" fill="#0000c8" fill-opacity="1" transform="rotate(21.8 1412.42 529.02)"/>
<ellipse cx="1367.68" cy="542.02" rx="6.31" ry="1.26" fill="#0000c8" fill-opacity="1" transform="rotate(21.8 1367.68 542.02)"/>
<ellipse cx="1414.72" cy="540.24" rx="6.31" ry="1.15" fill="#0000c8" fill-opacity="1" transform="rotate(21.8 1414.72 540.24)"/>
<ellipse cx="1364.24" cy="550.95" rx="5.74" ry="1.15" fill="#0000c8" fill-opacity="1" transform="rotate(21.8 1364.24 550.95)"/>
<ellipse cx="1386.04" cy="549.37" rx="5.16" ry="0.92" fill="#0000c8" fill-opacity="1" transform="rotate(21.8 1386.04 549.37)"/>
<ellipse cx="1408.98" cy="548.24" rx="6.31" ry="1.03" fill="#0000c8" fill-opacity="1" transform="rotate(21.8 1408.98 548.24)"/>
<ellipse cx="1465.19" cy="508.93" rx="4.59" ry="1.38" fill="#0000c8" fill-opacity="1" transform="rotate(21.8 1465.19 508.93)"/>
<ellipse cx="1465.19" cy="519.23" rx="4.59" ry="1.38" fill="#0000c8" fill-opacity="1" transform="rotate(21.8 1465.19 519.23)"/>
<ellipse cx="1465.77" cy="550.36" rx="3.44" ry="1.03" fill="#0000c8" fill-opacity="1" transform="rotate(21.8 1465.77 550.36)"/>
</g>
<g clip-path="url(#cp40)">
<path d="M103 612.5H257" stroke="#7fe07f"/>
</g>
<g clip-path="url(#c40b)"><rect x="96.5" y="611.5" width="159" height="51" rx="3" fill="#fff" fill-opacity=".7" stroke="#000"/></g>
<path d="M101 619.5l11.7 4.1" stroke="#b4242a" stroke-width=".9" stroke-dasharray="1.3 1" stroke-opacity=".7" fill="none"/><circle cx="106.8" cy="621.6" r=".7" fill="#b4242a"/>
<text x="117 125 129 137 141" y="626">0.0 s</text>
<path d="M101 634.5l11.7 4.1" stroke="#b0b026" stroke-width=".9" stroke-dasharray="1.3 1" stroke-opacity=".7" fill="none"/><circle cx="106.8" cy="636.6" r=".7" fill="#b0b026"/>
<text x="117 125 133 141 145 153 161 165 176 179 186 191 199 206 214 221 229 237 245" y="641">195.31 microseconds</text>
<path d="M101 649.5l11.7 4.1" stroke="#26b026" stroke-width=".9" stroke-dasharray="1.3 1" stroke-opacity=".7" fill="none"/><circle cx="106.8" cy="651.6" r=".7" fill="#26b026"/>
<text x="117 125 129 137 145 153 161 169 173 184 191 199" y="656">0.39063 msec</text>
<path d="M347.66 692.5L351.33 692.5L355.01 692.5L358.69 692.5L362.37 692.5L366.04 692.5L369.72 692.5L373.4 692.5L377.07 692.5L380.75 692.5L384.43 692.5L388.11 692.5L391.79 692.49L395.46 692.35L399.14 691.08L402.82 684.35L406.5 664.06L410.17 632.3L413.85 615.2L417.53 632.3L421.2 664.06L424.88 684.35L428.56 691.08L432.24 692.35L435.91 692.49L439.59 692.5L443.27 692.5L446.95 692.5L450.62 692.5L454.3 692.5L457.98 692.5L461.66 692.5L465.33 692.5L469.01 692.5L472.69 692.5L476.37 692.5L480.04 692.5L483.72 692.5L487.4 692.5L491.08 692.5L494.75 692.5" stroke="#000" stroke-width="1" fill="none"/>
<path d="M347.5 689.5v6M351.5 689.5v6M355.5 689.5v6M358.5 689.5v6M362.5 689.5v6M366.5 689.5v6M369.5 689.5v6M373.5 689.5v6M377.5 689.5v6M380.5 689.5v6M384.5 689.5v6M388.5 689.5v6M391.5 689.49v6M395.5 689.35v6M399.5 688.08v6M402.5 681.35v6M406.5 661.06v6M410.5 629.3v6M413.5 612.2v6M417.5 629.3v6M421.5 661.06v6M424.5 681.35v6M428.5 688.08v6M432.5 689.35v6M435.5 689.49v6M439.5 689.5v6M443.5 689.5v6M446.5 689.5v6M450.5 689.5v6M454.5 689.5v6M457.5 689.5v6M461.5 689.5v6M465.5 689.5v6M469.5 689.5v6M472.5 689.5v6M476.5 689.5v6M480.5 689.5v6M483.5 689.5v6M487.5 689.5v6M491.5 689.5v6M494.5 689.5v6" stroke="#000"/>
<path d="M346.16 692.5a1.5 1.5 0 1 0 3.0 0a1.5 1.5 0 1 0 -3.0 0M349.83 692.5a1.5 1.5 0 1 0 3.0 0a1.5 1.5 0 1 0 -3.0 0M353.51 692.5a1.5 1.5 0 1 0 3.0 0a1.5 1.5 0 1 0 -3.0 0M357.19 692.5a1.5 1.5 0 1 0 3.0 0a1.5 1.5 0 1 0 -3.0 0M360.87 692.5a1.5 1.5 0 1 0 3.0 0a1.5 1.5 0 1 0 -3.0 0M364.54 692.5a1.5 1.5 0 1 0 3.0 0a1.5 1.5 0 1 0 -3.0 0M368.22 692.5a1.5 1.5 0 1 0 3.0 0a1.5 1.5 0 1 0 -3.0 0M371.9 692.5a1.5 1.5 0 1 0 3.0 0a1.5 1.5 0 1 0 -3.0 0M375.57 692.5a1.5 1.5 0 1 0 3.0 0a1.5 1.5 0 1 0 -3.0 0M379.25 692.5a1.5 1.5 0 1 0 3.0 0a1.5 1.5 0 1 0 -3.0 0M382.93 692.5a1.5 1.5 0 1 0 3.0 0a1.5 1.5 0 1 0 -3.0 0M386.61 692.5a1.5 1.5 0 1 0 3.0 0a1.5 1.5 0 1 0 -3.0 0M390.29 692.49a1.5 1.5 0 1 0 3.0 0a1.5 1.5 0 1 0 -3.0 0M393.96 692.35a1.5 1.5 0 1 0 3.0 0a1.5 1.5 0 1 0 -3.0 0M397.64 691.08a1.5 1.5 0 1 0 3.0 0a1.5 1.5 0 1 0 -3.0 0M401.32 684.35a1.5 1.5 0 1 0 3.0 0a1.5 1.5 0 1 0 -3.0 0M405 664.06a1.5 1.5 0 1 0 3.0 0a1.5 1.5 0 1 0 -3.0 0M408.67 632.3a1.5 1.5 0 1 0 3.0 0a1.5 1.5 0 1 0 -3.0 0M412.35 615.2a1.5 1.5 0 1 0 3.0 0a1.5 1.5 0 1 0 -3.0 0M416.03 632.3a1.5 1.5 0 1 0 3.0 0a1.5 1.5 0 1 0 -3.0 0M419.7 664.06a1.5 1.5 0 1 0 3.0 0a1.5 1.5 0 1 0 -3.0 0M423.38 684.35a1.5 1.5 0 1 0 3.0 0a1.5 1.5 0 1 0 -3.0 0M427.06 691.08a1.5 1.5 0 1 0 3.0 0a1.5 1.5 0 1 0 -3.0 0M430.74 692.35a1.5 1.5 0 1 0 3.0 0a1.5 1.5 0 1 0 -3.0 0M434.41 692.49a1.5 1.5 0 1 0 3.0 0a1.5 1.5 0 1 0 -3.0 0M438.09 692.5a1.5 1.5 0 1 0 3.0 0a1.5 1.5 0 1 0 -3.0 0M441.77 692.5a1.5 1.5 0 1 0 3.0 0a1.5 1.5 0 1 0 -3.0 0M445.45 692.5a1.5 1.5 0 1 0 3.0 0a1.5 1.5 0 1 0 -3.0 0M449.12 692.5a1.5 1.5 0 1 0 3.0 0a1.5 1.5 0 1 0 -3.0 0M452.8 692.5a1.5 1.5 0 1 0 3.0 0a1.5 1.5 0 1 0 -3.0 0M456.48 692.5a1.5 1.5 0 1 0 3.0 0a1.5 1.5 0 1 0 -3.0 0M460.16 692.5a1.5 1.5 0 1 0 3.0 0a1.5 1.5 0 1 0 -3.0 0M463.83 692.5a1.5 1.5 0 1 0 3.0 0a1.5 1.5 0 1 0 -3.0 0M467.51 692.5a1.5 1.5 0 1 0 3.0 0a1.5 1.5 0 1 0 -3.0 0M471.19 692.5a1.5 1.5 0 1 0 3.0 0a1.5 1.5 0 1 0 -3.0 0M474.87 692.5a1.5 1.5 0 1 0 3.0 0a1.5 1.5 0 1 0 -3.0 0M478.54 692.5a1.5 1.5 0 1 0 3.0 0a1.5 1.5 0 1 0 -3.0 0M482.22 692.5a1.5 1.5 0 1 0 3.0 0a1.5 1.5 0 1 0 -3.0 0M485.9 692.5a1.5 1.5 0 1 0 3.0 0a1.5 1.5 0 1 0 -3.0 0M489.58 692.5a1.5 1.5 0 1 0 3.0 0a1.5 1.5 0 1 0 -3.0 0M493.25 692.5a1.5 1.5 0 1 0 3.0 0a1.5 1.5 0 1 0 -3.0 0" fill="#000"/>
<path d="M585.85 640.32L593.81 677.55L601.58 611.85L609.54 640.72L617.51 636.34L625.47 695.67L633.23 659.63L641.2 655.45L649.16 665.01L656.92 669.39L664.89 654.06L672.85 643.71L680.81 674.37" stroke="#000" stroke-width="1" fill="none"/>
<path d="M696.54 669.19L704.31 627.98L712.47 652.07L720.23 657.64L728.2 638.33L736.16 639.33" stroke="#000" stroke-width="1" fill="none"/>
<path d="M584.25 640.32a1.6 1.6 0 1 0 3.2 0a1.6 1.6 0 1 0 -3.2 0M592.21 677.55a1.6 1.6 0 1 0 3.2 0a1.6 1.6 0 1 0 -3.2 0M599.98 611.85a1.6 1.6 0 1 0 3.2 0a1.6 1.6 0 1 0 -3.2 0M607.94 640.72a1.6 1.6 0 1 0 3.2 0a1.6 1.6 0 1 0 -3.2 0M615.91 636.34a1.6 1.6 0 1 0 3.2 0a1.6 1.6 0 1 0 -3.2 0M623.87 695.67a1.6 1.6 0 1 0 3.2 0a1.6 1.6 0 1 0 -3.2 0M631.63 659.63a1.6 1.6 0 1 0 3.2 0a1.6 1.6 0 1 0 -3.2 0M639.6 655.45a1.6 1.6 0 1 0 3.2 0a1.6 1.6 0 1 0 -3.2 0M647.56 665.01a1.6 1.6 0 1 0 3.2 0a1.6 1.6 0 1 0 -3.2 0M655.32 669.39a1.6 1.6 0 1 0 3.2 0a1.6 1.6 0 1 0 -3.2 0M663.29 654.06a1.6 1.6 0 1 0 3.2 0a1.6 1.6 0 1 0 -3.2 0M671.25 643.71a1.6 1.6 0 1 0 3.2 0a1.6 1.6 0 1 0 -3.2 0M679.21 674.37a1.6 1.6 0 1 0 3.2 0a1.6 1.6 0 1 0 -3.2 0M694.94 669.19a1.6 1.6 0 1 0 3.2 0a1.6 1.6 0 1 0 -3.2 0M702.71 627.98a1.6 1.6 0 1 0 3.2 0a1.6 1.6 0 1 0 -3.2 0M710.87 652.07a1.6 1.6 0 1 0 3.2 0a1.6 1.6 0 1 0 -3.2 0M718.63 657.64a1.6 1.6 0 1 0 3.2 0a1.6 1.6 0 1 0 -3.2 0M726.6 638.33a1.6 1.6 0 1 0 3.2 0a1.6 1.6 0 1 0 -3.2 0M734.56 639.33a1.6 1.6 0 1 0 3.2 0a1.6 1.6 0 1 0 -3.2 0" fill="#000"/>
<g clip-path="url(#ss)"><rect x="831" y="614" width="147" height="80" fill="#00ffd7"/>
<ellipse cx="906.5" cy="652.7" rx="42" ry="31.5" fill="url(#rg6)"/>
<ellipse cx="846.6" cy="684.9" rx="21" ry="15.54" fill="url(#rg7)"/>
</g>
<g transform="translate(1017.3 676) rotate(-90)">
<text x="0 8 16 24 29 37" y="0">Energy</text>
</g>
<rect x="1067" y="616" width="158" height="80" fill="#00ffd7"/>
<rect x="1082.6" y="616" width="1.6" height="80" fill="#20ff90" fill-opacity=".55"/>
<rect x="1082.9" y="648" width="1.3" height="13" fill="#0020ff"/><rect x="1082.9" y="661" width="1.3" height="9" fill="#00c0ff"/><rect x="1082.9" y="670" width="1.3" height="12" fill="#0020ff"/>
<rect x="1144.5" y="616" width="3" height="80" fill="#00ffff" fill-opacity=".35"/>
<g clip-path="url(#cp45)">
<path d="M1310.4 612.4L1311.05 612.61L1311.69 613.23L1312.34 614.26L1312.98 615.69L1313.63 617.5L1314.28 619.68L1314.92 622.21L1315.57 625.05L1316.21 628.18L1316.86 631.57L1317.51 635.19L1318.15 638.99L1318.8 642.95L1319.44 647.01L1320.09 651.15L1320.74 655.32L1321.38 659.47L1322.03 663.57L1322.67 667.58L1323.32 671.45L1323.97 675.15L1324.61 678.64L1325.26 681.88L1325.9 684.85L1326.55 687.51L1327.2 689.83L1327.84 691.8L1328.49 693.39L1329.13 694.59L1329.78 695.38L1330.43 695.76L1331.07 695.73L1331.72 695.28L1332.36 694.42L1333.01 693.15L1333.66 691.49L1334.3 689.47L1334.95 687.08L1335.59 684.37L1336.24 681.36L1336.89 678.07L1337.53 674.54L1338.18 670.81L1338.82 666.92L1339.47 662.89L1340.12 658.78L1340.76 654.62L1341.41 650.45L1342.05 646.32L1342.7 642.27L1343.35 638.34L1343.99 634.56L1344.64 630.98L1345.28 627.63L1345.93 624.55L1346.58 621.76L1347.22 619.29L1347.87 617.17L1348.51 615.42L1349.16 614.06L1349.81 613.1L1350.45 612.54L1351.1 612.41L1351.74 612.68L1352.39 613.38L1353.04 614.48L1353.68 615.97L1354.33 617.85L1354.97 620.08L1355.62 622.66L1356.27 625.55L1356.91 628.73L1357.56 632.16L1358.2 635.81L1358.85 639.65L1359.5 643.62L1360.14 647.7L1360.79 651.85L1361.43 656.02L1362.08 660.17L1362.73 664.26L1363.37 668.24L1364.02 672.09L1364.66 675.75L1365.31 679.2L1365.96 682.4L1366.6 685.32L1367.25 687.92L1367.89 690.19L1368.54 692.09L1369.19 693.62L1369.83 694.75L1370.48 695.48L1371.12 695.79L1371.77 695.68L1372.42 695.16L1373.06 694.23L1373.71 692.9L1374.35 691.18L1375 689.09L1375.65 686.65L1376.29 683.88L1376.94 680.82L1377.58 677.49L1378.23 673.93L1378.88 670.17L1379.52 666.25L1380.17 662.2L1380.81 658.08L1381.46 653.92L1382.11 649.75L1382.75 645.63L1383.4 641.6L1384.04 637.69L1384.69 633.95L1385.34 630.4L1385.98 627.1L1386.63 624.06L1387.27 621.32L1387.92 618.91L1388.57 616.85L1389.21 615.17L1389.86 613.87L1390.5 612.98L1391.15 612.49L1391.8 612.42L1392.44 612.77L1393.09 613.53L1393.73 614.7L1394.38 616.26L1395.03 618.2L1395.67 620.49L1396.32 623.13L1396.96 626.07L1397.61 629.29L1398.26 632.76L1398.9 636.45L1399.55 640.31L1400.19 644.3L1400.84 648.4L1401.49 652.55L1402.13 656.72L1402.78 660.86L1403.42 664.93L1404.07 668.9L1404.72 672.72L1405.36 676.35L1406.01 679.76L1406.65 682.91L1407.3 685.78L1407.95 688.33L1408.59 690.53L1409.24 692.38L1409.88 693.84L1410.53 694.9L1411.18 695.56L1411.82 695.8L1412.47 695.62L1413.11 695.03L1413.76 694.03L1414.41 692.64L1415.05 690.85L1415.7 688.7L1416.34 686.21L1416.99 683.39L1417.64 680.28L1418.28 676.91L1418.93 673.31L1419.57 669.52L1420.22 665.57L1420.87 661.51L1421.51 657.38L1422.16 653.21L1422.8 649.06L1423.45 644.95L1424.1 640.93L1424.74 637.05L1425.39 633.34L1426.03 629.83L1426.68 626.56L1427.33 623.58L1427.97 620.89L1428.62 618.54L1429.26 616.54L1429.91 614.92L1430.56 613.69L1431.2 612.87L1431.85 612.45L1432.49 612.45L1433.14 612.87L1433.79 613.7L1434.43 614.93L1435.08 616.56L1435.72 618.56L1436.37 620.91L1437.02 623.6L1437.66 626.59L1438.31 629.86L1438.95 633.37L1439.6 637.08L1440.25 640.97L1440.89 644.99L1441.54 649.09L1442.18 653.25L1442.83 657.42L1443.48 661.55L1444.12 665.61L1444.77 669.55L1445.41 673.34L1446.06 676.94L1446.71 680.31L1447.35 683.42L1448 686.23L1448.64 688.72L1449.29 690.87L1449.94 692.65L1450.58 694.05L1451.23 695.04L1451.87 695.63L1452.52 695.8L1453.17 695.55L1453.81 694.89L1454.46 693.83L1455.1 692.36L1455.75 690.52L1456.4 688.31L1457.04 685.75L1457.69 682.89L1458.33 679.73L1458.98 676.32L1459.63 672.69L1460.27 668.87L1460.92 664.9L1461.56 660.82L1462.21 656.68L1462.86 652.51L1463.5 648.36L1464.15 644.27L1464.79 640.27L1465.44 636.41" stroke="#b4242a" stroke-width="1.2" fill="none"/>
<path d="M1310.4 654.1L1311.05 649.94L1311.69 645.82L1312.34 641.78L1312.98 637.86L1313.63 634.11L1314.28 630.55L1314.92 627.24L1315.57 624.19L1316.21 621.44L1316.86 619.01L1317.51 616.94L1318.15 615.23L1318.8 613.92L1319.44 613.01L1320.09 612.5L1320.74 612.42L1321.38 612.75L1322.03 613.49L1322.67 614.64L1323.32 616.18L1323.97 618.1L1324.61 620.39L1325.26 623L1325.9 625.93L1326.55 629.14L1327.2 632.6L1327.84 636.28L1328.49 640.13L1329.13 644.12L1329.78 648.22L1330.43 652.37L1331.07 656.53L1331.72 660.68L1332.36 664.76L1333.01 668.73L1333.66 672.55L1334.3 676.19L1334.95 679.61L1335.59 682.78L1336.24 685.66L1336.89 688.22L1337.53 690.44L1338.18 692.3L1338.82 693.78L1339.47 694.86L1340.12 695.54L1340.76 695.8L1341.41 695.64L1342.05 695.07L1342.7 694.09L1343.35 692.71L1343.99 690.94L1344.64 688.81L1345.28 686.32L1345.93 683.52L1346.58 680.42L1347.22 677.06L1347.87 673.47L1348.51 669.69L1349.16 665.75L1349.81 661.7L1350.45 657.56L1351.1 653.4L1351.74 649.24L1352.39 645.13L1353.04 641.11L1353.68 637.22L1354.33 633.5L1354.97 629.98L1355.62 626.7L1356.27 623.7L1356.91 621L1357.56 618.64L1358.2 616.62L1358.85 614.99L1359.5 613.74L1360.14 612.89L1360.79 612.46L1361.43 612.44L1362.08 612.84L1362.73 613.66L1363.37 614.87L1364.02 616.48L1364.66 618.46L1365.31 620.8L1365.96 623.48L1366.6 626.45L1367.25 629.71L1367.89 633.21L1368.54 636.91L1369.19 640.79L1369.83 644.81L1370.48 648.91L1371.12 653.07L1371.77 657.23L1372.42 661.37L1373.06 665.43L1373.71 669.38L1374.35 673.18L1375 676.79L1375.65 680.17L1376.29 683.28L1376.94 686.11L1377.58 688.62L1378.23 690.78L1378.88 692.58L1379.52 693.99L1380.17 695.01L1380.81 695.61L1381.46 695.8L1382.11 695.57L1382.75 694.93L1383.4 693.88L1384.04 692.44L1384.69 690.61L1385.34 688.41L1385.98 685.87L1386.63 683.02L1387.27 679.88L1387.92 676.48L1388.57 672.85L1389.21 669.04L1389.86 665.08L1390.5 661.01L1391.15 656.87L1391.8 652.7L1392.44 648.54L1393.09 644.45L1393.73 640.44L1394.38 636.58L1395.03 632.89L1395.67 629.41L1396.32 626.18L1396.96 623.23L1397.61 620.58L1398.26 618.27L1398.9 616.32L1399.55 614.75L1400.19 613.57L1400.84 612.79L1401.49 612.43L1402.13 612.48L1402.78 612.95L1403.42 613.83L1404.07 615.11L1404.72 616.79L1405.36 618.83L1406.01 621.23L1406.65 623.96L1407.3 626.98L1407.95 630.28L1408.59 633.82L1409.24 637.56L1409.88 641.46L1410.53 645.49L1411.18 649.61L1411.82 653.77L1412.47 657.93L1413.11 662.06L1413.76 666.11L1414.41 670.03L1415.05 673.8L1415.7 677.37L1416.34 680.71L1416.99 683.78L1417.64 686.56L1418.28 689.01L1418.93 691.11L1419.57 692.84L1420.22 694.19L1420.87 695.14L1421.51 695.67L1422.16 695.79L1422.8 695.49L1423.45 694.78L1424.1 693.67L1424.74 692.15L1425.39 690.26L1426.03 688.01L1426.68 685.42L1427.33 682.51L1427.97 679.32L1428.62 675.88L1429.26 672.22L1429.91 668.38L1430.56 664.4L1431.2 660.31L1431.85 656.17L1432.49 652L1433.14 647.85L1433.79 643.77L1434.43 639.78L1435.08 635.95L1435.72 632.29L1436.37 628.85L1437.02 625.66L1437.66 622.76L1438.31 620.17L1438.95 617.92L1439.6 616.03L1440.25 614.52L1440.89 613.41L1441.54 612.7L1442.18 612.41L1442.83 612.53L1443.48 613.07L1444.12 614.02L1444.77 615.37L1445.41 617.11L1446.06 619.21L1446.71 621.67L1447.35 624.44L1448 627.52L1448.64 630.86L1449.29 634.43L1449.94 638.2L1450.58 642.13L1451.23 646.18L1451.87 650.3L1452.52 654.47L1453.17 658.63L1453.81 662.75L1454.46 666.78L1455.1 670.68L1455.75 674.42L1456.4 677.95L1457.04 681.25L1457.69 684.27L1458.33 686.99L1458.98 689.39L1459.63 691.43L1460.27 693.1L1460.92 694.38L1461.56 695.25L1462.21 695.72L1462.86 695.77L1463.5 695.4L1464.15 694.62L1464.79 693.44L1465.44 691.86" stroke="#b0b026" stroke-width="1.2" fill="none"/>
</g>
<rect x="1411.5" y="611.5" width="53" height="36" rx="3" fill="#fff" fill-opacity="0.62" stroke="#000"/>
<path d="M1416 619.5l11.7 4.1" stroke="#b4242a" fill="none"/>
<text x="1432 1439 1447 1453" y="626">ch_0</text>
<path d="M1416 634.5l11.7 4.1" stroke="#b0b026" fill="none"/>
<text x="1432 1439 1447 1453" y="641">ch_1</text>
<path d="M105.1 835.6L254.49 753.23" stroke="#000" stroke-width="2.6" stroke-linecap="round"/>
<g clip-path="url(#cp51)"><path d="M345.1 840.5L496.47 755.66" stroke="#000" stroke-width="2.6" stroke-linecap="round"/></g>
<g clip-path="url(#cp52)">
<path d="M584.5 775.5L741.5 775.5" stroke="#b4242a" stroke-width="1" fill="none"/>
<path d="M584.5 775.5L741.5 775.5" stroke="#b0b026" stroke-width="1" fill="none"/>
<path d="M598.6 775.5L599 783.98L599.6 765.72L600.2 752.68L600.7 772.24L601.4 784.47L601.8 775.5" stroke="#b4242a" stroke-width="1.5" fill="none"/>
<rect x="597.2" y="773.3" width="5.5" height="4" fill="#b4242a"/>
<rect x="598.2" y="773.9" width="4" height="2.6" fill="#b0b026"/>
<path d="M597.2 775.5h6" stroke="#26b026" stroke-width="1.2"/>
<path d="M584.5 775.5L741.5 775.5" stroke="#26b026" stroke-width="1.3" fill="none"/>
<rect x="660.1" y="751.87" width="2.2" height="31.78" fill="#26b026"/><rect x="664.1" y="751.87" width="2.2" height="31.78" fill="#26b026"/>
<rect x="659.3" y="773.54" width="8" height="10.92" fill="#26b026"/>
<rect x="662.3" y="752.68" width="1.8" height="11.41" fill="#b0b026"/>
<rect x="662.4" y="764.42" width="1.6" height="15.97" fill="#fff" fill-opacity=".9"/>
<rect x="662.1" y="781.21" width="2.2" height="2.6" fill="#c0203a"/>
<path d="M661.9 784.63L664.5 784.63L663.2 796.69Z" fill="#b4e4b4"/>
<path d="M663.2 793.43V836.14" stroke="#26b026" stroke-width="2"/>
<path d="M655.5 775.5L660 772.3L660 778.7Z" fill="#26b026"/>
<path d="M672 775.5L667 772.3L667 778.7Z" fill="#26b026"/>
</g>
<rect x="706.5" y="751.5" width="33" height="51" rx="3" fill="#fff" fill-opacity="0.7" stroke="#000"/>
<path d="M711 759.5l11.7 4.1" stroke="#b4242a" fill="none"/>
<text x="727" y="766">X</text>
<path d="M711 774.5l11.7 4.1" stroke="#b0b026" fill="none"/>
<text x="727" y="781">Y</text>
<path d="M711 789.5l11.7 4.1" stroke="#26b026" fill="none"/>
<text x="727" y="796">Z</text>
<path d="M826.04 819.34a1.6 1.6 0 1 0 3.2 0a1.6 1.6 0 1 0 -3.2 0M831.42 828.1a1.6 1.6 0 1 0 3.2 0a1.6 1.6 0 1 0 -3.2 0M845.75 762.8a1.6 1.6 0 1 0 3.2 0a1.6 1.6 0 1 0 -3.2 0M852.12 787.69a1.6 1.6 0 1 0 3.2 0a1.6 1.6 0 1 0 -3.2 0M869.64 790.28a1.6 1.6 0 1 0 3.2 0a1.6 1.6 0 1 0 -3.2 0M870.64 780.32a1.6 1.6 0 1 0 3.2 0a1.6 1.6 0 1 0 -3.2 0M872.43 793.66a1.6 1.6 0 1 0 3.2 0a1.6 1.6 0 1 0 -3.2 0M878.2 806.8a1.6 1.6 0 1 0 3.2 0a1.6 1.6 0 1 0 -3.2 0M878.8 768.38a1.6 1.6 0 1 0 3.2 0a1.6 1.6 0 1 0 -3.2 0M879.4 761.21a1.6 1.6 0 1 0 3.2 0a1.6 1.6 0 1 0 -3.2 0M880.99 812.57a1.6 1.6 0 1 0 3.2 0a1.6 1.6 0 1 0 -3.2 0M882.58 759.42a1.6 1.6 0 1 0 3.2 0a1.6 1.6 0 1 0 -3.2 0M889.75 829.3a1.6 1.6 0 1 0 3.2 0a1.6 1.6 0 1 0 -3.2 0M894.13 757.43a1.6 1.6 0 1 0 3.2 0a1.6 1.6 0 1 0 -3.2 0M895.72 835.67a1.6 1.6 0 1 0 3.2 0a1.6 1.6 0 1 0 -3.2 0M901.89 800.43a1.6 1.6 0 1 0 3.2 0a1.6 1.6 0 1 0 -3.2 0M910.85 824.32a1.6 1.6 0 1 0 3.2 0a1.6 1.6 0 1 0 -3.2 0M911.25 766.39a1.6 1.6 0 1 0 3.2 0a1.6 1.6 0 1 0 -3.2 0M911.85 794.66a1.6 1.6 0 1 0 3.2 0a1.6 1.6 0 1 0 -3.2 0M928.97 776.74a1.6 1.6 0 1 0 3.2 0a1.6 1.6 0 1 0 -3.2 0M929.77 775.35a1.6 1.6 0 1 0 3.2 0a1.6 1.6 0 1 0 -3.2 0M929.77 805.61a1.6 1.6 0 1 0 3.2 0a1.6 1.6 0 1 0 -3.2 0M933.75 752.05a1.6 1.6 0 1 0 3.2 0a1.6 1.6 0 1 0 -3.2 0M934.94 772.76a1.6 1.6 0 1 0 3.2 0a1.6 1.6 0 1 0 -3.2 0M941.91 797.84a1.6 1.6 0 1 0 3.2 0a1.6 1.6 0 1 0 -3.2 0M944.3 759.62a1.6 1.6 0 1 0 3.2 0a1.6 1.6 0 1 0 -3.2 0M947.29 821.93a1.6 1.6 0 1 0 3.2 0a1.6 1.6 0 1 0 -3.2 0M950.67 813.77a1.6 1.6 0 1 0 3.2 0a1.6 1.6 0 1 0 -3.2 0M967.59 777.93a1.6 1.6 0 1 0 3.2 0a1.6 1.6 0 1 0 -3.2 0M979.54 810.98a1.6 1.6 0 1 0 3.2 0a1.6 1.6 0 1 0 -3.2 0" fill="#000"/>
<path d="M1130 787.5h1.3M1173 806.5h1.3M1137 789.5h1.3M1152 830.5h1.3M1163 773.5h1.3M1136 789.5h1.3M1134 789.5h1.3M1142 762.5h1.3M1128 787.5h1.3M1168 803.5h1.3M1148 794.5h1.3M1167 802.5h1.3M1183 782.5h1.3M1138 792.5h1.3M1136 791.5h1.3M1125 819.5h1.3M1145 793.5h1.3M1153 829.5h1.3M1155 797.5h1.3M1106 779.5h1.3M1142 792.5h1.3M1153 796.5h1.3M1127 819.5h1.3M1148 795.5h1.3M1178 809.5h1.3M1121 783.5h1.3M1118 783.5h1.3M1176 807.5h1.3M1128 822.5h1.3M1138 788.5h1.3M1159 799.5h1.3" stroke="#6fff00" stroke-width="1.2" stroke-opacity=".62"/>
<path d="M1121 804.5h1.3M1105 791.5h1.3M1116 803.5h1.3M1170 823.5h1.3M1092 790.5h1.3M1080 778.5h1.3M1177 828.5h1.3M1129 803.5h1.3M1132 803.5h1.3M1166 812.5h1.3M1175 817.5h1.3M1133 798.5h1.3M1088 786.5h1.3M1151 819.5h1.3M1069 779.5h1.3M1165 822.5h1.3M1114 803.5h1.3M1130 807.5h1.3M1132 807.5h1.3M1132 805.5h1.3M1124 805.5h1.3M1074 778.5h1.3M1072 783.5h1.3M1181 821.5h1.3M1206 836.5h1.3M1106 793.5h1.3M1141 801.5h1.3M1155 809.5h1.3M1109 798.5h1.3M1130 804.5h1.3M1191 831.5h1.3M1136 801.5h1.3M1141 807.5h1.3M1142 807.5h1.3M1161 822.5h1.3M1117 804.5h1.3M1138 808.5h1.3M1138 804.5h1.3M1125 797.5h1.3M1153 811.5h1.3M1093 788.5h1.3M1179 824.5h1.3M1115 797.5h1.3M1150 810.5h1.3M1160 816.5h1.3M1079 785.5h1.3M1129 798.5h1.3M1107 800.5h1.3M1134 803.5h1.3M1141 805.5h1.3M1139 803.5h1.3M1193 824.5h1.3M1080 782.5h1.3M1094 793.5h1.3M1105 792.5h1.3M1148 811.5h1.3M1101 788.5h1.3M1112 799.5h1.3" stroke="#0000c1" stroke-width="1.2" stroke-opacity=".62"/>
<path d="M1145 795.5h1.3M1183 811.5h1.3M1145 795.5h1.3M1175 804.5h1.3M1171 805.5h1.3M1071 796.5h1.3M1105 780.5h1.3M1136 792.5h1.3M1142 793.5h1.3M1185 813.5h1.3M1121 784.5h1.3M1184 810.5h1.3M1188 814.5h1.3M1120 783.5h1.3M1100 775.5h1.3M1138 820.5h1.3M1177 806.5h1.3M1175 809.5h1.3M1113 780.5h1.3M1161 801.5h1.3M1142 792.5h1.3M1147 764.5h1.3M1159 799.5h1.3" stroke="#0bff00" stroke-width="1.2" stroke-opacity=".62"/>
<path d="M1088 764.5h1.3M1126 773.5h1.3M1104 772.5h1.3M1115 822.5h1.3M1129 781.5h1.3M1129 781.5h1.3M1141 786.5h1.3M1189 802.5h1.3M1148 788.5h1.3M1144 785.5h1.3M1146 787.5h1.3M1129 782.5h1.3M1141 832.5h1.3M1108 818.5h1.3M1135 783.5h1.3M1177 802.5h1.3M1156 789.5h1.3M1157 792.5h1.3M1096 765.5h1.3M1178 787.5h1.3M1130 780.5h1.3M1088 810.5h1.3M1219 817.5h1.3M1148 788.5h1.3M1174 787.5h1.3M1159 791.5h1.3" stroke="#ff7200" stroke-width="1.2" stroke-opacity=".62"/>
<path d="M1142 824.5h1.3M1156 804.5h1.3M1090 775.5h1.3M1132 792.5h1.3M1140 796.5h1.3M1110 781.5h1.3M1171 810.5h1.3M1113 787.5h1.3M1151 798.5h1.3M1116 783.5h1.3M1132 791.5h1.3M1171 806.5h1.3M1144 823.5h1.3M1118 787.5h1.3M1118 786.5h1.3M1127 788.5h1.3M1143 797.5h1.3M1126 789.5h1.3M1135 819.5h1.3M1173 836.5h1.3M1096 804.5h1.3M1098 802.5h1.3M1139 796.5h1.3M1097 776.5h1.3M1129 794.5h1.3M1139 794.5h1.3M1078 798.5h1.3M1127 788.5h1.3" stroke="#00ff6d" stroke-width="1.2" stroke-opacity=".62"/>
<path d="M1147 796.5h1.3M1091 774.5h1.3M1144 828.5h1.3M1131 791.5h1.3M1200 819.5h1.3M1134 792.5h1.3M1129 793.5h1.3M1135 792.5h1.3M1119 783.5h1.3M1169 772.5h1.3M1116 782.5h1.3M1164 771.5h1.3M1105 807.5h1.3M1131 820.5h1.3M1079 767.5h1.3M1141 796.5h1.3M1106 806.5h1.3M1153 829.5h1.3M1156 800.5h1.3M1162 804.5h1.3M1137 793.5h1.3M1156 801.5h1.3M1157 801.5h1.3M1110 782.5h1.3M1139 793.5h1.3" stroke="#00ff33" stroke-width="1.2" stroke-opacity=".62"/>
<path d="M1192 812.5h1.3M1135 787.5h1.3M1125 783.5h1.3M1119 777.5h1.3M1157 799.5h1.3M1135 785.5h1.3M1172 803.5h1.3M1147 792.5h1.3M1157 795.5h1.3M1117 779.5h1.3M1118 780.5h1.3M1155 772.5h1.3M1073 761.5h1.3M1126 784.5h1.3M1126 782.5h1.3M1131 785.5h1.3M1176 803.5h1.3M1141 768.5h1.3M1146 790.5h1.3M1138 788.5h1.3M1152 771.5h1.3M1184 804.5h1.3M1134 786.5h1.3M1173 801.5h1.3M1124 782.5h1.3M1135 785.5h1.3M1110 813.5h1.3M1159 794.5h1.3M1189 809.5h1.3M1146 792.5h1.3M1160 795.5h1.3M1181 804.5h1.3M1220 799.5h1.3" stroke="#ffec00" stroke-width="1.2" stroke-opacity=".62"/>
<path d="M1112 798.5h1.3M1143 810.5h1.3M1179 821.5h1.3M1150 817.5h1.3M1161 816.5h1.3M1142 809.5h1.3M1157 809.5h1.3M1139 804.5h1.3M1144 814.5h1.3M1183 822.5h1.3M1129 804.5h1.3M1129 801.5h1.3M1083 785.5h1.3M1109 791.5h1.3M1114 796.5h1.3M1192 830.5h1.3M1173 821.5h1.3M1121 800.5h1.3M1140 807.5h1.3M1091 786.5h1.3M1080 783.5h1.3M1181 828.5h1.3M1157 814.5h1.3M1097 791.5h1.3M1085 786.5h1.3M1144 805.5h1.3M1094 789.5h1.3M1116 797.5h1.3M1148 812.5h1.3M1148 817.5h1.3M1096 795.5h1.3M1138 812.5h1.3M1146 814.5h1.3M1113 795.5h1.3M1082 785.5h1.3M1150 809.5h1.3M1132 801.5h1.3M1166 820.5h1.3M1113 798.5h1.3M1073 781.5h1.3M1114 798.5h1.3M1072 780.5h1.3" stroke="#000089" stroke-width="1.2" stroke-opacity=".62"/>
<path d="M1141 821.5h1.3M1161 826.5h1.3M1141 796.5h1.3M1162 829.5h1.3M1090 800.5h1.3M1103 805.5h1.3M1100 776.5h1.3M1157 802.5h1.3M1129 816.5h1.3M1121 789.5h1.3M1129 793.5h1.3M1147 801.5h1.3M1119 787.5h1.3M1112 786.5h1.3M1134 818.5h1.3M1147 800.5h1.3M1137 816.5h1.3M1125 792.5h1.3M1069 790.5h1.3M1128 791.5h1.3M1156 800.5h1.3M1213 827.5h1.3M1092 798.5h1.3M1145 796.5h1.3M1153 801.5h1.3M1148 799.5h1.3M1098 779.5h1.3" stroke="#00ffa6" stroke-width="1.2" stroke-opacity=".62"/>
<path d="M1125 794.5h1.3M1151 804.5h1.3M1113 793.5h1.3M1132 808.5h1.3M1126 803.5h1.3M1132 809.5h1.3M1128 798.5h1.3M1106 801.5h1.3M1172 830.5h1.3M1132 800.5h1.3M1104 789.5h1.3M1098 796.5h1.3M1177 819.5h1.3M1134 800.5h1.3M1156 807.5h1.3M1124 792.5h1.3M1103 783.5h1.3M1125 799.5h1.3M1125 809.5h1.3M1120 798.5h1.3M1205 833.5h1.3M1134 800.5h1.3M1152 808.5h1.3M1080 778.5h1.3M1139 809.5h1.3M1106 796.5h1.3M1128 809.5h1.3M1078 775.5h1.3M1102 788.5h1.3M1109 791.5h1.3M1179 819.5h1.3M1082 792.5h1.3M1152 816.5h1.3M1129 796.5h1.3M1157 812.5h1.3M1115 799.5h1.3M1162 816.5h1.3M1139 800.5h1.3M1130 804.5h1.3M1076 781.5h1.3M1175 826.5h1.3M1112 791.5h1.3M1139 802.5h1.3M1130 796.5h1.3M1128 795.5h1.3M1149 818.5h1.3M1183 819.5h1.3M1093 793.5h1.3M1127 808.5h1.3" stroke="#0000f8" stroke-width="1.2" stroke-opacity=".62"/>
<path d="M1165 799.5h1.3M1161 791.5h1.3M1143 789.5h1.3M1120 819.5h1.3M1091 807.5h1.3M1197 810.5h1.3M1132 827.5h1.3M1138 789.5h1.3M1115 778.5h1.3M1137 786.5h1.3M1140 787.5h1.3M1155 796.5h1.3M1085 764.5h1.3M1108 774.5h1.3M1169 799.5h1.3M1118 776.5h1.3M1066 800.5h1.3M1102 814.5h1.3M1120 781.5h1.3M1131 783.5h1.3M1188 806.5h1.3M1129 785.5h1.3M1163 800.5h1.3M1092 808.5h1.3M1079 762.5h1.3M1108 775.5h1.3M1202 813.5h1.3" stroke="#ffcb00" stroke-width="1.2" stroke-opacity=".62"/>
<path d="M1098 772.5h1.3M1145 794.5h1.3M1158 798.5h1.3M1142 828.5h1.3M1127 787.5h1.3M1132 759.5h1.3M1114 780.5h1.3M1135 762.5h1.3M1125 818.5h1.3M1117 781.5h1.3M1154 796.5h1.3M1163 835.5h1.3M1165 802.5h1.3M1119 816.5h1.3M1162 799.5h1.3M1118 783.5h1.3M1111 777.5h1.3M1100 774.5h1.3M1113 779.5h1.3M1145 795.5h1.3M1140 826.5h1.3M1195 814.5h1.3M1076 800.5h1.3M1160 799.5h1.3M1140 790.5h1.3M1208 820.5h1.3M1169 802.5h1.3" stroke="#d3ff00" stroke-width="1.2" stroke-opacity=".62"/>
<path d="M1115 806.5h1.3M1152 806.5h1.3M1130 797.5h1.3M1174 828.5h1.3M1118 790.5h1.3M1161 824.5h1.3M1130 811.5h1.3M1153 805.5h1.3M1079 791.5h1.3M1146 817.5h1.3M1142 805.5h1.3M1168 818.5h1.3M1102 782.5h1.3M1096 800.5h1.3M1098 798.5h1.3M1131 800.5h1.3M1181 834.5h1.3M1175 816.5h1.3M1151 804.5h1.3M1203 824.5h1.3M1132 815.5h1.3M1127 809.5h1.3M1151 806.5h1.3M1138 798.5h1.3M1156 807.5h1.3M1093 799.5h1.3M1137 802.5h1.3M1113 790.5h1.3M1125 792.5h1.3M1148 805.5h1.3M1197 826.5h1.3M1145 820.5h1.3M1119 792.5h1.3M1115 800.5h1.3M1176 828.5h1.3M1181 817.5h1.3M1133 813.5h1.3M1072 777.5h1.3M1101 798.5h1.3M1115 806.5h1.3M1170 813.5h1.3M1160 807.5h1.3M1071 773.5h1.3M1072 785.5h1.3M1107 793.5h1.3M1119 793.5h1.3" stroke="#0061ff" stroke-width="1.2" stroke-opacity=".62"/>
<path d="M1172 796.5h1.3M1170 798.5h1.3M1156 783.5h1.3M1122 776.5h1.3M1167 782.5h1.3M1080 758.5h1.3M1088 815.5h1.3M1091 761.5h1.3M1154 780.5h1.3M1143 782.5h1.3M1119 778.5h1.3M1128 776.5h1.3M1080 761.5h1.3M1171 782.5h1.3M1120 825.5h1.3M1197 811.5h1.3M1127 779.5h1.3M1138 768.5h1.3M1188 802.5h1.3M1136 782.5h1.3M1192 804.5h1.3M1156 779.5h1.3M1150 777.5h1.3M1158 785.5h1.3M1111 762.5h1.3M1143 782.5h1.3M1195 806.5h1.3M1177 793.5h1.3M1215 809.5h1.3M1162 795.5h1.3M1138 782.5h1.3M1208 796.5h1.3" stroke="#ff4600" stroke-width="1.2" stroke-opacity=".62"/>
<path d="M1093 760.5h1.3M1096 761.5h1.3M1116 765.5h1.3M1179 793.5h1.3M1176 792.5h1.3M1153 784.5h1.3M1120 771.5h1.3M1102 758.5h1.3M1149 780.5h1.3M1152 785.5h1.3M1129 771.5h1.3M1087 755.5h1.3M1165 792.5h1.3M1157 786.5h1.3M1125 773.5h1.3M1100 766.5h1.3M1155 787.5h1.3M1147 774.5h1.3M1100 765.5h1.3M1103 765.5h1.3" stroke="#ff0000" stroke-width="1.2" stroke-opacity=".62"/>
<path d="M1175 801.5h1.3M1140 787.5h1.3M1104 770.5h1.3M1082 762.5h1.3M1124 776.5h1.3M1140 787.5h1.3M1164 797.5h1.3M1139 828.5h1.3M1158 793.5h1.3M1207 812.5h1.3M1171 797.5h1.3M1083 763.5h1.3M1146 792.5h1.3M1118 778.5h1.3M1111 777.5h1.3M1123 778.5h1.3M1146 786.5h1.3M1126 783.5h1.3M1129 783.5h1.3M1127 781.5h1.3M1168 799.5h1.3M1163 797.5h1.3M1185 788.5h1.3M1146 790.5h1.3M1145 784.5h1.3M1123 781.5h1.3M1099 770.5h1.3M1168 795.5h1.3M1169 798.5h1.3M1149 787.5h1.3M1153 790.5h1.3M1107 769.5h1.3M1175 800.5h1.3" stroke="#ffa300" stroke-width="1.2" stroke-opacity=".62"/>
<path d="M1124 792.5h1.3M1139 799.5h1.3M1167 814.5h1.3M1148 824.5h1.3M1116 789.5h1.3M1192 820.5h1.3M1142 799.5h1.3M1128 815.5h1.3M1108 806.5h1.3M1133 795.5h1.3M1074 770.5h1.3M1114 788.5h1.3M1137 796.5h1.3M1123 793.5h1.3M1145 820.5h1.3M1152 804.5h1.3M1149 821.5h1.3M1105 784.5h1.3M1154 802.5h1.3M1191 819.5h1.3M1169 831.5h1.3M1150 802.5h1.3M1131 796.5h1.3M1168 807.5h1.3M1157 805.5h1.3M1183 819.5h1.3M1178 812.5h1.3M1115 809.5h1.3M1131 815.5h1.3M1127 792.5h1.3M1097 802.5h1.3M1159 827.5h1.3M1162 829.5h1.3M1140 799.5h1.3M1166 808.5h1.3M1189 820.5h1.3M1109 785.5h1.3" stroke="#00ffdf" stroke-width="1.2" stroke-opacity=".62"/>
<path d="M1119 830.5h1.3M1145 781.5h1.3M1153 787.5h1.3M1101 755.5h1.3M1199 799.5h1.3M1137 775.5h1.3M1155 780.5h1.3M1129 780.5h1.3M1141 774.5h1.3M1076 753.5h1.3M1209 810.5h1.3M1162 789.5h1.3M1116 767.5h1.3M1188 790.5h1.3M1106 768.5h1.3M1114 771.5h1.3M1153 780.5h1.3M1118 763.5h1.3M1121 830.5h1.3M1138 777.5h1.3M1188 804.5h1.3M1111 763.5h1.3" stroke="#ff2300" stroke-width="1.2" stroke-opacity=".62"/>
<path d="M1097 780.5h1.3M1104 796.5h1.3M1149 803.5h1.3M1160 806.5h1.3M1116 788.5h1.3M1140 799.5h1.3M1125 810.5h1.3M1076 772.5h1.3M1133 816.5h1.3M1106 804.5h1.3M1091 778.5h1.3M1118 791.5h1.3M1114 788.5h1.3M1136 816.5h1.3M1166 809.5h1.3M1142 800.5h1.3M1147 801.5h1.3M1073 785.5h1.3M1112 787.5h1.3M1181 814.5h1.3M1098 783.5h1.3M1145 800.5h1.3M1144 800.5h1.3M1163 827.5h1.3M1125 792.5h1.3M1131 813.5h1.3M1099 782.5h1.3M1158 827.5h1.3M1125 792.5h1.3M1139 814.5h1.3M1103 802.5h1.3M1104 804.5h1.3M1141 799.5h1.3M1112 788.5h1.3" stroke="#00ceff" stroke-width="1.2" stroke-opacity=".62"/>
<g clip-path="url(#cp55)"><rect x="1312.5" y="752.5" width="52" height="10" rx="2.5" fill="#fff" fill-opacity=".8" stroke="#000"/>
<text x="1316 1321 1326 1329 1334 1339 1342 1347 1350 1354 1359" y="760" style="font-size:8px" stroke="#000" stroke-width=".35">no data set</text>
</g>
<text x="97 101" y="164">-5</text>
<text x="176" y="164">0</text>
<text x="252" y="164">5</text>
<text x="72 76" y="132">-4</text>
<text x="72 76" y="115">-2</text>
<text x="76" y="99">0</text>
<text x="76" y="82">2</text>
<text x="76" y="65">4</text>
<rect x="276" y="48" width="12" height="93" fill="url(#cw)"/>
<text x="300 304 312 316" y="136">-0.3</text>
<text x="300 304 312 316" y="123">-0.2</text>
<text x="300 304 312 316" y="111">-0.1</text>
<text x="300 308 312" y="98">0.0</text>
<text x="300 308 312" y="85">0.1</text>
<text x="300 308 312" y="73">0.2</text>
<text x="300 308 312" y="60">0.3</text>
<text x="363 371 379" y="164">100</text>
<text x="416 424 432" y="164">150</text>
<text x="470 478 486" y="164">200</text>
<text x="312 316" y="144">-4</text>
<text x="312 316" y="125">-2</text>
<text x="316" y="106">0</text>
<text x="316" y="86">2</text>
<text x="316" y="67">4</text>
<text x="571 579 587 591 599" y="164">00:00</text>
<text x="642 650 658 662 670" y="164">12:00</text>
<text x="712 720 728 732 740" y="164">00:00</text>
<text x="571 579 587 595 603 607 615 623 627 635" y="176">2015-02-20</text>
<text x="712 720 728 736 744 748 756 764 768 776" y="176">2015-02-21</text>
<text x="538 546 554 558" y="137">14.0</text>
<text x="538 546 554 558" y="118">14.5</text>
<text x="538 546 554 558" y="99">15.0</text>
<text x="538 546 554 558" y="79">15.5</text>
<text x="538 546 554 558" y="60">16.0</text>
<text x="808 816 824 828 836" y="164">00:00</text>
<text x="886 894 902 906 914" y="164">12:00</text>
<text x="964 972 980 984 992" y="164">00:00</text>
<text x="808 816 824 832 840 844 852 860 864 872" y="176">2015-01-01</text>
<text x="964 972 980 988 996 1000 1008 1016 1020 1028" y="176">2015-01-02</text>
<text x="776 780 788 792 800" y="140">-0.05</text>
<text x="780 788 792 800" y="118">0.00</text>
<text x="780 788 792 800" y="95">0.05</text>
<text x="780 788 792 800" y="73">0.10</text>
<rect x="1001" y="48" width="12" height="93" fill="url(#cw)"/>
<text x="1025 1029 1037 1041 1049" y="140">-0.05</text>
<text x="1025 1033 1037 1045" y="118">0.00</text>
<text x="1025 1033 1037 1045" y="95">0.05</text>
<text x="1025 1033 1037 1045" y="73">0.10</text>
<text x="1065 1073 1077" y="164">0.0</text>
<text x="1100 1108 1112" y="164">0.5</text>
<text x="1136 1144 1148" y="164">1.0</text>
<text x="1171 1179 1183" y="164">1.5</text>
<text x="1206 1214 1218" y="164">2.0</text>
<text x="1029 1037 1041" y="145">0.0</text>
<text x="1029 1037 1041" y="126">0.2</text>
<text x="1029 1037 1041" y="108">0.4</text>
<text x="1029 1037 1041" y="89">0.6</text>
<text x="1029 1037 1041" y="71">0.8</text>
<text x="1029 1037 1041" y="53">1.0</text>
<text x="1299 1307 1315 1319 1327" y="164">14:29</text>
<text x="1369 1377 1385 1389 1397" y="164">14:30</text>
<text x="1439 1447 1455 1459 1467" y="164">14:31</text>
<text x="1299 1307 1315 1323 1331 1335 1343 1351 1355 1363" y="176">2025-05-06</text>
<text x="1283" y="145">0</text>
<text x="1283" y="126">2</text>
<text x="1283" y="108">4</text>
<text x="1283" y="89">6</text>
<text x="1283" y="71">8</text>
<text x="1275 1283" y="53">10</text>
<text x="84 92 100 104 112" y="304">00:00</text>
<text x="162 170 178 182 190" y="304">12:00</text>
<text x="239 247 255 259 267" y="304">00:00</text>
<text x="84 92 100 108 116 120 128 136 140 148" y="316">2016-12-21</text>
<text x="239 247 255 263 271 275 283 291 295 303" y="316">2016-12-22</text>
<text x="64 68 76" y="283">-20</text>
<text x="76" y="271">0</text>
<text x="68 76" y="260">20</text>
<text x="68 76" y="248">40</text>
<text x="68 76" y="236">60</text>
<text x="68 76" y="224">80</text>
<text x="60 68 76" y="212">100</text>
<text x="60 68 76" y="200">120</text>
<text x="354 362 370 374 382" y="304">03:00</text>
<text x="399 407 415 419 427" y="304">06:00</text>
<text x="443 451 459 463 471" y="304">09:00</text>
<text x="488 496 504 508 516" y="304">12:00</text>
<text x="354 362 370 378 386 390 398 406 410 418" y="316">2019-03-07</text>
<text x="300 304 312 316" y="275">-1.5</text>
<text x="300 304 312 316" y="265">-1.0</text>
<text x="300 304 312 316" y="254">-0.5</text>
<text x="304 312 316" y="243">0.0</text>
<text x="304 312 316" y="232">0.5</text>
<text x="304 312 316" y="221">1.0</text>
<text x="304 312 316" y="210">1.5</text>
<text x="304 312 316" y="199">2.0</text>
<text x="582 590 594" y="304">0.0</text>
<text x="653 661 665" y="304">0.5</text>
<text x="723 731 735" y="304">1.0</text>
<text x="558" y="285">0</text>
<text x="558" y="266">2</text>
<text x="558" y="248">4</text>
<text x="558" y="229">6</text>
<text x="558" y="211">8</text>
<text x="550 558" y="193">10</text>
<text x="815 819 827 831" y="304">-0.5</text>
<text x="894 902 906" y="304">0.0</text>
<text x="971 979 983" y="304">0.5</text>
<text x="784 788 796 800" y="271">-0.4</text>
<text x="784 788 796 800" y="255">-0.2</text>
<text x="788 796 800" y="239">0.0</text>
<text x="788 796 800" y="222">0.2</text>
<text x="788 796 800" y="206">0.4</text>
<text x="1057" y="304">0</text>
<text x="1099" y="304">1</text>
<text x="1142" y="304">2</text>
<text x="1184" y="304">3</text>
<text x="1227" y="304">4</text>
<text x="1025 1033" y="288">10</text>
<text x="1041" y="282">0</text>
<text x="1025 1033" y="265">10</text>
<text x="1041" y="259">1</text>
<text x="1025 1033" y="242">10</text>
<text x="1041" y="236">2</text>
<text x="1025 1033" y="219">10</text>
<text x="1041" y="213">3</text>
<text x="1025 1033" y="196">10</text>
<text x="1041" y="190">4</text>
<text x="1293 1301 1305" y="304">0.0</text>
<text x="1378 1386 1390" y="304">0.5</text>
<text x="1463 1471 1475" y="304">1.0</text>
<text x="1271 1279 1283" y="285">0.0</text>
<text x="1271 1279 1283" y="266">0.2</text>
<text x="1271 1279 1283" y="248">0.4</text>
<text x="1271 1279 1283" y="229">0.6</text>
<text x="1271 1279 1283" y="211">0.8</text>
<text x="1271 1279 1283" y="193">1.0</text>
<text x="92 100 108 112 120" y="444">00:00</text>
<text x="162 170 178 182 190" y="444">12:00</text>
<text x="232 240 248 252 260" y="444">00:00</text>
<text x="92 100 108 116 124 128 136 144 148 156" y="456">2025-06-11</text>
<text x="232 240 248 256 264 268 276 284 288 296" y="456">2025-06-12</text>
<text x="76" y="425">0</text>
<text x="76" y="406">2</text>
<text x="76" y="388">4</text>
<text x="76" y="369">6</text>
<text x="76" y="351">8</text>
<text x="68 76" y="333">10</text>
<text x="332 340 348 352 360" y="444">00:00</text>
<text x="403 411 419 423 431" y="444">12:00</text>
<text x="473 481 489 493 501" y="444">00:00</text>
<text x="332 340 348 356 364 368 376 384 388 396" y="456">2015-01-01</text>
<text x="473 481 489 497 505 509 517 525 529 537" y="456">2015-01-02</text>
<text x="316" y="425">0</text>
<text x="316" y="406">2</text>
<text x="316" y="388">4</text>
<text x="316" y="369">6</text>
<text x="316" y="351">8</text>
<text x="308 316" y="333">10</text>
<text x="546 554 562 570 578 582 590 598 602 610" y="444">2011-10-24</text>
<text x="601 609 617 625 633 637 645 653 657 665" y="444">2011-10-25</text>
<text x="657 665 673 681 689 693 701 709 713 721" y="444">2011-10-26</text>
<text x="712 720 728 736 744 748 756 764 768 776" y="444">2011-10-27</text>
<text x="542 550" y="428">10</text>
<text x="558" y="422">1</text>
<text x="542 550" y="415">10</text>
<text x="558" y="409">2</text>
<text x="542 550" y="402">10</text>
<text x="558" y="396">3</text>
<text x="542 550" y="390">10</text>
<text x="558" y="384">4</text>
<text x="542 550" y="377">10</text>
<text x="558" y="371">5</text>
<text x="542 550" y="364">10</text>
<text x="558" y="358">6</text>
<text x="542 550" y="352">10</text>
<text x="558" y="346">7</text>
<text x="542 550" y="339">10</text>
<text x="558" y="333">8</text>
<rect x="760" y="328" width="12" height="93" fill="url(#cw)"/>
<text x="784 788 796 800" y="421">-0.4</text>
<text x="784 788 796 800" y="409">-0.2</text>
<text x="784 792 796" y="397">0.0</text>
<text x="784 792 796" y="385">0.2</text>
<text x="784 792 796" y="373">0.4</text>
<text x="784 792 796" y="361">0.6</text>
<text x="784 792 796" y="349">0.8</text>
<text x="784 792 796" y="337">1.0</text>
<text x="809 817 825 829 837" y="444">00:00</text>
<text x="855 863 871 875 883" y="444">03:00</text>
<text x="901 909 917 921 929" y="444">06:00</text>
<text x="947 955 963 967 975" y="444">09:00</text>
<text x="809 817 825 833 841 845 853 861 865 873" y="456">2015-03-01</text>
<text x="788 796 800" y="420">1.0</text>
<text x="788 796 800" y="406">1.5</text>
<text x="788 796 800" y="392">2.0</text>
<text x="788 796 800" y="379">2.5</text>
<text x="788 796 800" y="365">3.0</text>
<text x="788 796 800" y="351">3.5</text>
<text x="788 796 800" y="337">4.0</text>
<rect x="1001" y="328" width="12" height="93" fill="url(#cw)"/>
<text x="1025 1029 1037 1041" y="421">-0.4</text>
<text x="1025 1029 1037 1041" y="409">-0.2</text>
<text x="1025 1033 1037" y="397">0.0</text>
<text x="1025 1033 1037" y="385">0.2</text>
<text x="1025 1033 1037" y="373">0.4</text>
<text x="1025 1033 1037" y="361">0.6</text>
<text x="1025 1033 1037" y="349">0.8</text>
<text x="1025 1033 1037" y="337">1.0</text>
<text x="1057 1061" y="444">-2</text>
<text x="1094 1098" y="444">-1</text>
<text x="1134" y="444">0</text>
<text x="1171" y="444">1</text>
<text x="1209" y="444">2</text>
<text x="1025 1029 1037 1041" y="423">-1.0</text>
<text x="1025 1029 1037 1041" y="406">-0.5</text>
<text x="1029 1037 1041" y="388">0.0</text>
<text x="1029 1037 1041" y="371">0.5</text>
<text x="1029 1037 1041" y="354">1.0</text>
<text x="1029 1037 1041" y="337">1.5</text>
<text x="1298 1302 1310 1314" y="444">-1.0</text>
<text x="1337 1341 1349 1353" y="444">-0.5</text>
<text x="1378 1386 1390" y="444">0.0</text>
<text x="1416 1424 1428" y="444">0.5</text>
<text x="1455 1463 1467" y="444">1.0</text>
<text x="1271 1279 1283" y="420">0.0</text>
<text x="1271 1279 1283" y="404">0.2</text>
<text x="1271 1279 1283" y="387">0.4</text>
<text x="1271 1279 1283" y="370">0.6</text>
<text x="1271 1279 1283" y="353">0.8</text>
<text x="1271 1279 1283" y="337">1.0</text>
<text x="130 134" y="584">-1</text>
<text x="174" y="584">0</text>
<text x="216" y="584">1</text>
<text x="258" y="584">2</text>
<text x="64 72 76" y="564">0.0</text>
<text x="64 72 76" y="542">0.5</text>
<text x="64 72 76" y="521">1.0</text>
<text x="64 72 76" y="500">1.5</text>
<text x="64 72 76" y="478">2.0</text>
<text x="347" y="584">0</text>
<text x="416 424" y="584">10</text>
<text x="490 498" y="584">20</text>
<text x="316" y="560">0</text>
<text x="316" y="550">5</text>
<text x="308 316" y="539">10</text>
<text x="308 316" y="528">15</text>
<text x="308 316" y="517">20</text>
<text x="308 316" y="507">25</text>
<text x="308 316" y="496">30</text>
<text x="308 316" y="485">35</text>
<text x="308 316" y="475">40</text>
<text x="584 588 596 604 612" y="584">-2000</text>
<text x="658" y="584">0</text>
<text x="707 715 723 731" y="584">2000</text>
<text x="530 534 542 550 558" y="561">-2000</text>
<text x="530 534 542 550 558" y="551">-1500</text>
<text x="530 534 542 550 558" y="540">-1000</text>
<text x="538 542 550 558" y="529">-500</text>
<text x="558" y="519">0</text>
<text x="542 550 558" y="508">500</text>
<text x="534 542 550 558" y="497">1000</text>
<text x="534 542 550 558" y="486">1500</text>
<text x="534 542 550 558" y="476">2000</text>
<text x="799 807 815 819 827 835 839 847" y="584">12:03:00</text>
<text x="953 961 969 973 981 989 993 1001" y="584">12:03:02</text>
<text x="799 807 815 823 831 835 843 851 855 863" y="596">2012-10-02</text>
<text x="772 776 784 792 800" y="551">-5000</text>
<text x="800" y="526">0</text>
<text x="776 784 792 800" y="501">5000</text>
<text x="768 776 784 792 800" y="476">10000</text>
<text x="1040 1048 1056 1060 1068 1076 1080 1088" y="584">12:03:00</text>
<text x="1195 1203 1211 1215 1223 1231 1235 1243" y="584">12:03:02</text>
<text x="1040 1048 1056 1064 1072 1076 1084 1092 1096 1104" y="596">2012-10-02</text>
<text x="1013 1017 1025 1033 1041" y="551">-5000</text>
<text x="1041" y="526">0</text>
<text x="1017 1025 1033 1041" y="501">5000</text>
<text x="1009 1017 1025 1033 1041" y="476">10000</text>
<text x="1278 1286 1294 1298 1306 1314 1318 1326" y="584">12:03:00</text>
<text x="1352 1360 1368 1372 1380 1388 1392 1400" y="584">12:03:02</text>
<text x="1426 1434 1442 1446 1454 1462 1466 1474" y="584">12:03:04</text>
<text x="1278 1286 1294 1302 1310 1314 1322 1330 1334 1342" y="596">2012-10-02</text>
<text x="1263 1271 1275 1283" y="560">0.00</text>
<text x="1263 1271 1275 1283" y="543">0.02</text>
<text x="1263 1271 1275 1283" y="527">0.04</text>
<text x="1263 1271 1275 1283" y="510">0.06</text>
<text x="1263 1271 1275 1283" y="493">0.08</text>
<text x="1263 1271 1275 1283" y="477">0.10</text>
<rect x="1485" y="468" width="12" height="93" fill="url(#cw)"/>
<text x="1509 1513 1521 1529 1537" y="551">-5000</text>
<text x="1509" y="526">0</text>
<text x="1509 1517 1525 1533" y="501">5000</text>
<text x="1509 1517 1525 1533 1541" y="476">10000</text>
<text x="75 83 91 95 103 111 115 123" y="724">12:03:00</text>
<text x="228 236 244 248 256 264 268 276" y="724">12:03:02</text>
<text x="75 83 91 99 107 111 119 127 131 139" y="736">2012-10-02</text>
<text x="76" y="617">0</text>
<text x="30 34 42 52 60" y="661">-5×10</text>
<text x="68 76" y="655">35</text>
<text x="22 26 34 42 52 60" y="703">-10×10</text>
<text x="68 76" y="697">35</text>
<text x="336" y="724">0</text>
<text x="405 413" y="724">10</text>
<text x="479 487" y="724">20</text>
<text x="304 312 316" y="697">0.0</text>
<text x="304 312 316" y="682">0.2</text>
<text x="304 312 316" y="666">0.4</text>
<text x="304 312 316" y="651">0.6</text>
<text x="304 312 316" y="635">0.8</text>
<text x="304 312 316" y="620">1.0</text>
<text x="567 575 583 587 595" y="724">00:00</text>
<text x="638 646 654 658 666" y="724">00:03</text>
<text x="710 718 726 730 738" y="724">00:06</text>
<text x="567 575 583 591 599 603 611 619 623 631" y="736">2011-10-24</text>
<text x="542 546 554 558" y="695">-1.5</text>
<text x="542 546 554 558" y="685">-1.0</text>
<text x="542 546 554 558" y="674">-0.5</text>
<text x="546 554 558" y="663">0.0</text>
<text x="546 554 558" y="652">0.5</text>
<text x="546 554 558" y="641">1.0</text>
<text x="546 554 558" y="630">1.5</text>
<text x="546 554 558" y="619">2.0</text>
<text x="827" y="724">0</text>
<text x="898 906" y="724">20</text>
<text x="973 981" y="724">40</text>
<text x="800" y="698">0</text>
<text x="800" y="685">5</text>
<text x="792 800" y="671">10</text>
<text x="792 800" y="657">15</text>
<text x="792 800" y="644">20</text>
<text x="792 800" y="630">25</text>
<text x="792 800" y="617">30</text>
<rect x="1001" y="608" width="12" height="93" fill="url(#cw)"/>
<text x="1025 1029 1037 1041" y="701">-0.4</text>
<text x="1025 1029 1037 1041" y="689">-0.2</text>
<text x="1025 1033 1037" y="677">0.0</text>
<text x="1025 1033 1037" y="665">0.2</text>
<text x="1025 1033 1037" y="653">0.4</text>
<text x="1025 1033 1037" y="641">0.6</text>
<text x="1025 1033 1037" y="629">0.8</text>
<text x="1025 1033 1037" y="617">1.0</text>
<text x="1049 1057 1065 1069 1077" y="724">00:00</text>
<text x="1128 1136 1144 1148 1156" y="724">12:00</text>
<text x="1206 1214 1222 1226 1234" y="724">00:00</text>
<text x="1049 1057 1065 1073 1081 1085 1093 1101 1105 1113" y="736">2011-10-24</text>
<text x="1206 1214 1222 1230 1238 1242 1250 1258 1262 1270" y="736">2011-10-25</text>
<text x="1025 1033" y="703">10</text>
<text x="1041" y="697">1</text>
<text x="1025 1033" y="677">10</text>
<text x="1041" y="671">2</text>
<text x="1025 1033" y="650">10</text>
<text x="1041" y="644">3</text>
<text x="1025 1033" y="624">10</text>
<text x="1041" y="618">4</text>
<rect x="1243" y="608" width="12" height="93" fill="url(#cw)"/>
<text x="1267 1271 1279 1283" y="701">-0.4</text>
<text x="1267 1271 1279 1283" y="689">-0.2</text>
<text x="1267 1275 1279" y="677">0.0</text>
<text x="1267 1275 1279" y="665">0.2</text>
<text x="1267 1275 1279" y="653">0.4</text>
<text x="1267 1275 1279" y="641">0.6</text>
<text x="1267 1275 1279" y="629">0.8</text>
<text x="1267 1275 1279" y="617">1.0</text>
<text x="1306" y="724">0</text>
<text x="1367 1375" y="724">10</text>
<text x="1431 1439" y="724">20</text>
<text x="1267 1271 1279 1283" y="700">-1.0</text>
<text x="1267 1271 1279 1283" y="679">-0.5</text>
<text x="1271 1279 1283" y="659">0.0</text>
<text x="1271 1279 1283" y="638">0.5</text>
<text x="1271 1279 1283" y="617">1.0</text>
<text x="101" y="864">0</text>
<text x="172 180" y="864">50</text>
<text x="244 252 260" y="864">100</text>
<text x="64 72 76" y="840">0.0</text>
<text x="64 72 76" y="830">0.5</text>
<text x="64 72 76" y="819">1.0</text>
<text x="64 72 76" y="809">1.5</text>
<text x="64 72 76" y="799">2.0</text>
<text x="64 72 76" y="788">2.5</text>
<text x="64 72 76" y="778">3.0</text>
<text x="64 72 76" y="767">3.5</text>
<text x="64 72 76" y="757">4.0</text>
<text x="341" y="864">0</text>
<text x="413 421" y="864">50</text>
<text x="486 494 502" y="864">100</text>
<text x="300 308" y="848">10</text>
<text x="316" y="842">0</text>
<text x="300 308" y="827">10</text>
<text x="316" y="821">1</text>
<text x="300 308" y="805">10</text>
<text x="316" y="799">2</text>
<text x="300 308" y="784">10</text>
<text x="316" y="778">3</text>
<text x="300 308" y="762">10</text>
<text x="316" y="756">4</text>
<text x="566 574 582 586 594" y="864">00:00</text>
<text x="645 653 661 665 673" y="864">12:00</text>
<text x="723 731 739 743 751" y="864">00:00</text>
<text x="566 574 582 590 598 602 610 618 622 630" y="876">2011-10-24</text>
<text x="723 731 739 747 755 759 767 775 779 787" y="876">2011-10-25</text>
<text x="542 546 554 558" y="829">-0.3</text>
<text x="542 546 554 558" y="813">-0.2</text>
<text x="542 546 554 558" y="796">-0.1</text>
<text x="546 554 558" y="780">0.0</text>
<text x="546 554 558" y="764">0.1</text>
<text x="856 860" y="864">-1</text>
<text x="901" y="864">0</text>
<text x="944" y="864">1</text>
<text x="784 788 796 800" y="841">-1.5</text>
<text x="784 788 796 800" y="828">-1.0</text>
<text x="784 788 796 800" y="815">-0.5</text>
<text x="788 796 800" y="803">0.0</text>
<text x="788 796 800" y="790">0.5</text>
<text x="788 796 800" y="778">1.0</text>
<text x="788 796 800" y="765">1.5</text>
<text x="788 796 800" y="753">2.0</text>
<text x="1120" y="864">0</text>
<text x="1225" y="864">5</text>
<text x="1037 1041" y="843">-6</text>
<text x="1037 1041" y="823">-4</text>
<text x="1037 1041" y="804">-2</text>
<text x="1041" y="784">0</text>
<text x="1041" y="765">2</text>
<rect x="1243" y="748" width="12" height="93" fill="url(#cw)"/>
<text x="1267 1271 1279 1283" y="840">-1.0</text>
<text x="1267 1271 1279 1283" y="819">-0.5</text>
<text x="1267 1275 1279" y="798">0.0</text>
<text x="1267 1275 1279" y="777">0.5</text>
<text x="1267 1275 1279" y="757">1.0</text>
<text x="1299" y="864">0</text>
<text x="1380 1388" y="864">50</text>
<text x="1461 1469 1477" y="864">100</text>
<text x="1283" y="845">0</text>
<text x="1275 1283" y="826">20</text>
<text x="1275 1283" y="808">40</text>
<text x="1275 1283" y="789">60</text>
<text x="1275 1283" y="771">80</text>
<text x="1267 1275 1283" y="753">100</text>
<rect x="96.5" y="48.5" width="168" height="92" fill="none" stroke="#000"/>
<text x="126 134 142 150 153 161 170 173 180 185 190 193 201 209 214 217 225" y="39">angleDistribution</text>
<path d="M103.5 141v4M118.5 141v4M134.5 141v4M149.5 141v4M164.5 141v4M180.5 141v4M195.5 141v4M210.5 141v4M225.5 141v4M241.5 141v4M256.5 141v4M103.5 141v8M180.5 141v8M256.5 141v8M92 135.5h4M92 127.5h4M92 119.5h4M92 110.5h4M92 102.5h4M92 94.5h4M92 85.5h4M92 77.5h4M92 68.5h4M92 60.5h4M92 52.5h4M88 127.5h8M88 110.5h8M88 94.5h8M88 77.5h8M88 60.5h8M288.5 48v93M289 140.5h4M289 139.5h4M289 137.5h4M289 136.5h4M289 135.5h4M289 134.5h4M289 132.5h4M289 131.5h4M289 130.5h4M289 128.5h4M289 127.5h4M289 126.5h4M289 125.5h4M289 123.5h4M289 122.5h4M289 121.5h4M289 120.5h4M289 118.5h4M289 117.5h4M289 116.5h4M289 115.5h4M289 113.5h4M289 112.5h4M289 111.5h4M289 109.5h4M289 108.5h4M289 107.5h4M289 106.5h4M289 104.5h4M289 103.5h4M289 102.5h4M289 101.5h4M289 99.5h4M289 98.5h4M289 97.5h4M289 96.5h4M289 94.5h4M289 93.5h4M289 92.5h4M289 90.5h4M289 89.5h4M289 88.5h4M289 87.5h4M289 85.5h4M289 84.5h4M289 83.5h4M289 82.5h4M289 80.5h4M289 79.5h4M289 78.5h4M289 77.5h4M289 75.5h4M289 74.5h4M289 73.5h4M289 71.5h4M289 70.5h4M289 69.5h4M289 68.5h4M289 66.5h4M289 65.5h4M289 64.5h4M289 63.5h4M289 61.5h4M289 60.5h4M289 59.5h4M289 58.5h4M289 56.5h4M289 55.5h4M289 54.5h4M289 52.5h4M289 51.5h4M289 50.5h4M289 49.5h4M289 131.5h8M289 118.5h8M289 106.5h8M289 93.5h8M289 80.5h8M289 68.5h8M289 55.5h8" stroke="#000" fill="none"/>
<rect x="336.5" y="48.5" width="170" height="92" fill="none" stroke="#000"/>
<text x="358 366 371 376 384 390 399 403 411 419 427 435 443 446 454 462 470 478" y="39">arrayOfBoundingBox</text>
<path d="M343.5 141v4M354.5 141v4M364.5 141v4M375.5 141v4M386.5 141v4M396.5 141v4M407.5 141v4M418.5 141v4M428.5 141v4M439.5 141v4M450.5 141v4M460.5 141v4M471.5 141v4M482.5 141v4M492.5 141v4M503.5 141v4M375.5 141v8M428.5 141v8M482.5 141v8M332 139.5h4M332 130.5h4M332 120.5h4M332 110.5h4M332 101.5h4M332 91.5h4M332 81.5h4M332 72.5h4M332 62.5h4M332 52.5h4M328 139.5h8M328 120.5h8M328 101.5h8M328 81.5h8M328 62.5h8" stroke="#000" fill="none"/>
<rect x="578.5" y="48.5" width="170" height="92" fill="none" stroke="#000"/>
<text x="622 630 638 646 654 662 665 673 681 689 697" y="39">boundingBox</text>
<path d="M578.5 141v4M583.5 141v4M589.5 141v4M595.5 141v4M601.5 141v4M607.5 141v4M613.5 141v4M618.5 141v4M624.5 141v4M630.5 141v4M636.5 141v4M642.5 141v4M648.5 141v4M654.5 141v4M660.5 141v4M665.5 141v4M671.5 141v4M677.5 141v4M683.5 141v4M689.5 141v4M695.5 141v4M701.5 141v4M707.5 141v4M712.5 141v4M718.5 141v4M724.5 141v4M730.5 141v4M736.5 141v4M742.5 141v4M748.5 141v4M589.5 141v8M660.5 141v8M730.5 141v8M574 140.5h4M574 136.5h4M574 132.5h4M574 128.5h4M574 124.5h4M574 120.5h4M574 117.5h4M574 113.5h4M574 109.5h4M574 105.5h4M574 101.5h4M574 97.5h4M574 94.5h4M574 90.5h4M574 86.5h4M574 82.5h4M574 78.5h4M574 74.5h4M574 70.5h4M574 67.5h4M574 63.5h4M574 59.5h4M574 55.5h4M574 51.5h4M574 48.5h4M570 132.5h8M570 113.5h8M570 94.5h8M570 74.5h8M570 55.5h8" stroke="#000" fill="none"/>
<rect x="820.5" y="48.5" width="169" height="92" fill="none" stroke="#000"/>
<text x="857 865 873 881 889 892 900 909 917 922 930 938 946" y="39">bundleDataSet</text>
<path d="M820.5 141v4M826.5 141v4M832.5 141v4M839.5 141v4M845.5 141v4M852.5 141v4M858.5 141v4M865.5 141v4M871.5 141v4M878.5 141v4M884.5 141v4M891.5 141v4M897.5 141v4M904.5 141v4M910.5 141v4M917.5 141v4M923.5 141v4M930.5 141v4M936.5 141v4M943.5 141v4M949.5 141v4M956.5 141v4M962.5 141v4M969.5 141v4M975.5 141v4M982.5 141v4M989.5 141v4M826.5 141v8M904.5 141v8M982.5 141v8M816 139.5h4M816 135.5h4M816 131.5h4M816 126.5h4M816 122.5h4M816 117.5h4M816 113.5h4M816 108.5h4M816 104.5h4M816 99.5h4M816 95.5h4M816 90.5h4M816 86.5h4M816 81.5h4M816 77.5h4M816 72.5h4M816 68.5h4M816 63.5h4M816 59.5h4M816 54.5h4M816 50.5h4M812 135.5h8M812 113.5h8M812 90.5h8M812 68.5h8M1013.5 48v93M1014 139.5h4M1014 135.5h4M1014 131.5h4M1014 126.5h4M1014 122.5h4M1014 117.5h4M1014 113.5h4M1014 108.5h4M1014 104.5h4M1014 99.5h4M1014 95.5h4M1014 90.5h4M1014 86.5h4M1014 81.5h4M1014 77.5h4M1014 72.5h4M1014 68.5h4M1014 63.5h4M1014 59.5h4M1014 54.5h4M1014 50.5h4M1014 135.5h8M1014 113.5h8M1014 90.5h8M1014 68.5h8" stroke="#000" fill="none"/>
<rect x="1061.5" y="48.5" width="170" height="92" fill="none" stroke="#000"/>
<text x="1092 1100 1108 1116 1124 1127 1135 1144 1152 1159 1166 1171 1174 1182 1187 1195" y="39">bundleDescriptor</text>
<path d="M1061.5 141v4M1068.5 141v4M1075.5 141v4M1082.5 141v4M1089.5 141v4M1096.5 141v4M1103.5 141v4M1110.5 141v4M1117.5 141v4M1124.5 141v4M1131.5 141v4M1138.5 141v4M1146.5 141v4M1153.5 141v4M1160.5 141v4M1167.5 141v4M1174.5 141v4M1181.5 141v4M1188.5 141v4M1195.5 141v4M1202.5 141v4M1209.5 141v4M1216.5 141v4M1223.5 141v4M1231.5 141v4M1075.5 141v8M1110.5 141v8M1146.5 141v8M1181.5 141v8M1216.5 141v8M1057 140.5h4M1057 130.5h4M1057 121.5h4M1057 112.5h4M1057 103.5h4M1057 94.5h4M1057 84.5h4M1057 75.5h4M1057 66.5h4M1057 57.5h4M1057 48.5h4M1053 140.5h8M1053 121.5h8M1053 103.5h8M1053 84.5h8M1053 66.5h8M1053 48.5h8" stroke="#000" fill="none"/>
<rect x="1303.5" y="48.5" width="170" height="92" fill="none" stroke="#000"/>
<text x="1340 1347 1355 1363 1371 1379 1382 1389 1397 1400 1408 1414 1422 1430" y="39">canonicalEvent</text>
<path d="M1317.5 141v4M1335.5 141v4M1352.5 141v4M1370.5 141v4M1387.5 141v4M1405.5 141v4M1422.5 141v4M1440.5 141v4M1457.5 141v4M1317.5 141v8M1387.5 141v8M1457.5 141v8M1299 140.5h4M1299 130.5h4M1299 121.5h4M1299 112.5h4M1299 103.5h4M1299 94.5h4M1299 84.5h4M1299 75.5h4M1299 66.5h4M1299 57.5h4M1299 48.5h4M1295 140.5h8M1295 121.5h8M1295 103.5h8M1295 84.5h8M1295 66.5h8M1295 48.5h8" stroke="#000" fill="none"/>
<rect x="96.5" y="188.5" width="168" height="92" fill="none" stroke="#000"/>
<text x="107 114 122 133 141 144 152 158 166 174 182 190 193 201 210 218 223 231 239 247" y="179">complexBundleDataSet</text>
<path d="M96.5 281v4M102.5 281v4M109.5 281v4M115.5 281v4M121.5 281v4M128.5 281v4M134.5 281v4M141.5 281v4M147.5 281v4M154.5 281v4M160.5 281v4M167.5 281v4M173.5 281v4M180.5 281v4M186.5 281v4M193.5 281v4M199.5 281v4M205.5 281v4M212.5 281v4M218.5 281v4M225.5 281v4M231.5 281v4M238.5 281v4M244.5 281v4M251.5 281v4M257.5 281v4M264.5 281v4M102.5 281v8M180.5 281v8M257.5 281v8M92 278.5h4M92 272.5h4M92 266.5h4M92 260.5h4M92 255.5h4M92 249.5h4M92 243.5h4M92 237.5h4M92 231.5h4M92 225.5h4M92 219.5h4M92 213.5h4M92 207.5h4M92 201.5h4M92 195.5h4M92 189.5h4M88 278.5h8M88 266.5h8M88 255.5h8M88 243.5h8M88 231.5h8M88 219.5h8M88 207.5h8M88 195.5h8" stroke="#000" fill="none"/>
<rect x="336.5" y="188.5" width="170" height="92" fill="none" stroke="#000"/>
<text x="344 351 359 370 378 381 389 395 403 411 419 427 430 438 447 455 460 468 476 484 489" y="179">complexBundleDataSet2</text>
<path d="M342.5 281v4M357.5 281v4M372.5 281v4M387.5 281v4M402.5 281v4M417.5 281v4M432.5 281v4M446.5 281v4M461.5 281v4M476.5 281v4M491.5 281v4M506.5 281v4M372.5 281v8M417.5 281v8M461.5 281v8M506.5 281v8M332 279.5h4M332 277.5h4M332 275.5h4M332 273.5h4M332 270.5h4M332 268.5h4M332 266.5h4M332 264.5h4M332 262.5h4M332 260.5h4M332 257.5h4M332 255.5h4M332 253.5h4M332 251.5h4M332 249.5h4M332 246.5h4M332 244.5h4M332 242.5h4M332 240.5h4M332 238.5h4M332 235.5h4M332 233.5h4M332 231.5h4M332 229.5h4M332 227.5h4M332 224.5h4M332 222.5h4M332 220.5h4M332 218.5h4M332 216.5h4M332 214.5h4M332 211.5h4M332 209.5h4M332 207.5h4M332 205.5h4M332 203.5h4M332 200.5h4M332 198.5h4M332 196.5h4M332 194.5h4M332 192.5h4M332 189.5h4M332 188.5h4M328 270.5h8M328 260.5h8M328 249.5h8M328 238.5h8M328 227.5h8M328 216.5h8M328 205.5h8M328 194.5h8" stroke="#000" fill="none"/>
<rect x="578.5" y="188.5" width="170" height="92" fill="none" stroke="#000"/>
<text x="556 563 571 582 590 593 601 607 615 623 631 636 644 647 655 663 668 676 684 690 697 702 710 721 730 738 746 754 762" y="179">complexCoordinateSystemDepend</text>
<path d="M578.5 281v4M592.5 281v4M606.5 281v4M620.5 281v4M634.5 281v4M648.5 281v4M663.5 281v4M677.5 281v4M691.5 281v4M705.5 281v4M719.5 281v4M733.5 281v4M748.5 281v4M592.5 281v8M663.5 281v8M733.5 281v8M574 280.5h4M574 270.5h4M574 261.5h4M574 252.5h4M574 243.5h4M574 234.5h4M574 224.5h4M574 215.5h4M574 206.5h4M574 197.5h4M574 188.5h4M570 280.5h8M570 261.5h8M570 243.5h8M570 224.5h8M570 206.5h8M570 188.5h8" stroke="#000" fill="none"/>
<rect x="820.5" y="188.5" width="169" height="92" fill="none" stroke="#000"/>
<text x="851 858 866 877 885 888 896 902 911 919 930 938 946 951" y="179">complexNumbers</text>
<path d="M827.5 281v4M842.5 281v4M858.5 281v4M873.5 281v4M888.5 281v4M904.5 281v4M919.5 281v4M935.5 281v4M950.5 281v4M965.5 281v4M981.5 281v4M827.5 281v8M904.5 281v8M981.5 281v8M816 275.5h4M816 266.5h4M816 258.5h4M816 250.5h4M816 242.5h4M816 234.5h4M816 226.5h4M816 217.5h4M816 209.5h4M816 201.5h4M816 193.5h4M812 266.5h8M812 250.5h8M812 234.5h8M812 217.5h8M812 201.5h8" stroke="#000" fill="none"/>
<rect x="1061.5" y="188.5" width="170" height="92" fill="none" stroke="#000"/>
<text x="1094 1101 1109 1120 1128 1136 1143 1146 1151 1159 1162 1173 1181 1189" y="179">compositeImage</text>
<path d="M1061.5 281v4M1065.5 281v4M1069.5 281v4M1073.5 281v4M1078.5 281v4M1082.5 281v4M1086.5 281v4M1090.5 281v4M1095.5 281v4M1099.5 281v4M1103.5 281v4M1107.5 281v4M1112.5 281v4M1116.5 281v4M1120.5 281v4M1124.5 281v4M1129.5 281v4M1133.5 281v4M1137.5 281v4M1141.5 281v4M1146.5 281v4M1150.5 281v4M1154.5 281v4M1158.5 281v4M1163.5 281v4M1167.5 281v4M1171.5 281v4M1175.5 281v4M1180.5 281v4M1184.5 281v4M1188.5 281v4M1192.5 281v4M1197.5 281v4M1201.5 281v4M1205.5 281v4M1209.5 281v4M1214.5 281v4M1218.5 281v4M1222.5 281v4M1226.5 281v4M1231.5 281v4M1061.5 281v8M1103.5 281v8M1146.5 281v8M1188.5 281v8M1231.5 281v8M1057 273.5h4M1057 269.5h4M1057 266.5h4M1057 263.5h4M1057 262.5h4M1057 260.5h4M1057 259.5h4M1057 258.5h4M1057 250.5h4M1057 246.5h4M1057 243.5h4M1057 240.5h4M1057 239.5h4M1057 237.5h4M1057 236.5h4M1057 235.5h4M1057 227.5h4M1057 223.5h4M1057 220.5h4M1057 217.5h4M1057 216.5h4M1057 214.5h4M1057 213.5h4M1057 212.5h4M1057 204.5h4M1057 200.5h4M1057 197.5h4M1057 194.5h4M1057 193.5h4M1057 191.5h4M1057 190.5h4M1057 189.5h4M1053 280.5h8M1053 257.5h8M1053 234.5h8M1053 211.5h8M1053 188.5h8" stroke="#000" fill="none"/>
<rect x="1303.5" y="188.5" width="170" height="92" fill="none" stroke="#000"/>
<text x="1368 1376 1384 1389 1397" y="179">datum</text>
<path d="M1303.5 281v4M1320.5 281v4M1337.5 281v4M1354.5 281v4M1371.5 281v4M1388.5 281v4M1405.5 281v4M1422.5 281v4M1439.5 281v4M1456.5 281v4M1473.5 281v4M1303.5 281v8M1388.5 281v8M1473.5 281v8M1299 280.5h4M1299 270.5h4M1299 261.5h4M1299 252.5h4M1299 243.5h4M1299 234.5h4M1299 224.5h4M1299 215.5h4M1299 206.5h4M1299 197.5h4M1299 188.5h4M1295 280.5h8M1295 261.5h8M1295 243.5h8M1295 224.5h8M1295 206.5h8M1295 188.5h8" stroke="#000" fill="none"/>
<rect x="96.5" y="328.5" width="168" height="92" fill="none" stroke="#000"/>
<text x="140 148 156 161 169 180 188 196 204 212" y="319">datumRange</text>
<path d="M98.5 421v4M104.5 421v4M110.5 421v4M116.5 421v4M121.5 421v4M127.5 421v4M133.5 421v4M139.5 421v4M145.5 421v4M151.5 421v4M156.5 421v4M162.5 421v4M168.5 421v4M174.5 421v4M180.5 421v4M186.5 421v4M191.5 421v4M197.5 421v4M203.5 421v4M209.5 421v4M215.5 421v4M221.5 421v4M226.5 421v4M232.5 421v4M238.5 421v4M244.5 421v4M250.5 421v4M256.5 421v4M261.5 421v4M110.5 421v8M180.5 421v8M250.5 421v8M92 420.5h4M92 410.5h4M92 401.5h4M92 392.5h4M92 383.5h4M92 374.5h4M92 364.5h4M92 355.5h4M92 346.5h4M92 337.5h4M92 328.5h4M88 420.5h8M88 401.5h8M88 383.5h8M88 364.5h8M88 346.5h8M88 328.5h8" stroke="#000" fill="none"/>
<rect x="336.5" y="328.5" width="170" height="92" fill="none" stroke="#000"/>
<text x="389 397 403 411 419 424 431 437 440 447" y="319">eventsList</text>
<path d="M338.5 421v4M344.5 421v4M350.5 421v4M356.5 421v4M362.5 421v4M367.5 421v4M373.5 421v4M379.5 421v4M385.5 421v4M391.5 421v4M397.5 421v4M403.5 421v4M409.5 421v4M415.5 421v4M421.5 421v4M426.5 421v4M432.5 421v4M438.5 421v4M444.5 421v4M450.5 421v4M456.5 421v4M462.5 421v4M468.5 421v4M474.5 421v4M480.5 421v4M485.5 421v4M491.5 421v4M497.5 421v4M503.5 421v4M350.5 421v8M421.5 421v8M491.5 421v8M332 420.5h4M332 410.5h4M332 401.5h4M332 392.5h4M332 383.5h4M332 374.5h4M332 364.5h4M332 355.5h4M332 346.5h4M332 337.5h4M332 328.5h4M328 420.5h8M328 401.5h8M328 383.5h8M328 364.5h8M328 346.5h8M328 328.5h8" stroke="#000" fill="none"/>
<rect x="578.5" y="328.5" width="170" height="92" fill="none" stroke="#000"/>
<text x="625 628 633 638 646 654 662 665 673 678 681 689 692" y="319">irregularJoin</text>
<path d="M582.5 421v4M596.5 421v4M610.5 421v4M624.5 421v4M637.5 421v4M651.5 421v4M665.5 421v4M679.5 421v4M693.5 421v4M707.5 421v4M720.5 421v4M734.5 421v4M748.5 421v4M582.5 421v8M637.5 421v8M693.5 421v8M748.5 421v8M574 416.5h4M574 414.5h4M574 412.5h4M574 411.5h4M574 410.5h4M574 409.5h4M574 408.5h4M574 408.5h4M574 403.5h4M574 401.5h4M574 399.5h4M574 398.5h4M574 397.5h4M574 396.5h4M574 396.5h4M574 395.5h4M574 391.5h4M574 388.5h4M574 387.5h4M574 386.5h4M574 385.5h4M574 384.5h4M574 383.5h4M574 382.5h4M574 378.5h4M574 376.5h4M574 374.5h4M574 373.5h4M574 372.5h4M574 371.5h4M574 370.5h4M574 370.5h4M574 365.5h4M574 363.5h4M574 361.5h4M574 360.5h4M574 359.5h4M574 358.5h4M574 358.5h4M574 357.5h4M574 353.5h4M574 350.5h4M574 349.5h4M574 347.5h4M574 346.5h4M574 346.5h4M574 345.5h4M574 344.5h4M574 340.5h4M574 338.5h4M574 336.5h4M574 335.5h4M574 334.5h4M574 333.5h4M574 332.5h4M574 332.5h4M574 328.5h4M570 420.5h8M570 407.5h8M570 394.5h8M570 382.5h8M570 369.5h8M570 356.5h8M570 344.5h8M570 331.5h8M772.5 328v93M773 416.5h4M773 410.5h4M773 404.5h4M773 398.5h4M773 392.5h4M773 386.5h4M773 380.5h4M773 374.5h4M773 368.5h4M773 362.5h4M773 356.5h4M773 350.5h4M773 344.5h4M773 338.5h4M773 332.5h4M773 416.5h8M773 404.5h8M773 392.5h8M773 380.5h8M773 368.5h8M773 356.5h8M773 344.5h8M773 332.5h8" stroke="#000" fill="none"/>
<rect x="820.5" y="328.5" width="169" height="92" fill="none" stroke="#000"/>
<text x="850 853 861 869 877 884 890 897 904 913 921 928 936 941 946 954" y="319">legacyXYZScatter</text>
<path d="M827.5 421v4M842.5 421v4M858.5 421v4M873.5 421v4M888.5 421v4M904.5 421v4M919.5 421v4M934.5 421v4M949.5 421v4M965.5 421v4M980.5 421v4M827.5 421v8M873.5 421v8M919.5 421v8M965.5 421v8M816 418.5h4M816 415.5h4M816 412.5h4M816 410.5h4M816 407.5h4M816 404.5h4M816 401.5h4M816 398.5h4M816 396.5h4M816 393.5h4M816 390.5h4M816 387.5h4M816 385.5h4M816 382.5h4M816 379.5h4M816 376.5h4M816 374.5h4M816 371.5h4M816 368.5h4M816 365.5h4M816 362.5h4M816 360.5h4M816 357.5h4M816 354.5h4M816 351.5h4M816 349.5h4M816 346.5h4M816 343.5h4M816 340.5h4M816 338.5h4M816 335.5h4M816 332.5h4M816 329.5h4M812 415.5h8M812 401.5h8M812 387.5h8M812 374.5h8M812 360.5h8M812 346.5h8M812 332.5h8M1013.5 328v93M1014 416.5h4M1014 410.5h4M1014 404.5h4M1014 398.5h4M1014 392.5h4M1014 386.5h4M1014 380.5h4M1014 374.5h4M1014 368.5h4M1014 362.5h4M1014 356.5h4M1014 350.5h4M1014 344.5h4M1014 338.5h4M1014 332.5h4M1014 416.5h8M1014 404.5h8M1014 392.5h8M1014 380.5h8M1014 368.5h8M1014 356.5h8M1014 344.5h8M1014 332.5h8" stroke="#000" fill="none"/>
<rect x="1061.5" y="328.5" width="170" height="92" fill="none" stroke="#000"/>
<text x="1092 1100 1108 1119 1122 1130 1138 1141 1149 1154 1162 1169 1177 1182 1187 1195" y="319">nominalAtScatter</text>
<path d="M1063.5 421v4M1067.5 421v4M1070.5 421v4M1074.5 421v4M1078.5 421v4M1082.5 421v4M1085.5 421v4M1089.5 421v4M1093.5 421v4M1097.5 421v4M1100.5 421v4M1104.5 421v4M1108.5 421v4M1112.5 421v4M1115.5 421v4M1119.5 421v4M1123.5 421v4M1127.5 421v4M1130.5 421v4M1134.5 421v4M1138.5 421v4M1142.5 421v4M1145.5 421v4M1149.5 421v4M1153.5 421v4M1157.5 421v4M1160.5 421v4M1164.5 421v4M1168.5 421v4M1172.5 421v4M1175.5 421v4M1179.5 421v4M1183.5 421v4M1187.5 421v4M1190.5 421v4M1194.5 421v4M1198.5 421v4M1202.5 421v4M1205.5 421v4M1209.5 421v4M1213.5 421v4M1217.5 421v4M1220.5 421v4M1224.5 421v4M1228.5 421v4M1063.5 421v8M1100.5 421v8M1138.5 421v8M1175.5 421v8M1213.5 421v8M1057 418.5h4M1057 415.5h4M1057 411.5h4M1057 408.5h4M1057 404.5h4M1057 401.5h4M1057 397.5h4M1057 394.5h4M1057 390.5h4M1057 387.5h4M1057 383.5h4M1057 380.5h4M1057 377.5h4M1057 373.5h4M1057 370.5h4M1057 366.5h4M1057 363.5h4M1057 359.5h4M1057 356.5h4M1057 352.5h4M1057 349.5h4M1057 345.5h4M1057 342.5h4M1057 338.5h4M1057 335.5h4M1057 332.5h4M1057 328.5h4M1053 418.5h8M1053 401.5h8M1053 383.5h8M1053 366.5h8M1053 349.5h8M1053 332.5h8" stroke="#000" fill="none"/>
<rect x="1303.5" y="328.5" width="170" height="92" fill="none" stroke="#000"/>
<text x="1321 1326 1334 1342 1349 1357 1365 1368 1376 1384 1392 1399 1404 1412 1415 1423 1430 1435 1443 1448" y="319">rank1AlongTrajectory</text>
<path d="M1303.5 421v4M1310.5 421v4M1318.5 421v4M1326.5 421v4M1333.5 421v4M1341.5 421v4M1349.5 421v4M1357.5 421v4M1364.5 421v4M1372.5 421v4M1380.5 421v4M1388.5 421v4M1395.5 421v4M1403.5 421v4M1411.5 421v4M1418.5 421v4M1426.5 421v4M1434.5 421v4M1442.5 421v4M1449.5 421v4M1457.5 421v4M1465.5 421v4M1473.5 421v4M1310.5 421v8M1349.5 421v8M1388.5 421v8M1426.5 421v8M1465.5 421v8M1299 415.5h4M1299 407.5h4M1299 399.5h4M1299 390.5h4M1299 382.5h4M1299 374.5h4M1299 365.5h4M1299 357.5h4M1299 348.5h4M1299 340.5h4M1299 332.5h4M1295 415.5h8M1295 399.5h8M1295 382.5h8M1295 365.5h8M1295 348.5h8M1295 332.5h8" stroke="#000" fill="none"/>
<rect x="96.5" y="468.5" width="168" height="92" fill="none" stroke="#000"/>
<text x="125 130 138 146 153 161 169 174 181 188 196 203 211 216 221 229" y="459">rank1AtXYScatter</text>
<path d="M98.5 561v4M102.5 561v4M106.5 561v4M110.5 561v4M115.5 561v4M119.5 561v4M123.5 561v4M127.5 561v4M131.5 561v4M136.5 561v4M140.5 561v4M144.5 561v4M148.5 561v4M153.5 561v4M157.5 561v4M161.5 561v4M165.5 561v4M169.5 561v4M174.5 561v4M178.5 561v4M182.5 561v4M186.5 561v4M190.5 561v4M195.5 561v4M199.5 561v4M203.5 561v4M207.5 561v4M212.5 561v4M216.5 561v4M220.5 561v4M224.5 561v4M228.5 561v4M233.5 561v4M237.5 561v4M241.5 561v4M245.5 561v4M249.5 561v4M254.5 561v4M258.5 561v4M262.5 561v4M136.5 561v8M178.5 561v8M220.5 561v8M262.5 561v8M92 559.5h4M92 554.5h4M92 550.5h4M92 546.5h4M92 542.5h4M92 537.5h4M92 533.5h4M92 529.5h4M92 525.5h4M92 520.5h4M92 516.5h4M92 512.5h4M92 507.5h4M92 503.5h4M92 499.5h4M92 495.5h4M92 490.5h4M92 486.5h4M92 482.5h4M92 478.5h4M92 473.5h4M92 469.5h4M88 559.5h8M88 537.5h8M88 516.5h8M88 495.5h8M88 473.5h8" stroke="#000" fill="none"/>
<rect x="336.5" y="468.5" width="170" height="92" fill="none" stroke="#000"/>
<text x="390 395 403 411 418 426 434 437 445" y="459">rank2Bins</text>
<path d="M336.5 561v4M343.5 561v4M351.5 561v4M358.5 561v4M366.5 561v4M373.5 561v4M380.5 561v4M388.5 561v4M395.5 561v4M402.5 561v4M410.5 561v4M417.5 561v4M424.5 561v4M432.5 561v4M439.5 561v4M446.5 561v4M454.5 561v4M461.5 561v4M468.5 561v4M476.5 561v4M483.5 561v4M491.5 561v4M498.5 561v4M505.5 561v4M351.5 561v8M424.5 561v8M498.5 561v8M332 559.5h4M332 557.5h4M332 555.5h4M332 553.5h4M332 551.5h4M332 549.5h4M332 547.5h4M332 545.5h4M332 542.5h4M332 540.5h4M332 538.5h4M332 536.5h4M332 534.5h4M332 532.5h4M332 530.5h4M332 527.5h4M332 525.5h4M332 523.5h4M332 521.5h4M332 519.5h4M332 517.5h4M332 515.5h4M332 512.5h4M332 510.5h4M332 508.5h4M332 506.5h4M332 504.5h4M332 502.5h4M332 500.5h4M332 498.5h4M332 495.5h4M332 493.5h4M332 491.5h4M332 489.5h4M332 487.5h4M332 485.5h4M332 483.5h4M332 480.5h4M332 478.5h4M332 476.5h4M332 474.5h4M332 472.5h4M332 470.5h4M332 468.5h4M328 555.5h8M328 545.5h8M328 534.5h8M328 523.5h8M328 512.5h8M328 502.5h8M328 491.5h8M328 480.5h8M328 470.5h8" stroke="#000" fill="none"/>
<rect x="578.5" y="468.5" width="170" height="92" fill="none" stroke="#000"/>
<text x="591 596 604 612 619 627 635 643 654 662 665 673 679 688 696 707 715 723 728" y="459">rank2ComplexNumbers</text>
<path d="M602.5 561v4M632.5 561v4M662.5 561v4M693.5 561v4M723.5 561v4M602.5 561v8M662.5 561v8M723.5 561v8M574 558.5h4M574 556.5h4M574 554.5h4M574 552.5h4M574 550.5h4M574 548.5h4M574 546.5h4M574 544.5h4M574 541.5h4M574 539.5h4M574 537.5h4M574 535.5h4M574 533.5h4M574 531.5h4M574 529.5h4M574 526.5h4M574 524.5h4M574 522.5h4M574 520.5h4M574 518.5h4M574 516.5h4M574 514.5h4M574 511.5h4M574 509.5h4M574 507.5h4M574 505.5h4M574 503.5h4M574 501.5h4M574 499.5h4M574 496.5h4M574 494.5h4M574 492.5h4M574 490.5h4M574 488.5h4M574 486.5h4M574 484.5h4M574 481.5h4M574 479.5h4M574 477.5h4M574 475.5h4M574 473.5h4M574 471.5h4M574 469.5h4M570 556.5h8M570 546.5h8M570 535.5h8M570 524.5h8M570 514.5h8M570 503.5h8M570 492.5h8M570 481.5h8M570 471.5h8" stroke="#000" fill="none"/>
<rect x="820.5" y="468.5" width="169" height="92" fill="none" stroke="#000"/>
<text x="856 861 869 877 884 892 903 911 917 925 929 937 942" y="459">rank2Waveform</text>
<path d="M827.5 561v4M904.5 561v4M981.5 561v4M827.5 561v8M981.5 561v8M816 556.5h4M816 551.5h4M816 546.5h4M816 541.5h4M816 536.5h4M816 531.5h4M816 526.5h4M816 521.5h4M816 516.5h4M816 511.5h4M816 506.5h4M816 501.5h4M816 496.5h4M816 491.5h4M816 486.5h4M816 481.5h4M816 476.5h4M816 471.5h4M812 546.5h8M812 521.5h8M812 496.5h8M812 471.5h8" stroke="#000" fill="none"/>
<rect x="1061.5" y="468.5" width="170" height="92" fill="none" stroke="#000"/>
<text x="1056 1061 1069 1077 1084 1092 1103 1111 1117 1125 1129 1137 1142 1153 1161 1169 1177 1184 1192 1201 1205 1209 1216 1224 1229" y="459">rank2WaveformRank2Offsets</text>
<path d="M1068.5 561v4M1145.5 561v4M1223.5 561v4M1068.5 561v8M1223.5 561v8M1057 556.5h4M1057 551.5h4M1057 546.5h4M1057 541.5h4M1057 536.5h4M1057 531.5h4M1057 526.5h4M1057 521.5h4M1057 516.5h4M1057 511.5h4M1057 506.5h4M1057 501.5h4M1057 496.5h4M1057 491.5h4M1057 486.5h4M1057 481.5h4M1057 476.5h4M1057 471.5h4M1053 546.5h8M1053 521.5h8M1053 496.5h8M1053 471.5h8" stroke="#000" fill="none"/>
<rect x="1303.5" y="468.5" width="170" height="92" fill="none" stroke="#000"/>
<text x="1339 1344 1352 1360 1367 1375 1386 1394 1400 1408 1412 1420 1425" y="459">rank3Waveform</text>
<path d="M1306.5 561v4M1343.5 561v4M1380.5 561v4M1417.5 561v4M1454.5 561v4M1306.5 561v8M1380.5 561v8M1454.5 561v8M1299 555.5h4M1299 547.5h4M1299 538.5h4M1299 530.5h4M1299 522.5h4M1299 513.5h4M1299 505.5h4M1299 497.5h4M1299 488.5h4M1299 480.5h4M1299 472.5h4M1295 555.5h8M1295 538.5h8M1295 522.5h8M1295 505.5h8M1295 488.5h8M1295 472.5h8M1497.5 468v93M1498 556.5h4M1498 551.5h4M1498 546.5h4M1498 541.5h4M1498 536.5h4M1498 531.5h4M1498 526.5h4M1498 521.5h4M1498 516.5h4M1498 511.5h4M1498 506.5h4M1498 501.5h4M1498 496.5h4M1498 491.5h4M1498 486.5h4M1498 481.5h4M1498 476.5h4M1498 471.5h4M1498 546.5h8M1498 521.5h8M1498 496.5h8M1498 471.5h8" stroke="#000" fill="none"/>
<rect x="96.5" y="608.5" width="168" height="92" fill="none" stroke="#000"/>
<text x="120 125 133 141 148 156 167 175 181 189 193 201 206 217 224 231" y="599">rank3WaveformXYZ</text>
<path d="M103.5 701v4M179.5 701v4M256.5 701v4M103.5 701v8M256.5 701v8M92 695.5h4M92 687.5h4M92 678.5h4M92 670.5h4M92 662.5h4M92 653.5h4M92 645.5h4M92 637.5h4M92 628.5h4M92 620.5h4M92 612.5h4M88 612.5h8M88 653.5h8M88 695.5h8" stroke="#000" fill="none"/>
<rect x="336.5" y="608.5" width="170" height="92" fill="none" stroke="#000"/>
<text x="350 357 364 372 375 383 388 396 404 409 412 420 427 438 441 446 454 462 467 472 480 485" y="599">scalarSeriesWithErrors</text>
<path d="M340.5 701v4M347.5 701v4M355.5 701v4M362.5 701v4M369.5 701v4M377.5 701v4M384.5 701v4M391.5 701v4M399.5 701v4M406.5 701v4M413.5 701v4M421.5 701v4M428.5 701v4M435.5 701v4M443.5 701v4M450.5 701v4M457.5 701v4M465.5 701v4M472.5 701v4M480.5 701v4M487.5 701v4M494.5 701v4M502.5 701v4M340.5 701v8M413.5 701v8M487.5 701v8M332 700.5h4M332 692.5h4M332 684.5h4M332 677.5h4M332 669.5h4M332 661.5h4M332 653.5h4M332 646.5h4M332 638.5h4M332 630.5h4M332 622.5h4M332 615.5h4M332 608.5h4M328 692.5h8M328 677.5h8M328 661.5h8M328 646.5h8M328 630.5h8M328 615.5h8" stroke="#000" fill="none"/>
<rect x="578.5" y="608.5" width="170" height="92" fill="none" stroke="#000"/>
<text x="610 617 624 632 635 643 648 655 658 669 677 685 693 698 701 709" y="599">scalarTimeSeries</text>
<path d="M585.5 701v4M609.5 701v4M633.5 701v4M656.5 701v4M680.5 701v4M704.5 701v4M728.5 701v4M585.5 701v8M656.5 701v8M728.5 701v8M574 699.5h4M574 697.5h4M574 695.5h4M574 693.5h4M574 690.5h4M574 688.5h4M574 686.5h4M574 684.5h4M574 682.5h4M574 680.5h4M574 677.5h4M574 675.5h4M574 673.5h4M574 671.5h4M574 669.5h4M574 666.5h4M574 664.5h4M574 662.5h4M574 660.5h4M574 658.5h4M574 655.5h4M574 653.5h4M574 651.5h4M574 649.5h4M574 647.5h4M574 644.5h4M574 642.5h4M574 640.5h4M574 638.5h4M574 636.5h4M574 634.5h4M574 631.5h4M574 629.5h4M574 627.5h4M574 625.5h4M574 623.5h4M574 620.5h4M574 618.5h4M574 616.5h4M574 614.5h4M574 612.5h4M574 609.5h4M574 608.5h4M570 690.5h8M570 680.5h8M570 669.5h8M570 658.5h8M570 647.5h8M570 636.5h8M570 625.5h8M570 614.5h8" stroke="#000" fill="none"/>
<rect x="820.5" y="608.5" width="169" height="92" fill="none" stroke="#000"/>
<text x="844 851 854 865 873 876 884 892 900 908 915 920 925 933 941 946 954" y="599">simpleSpectrogram</text>
<path d="M831.5 701v4M868.5 701v4M906.5 701v4M943.5 701v4M981.5 701v4M831.5 701v8M906.5 701v8M981.5 701v8M816 699.5h4M816 696.5h4M816 693.5h4M816 690.5h4M816 688.5h4M816 685.5h4M816 682.5h4M816 680.5h4M816 677.5h4M816 674.5h4M816 671.5h4M816 669.5h4M816 666.5h4M816 663.5h4M816 660.5h4M816 658.5h4M816 655.5h4M816 652.5h4M816 650.5h4M816 647.5h4M816 644.5h4M816 641.5h4M816 639.5h4M816 636.5h4M816 633.5h4M816 631.5h4M816 628.5h4M816 625.5h4M816 622.5h4M816 620.5h4M816 617.5h4M816 614.5h4M816 612.5h4M816 609.5h4M812 693.5h8M812 680.5h8M812 666.5h8M812 652.5h8M812 639.5h8M812 625.5h8M812 612.5h8M1013.5 608v93M1014 696.5h4M1014 690.5h4M1014 684.5h4M1014 678.5h4M1014 672.5h4M1014 666.5h4M1014 660.5h4M1014 654.5h4M1014 648.5h4M1014 642.5h4M1014 636.5h4M1014 630.5h4M1014 624.5h4M1014 618.5h4M1014 612.5h4M1014 696.5h8M1014 684.5h8M1014 672.5h8M1014 660.5h8M1014 648.5h8M1014 636.5h8M1014 624.5h8M1014 612.5h8" stroke="#000" fill="none"/>
<rect x="1061.5" y="608.5" width="170" height="92" fill="none" stroke="#000"/>
<text x="1051 1058 1061 1072 1080 1083 1091 1099 1107 1115 1122 1127 1132 1140 1148 1153 1161 1172 1179 1182 1193 1201 1209 1217 1222 1225 1233" y="599">simpleSpectrogramTimeSeries</text>
<path d="M1061.5 701v4M1067.5 701v4M1073.5 701v4M1080.5 701v4M1087.5 701v4M1093.5 701v4M1100.5 701v4M1106.5 701v4M1113.5 701v4M1119.5 701v4M1126.5 701v4M1132.5 701v4M1139.5 701v4M1146.5 701v4M1152.5 701v4M1159.5 701v4M1165.5 701v4M1172.5 701v4M1178.5 701v4M1185.5 701v4M1191.5 701v4M1198.5 701v4M1205.5 701v4M1211.5 701v4M1218.5 701v4M1224.5 701v4M1231.5 701v4M1067.5 701v8M1146.5 701v8M1224.5 701v8M1057 698.5h4M1057 696.5h4M1057 687.5h4M1057 682.5h4M1057 679.5h4M1057 677.5h4M1057 674.5h4M1057 673.5h4M1057 671.5h4M1057 670.5h4M1057 661.5h4M1057 656.5h4M1057 653.5h4M1057 650.5h4M1057 648.5h4M1057 646.5h4M1057 645.5h4M1057 643.5h4M1057 634.5h4M1057 630.5h4M1057 626.5h4M1057 624.5h4M1057 622.5h4M1057 620.5h4M1057 618.5h4M1057 617.5h4M1057 608.5h4M1053 695.5h8M1053 669.5h8M1053 642.5h8M1053 616.5h8M1255.5 608v93M1256 696.5h4M1256 690.5h4M1256 684.5h4M1256 678.5h4M1256 672.5h4M1256 666.5h4M1256 660.5h4M1256 654.5h4M1256 648.5h4M1256 642.5h4M1256 636.5h4M1256 630.5h4M1256 624.5h4M1256 618.5h4M1256 612.5h4M1256 696.5h8M1256 684.5h8M1256 672.5h8M1256 660.5h8M1256 648.5h8M1256 636.5h8M1256 624.5h8M1256 612.5h8" stroke="#000" fill="none"/>
<rect x="1303.5" y="608.5" width="170" height="92" fill="none" stroke="#000"/>
<text x="1358 1363 1368 1376 1379 1387 1394 1399 1407 1412" y="599">trajectory</text>
<path d="M1303.5 701v4M1310.5 701v4M1316.5 701v4M1323.5 701v4M1329.5 701v4M1336.5 701v4M1342.5 701v4M1349.5 701v4M1355.5 701v4M1362.5 701v4M1368.5 701v4M1375.5 701v4M1381.5 701v4M1387.5 701v4M1394.5 701v4M1400.5 701v4M1407.5 701v4M1413.5 701v4M1420.5 701v4M1426.5 701v4M1433.5 701v4M1439.5 701v4M1446.5 701v4M1452.5 701v4M1458.5 701v4M1465.5 701v4M1471.5 701v4M1310.5 701v8M1375.5 701v8M1439.5 701v8M1299 699.5h4M1299 695.5h4M1299 691.5h4M1299 687.5h4M1299 683.5h4M1299 679.5h4M1299 674.5h4M1299 670.5h4M1299 666.5h4M1299 662.5h4M1299 658.5h4M1299 654.5h4M1299 649.5h4M1299 645.5h4M1299 641.5h4M1299 637.5h4M1299 633.5h4M1299 629.5h4M1299 624.5h4M1299 620.5h4M1299 616.5h4M1299 612.5h4M1299 608.5h4M1295 695.5h8M1295 674.5h8M1295 654.5h8M1295 633.5h8M1295 612.5h8" stroke="#000" fill="none"/>
<rect x="96.5" y="748.5" width="168" height="92" fill="none" stroke="#000"/>
<text x="129 137 145 148 152 160 165 176 184 192 200 208 216 223" y="739">uniformCadence</text>
<path d="M105.5 841v4M120.5 841v4M135.5 841v4M150.5 841v4M165.5 841v4M180.5 841v4M195.5 841v4M210.5 841v4M225.5 841v4M240.5 841v4M256.5 841v4M105.5 841v8M180.5 841v8M256.5 841v8M92 839.5h4M92 837.5h4M92 835.5h4M92 833.5h4M92 831.5h4M92 829.5h4M92 827.5h4M92 825.5h4M92 823.5h4M92 821.5h4M92 818.5h4M92 816.5h4M92 814.5h4M92 812.5h4M92 810.5h4M92 808.5h4M92 806.5h4M92 804.5h4M92 802.5h4M92 800.5h4M92 798.5h4M92 796.5h4M92 794.5h4M92 791.5h4M92 789.5h4M92 787.5h4M92 785.5h4M92 783.5h4M92 781.5h4M92 779.5h4M92 777.5h4M92 775.5h4M92 773.5h4M92 771.5h4M92 769.5h4M92 766.5h4M92 764.5h4M92 762.5h4M92 760.5h4M92 758.5h4M92 756.5h4M92 754.5h4M92 752.5h4M92 750.5h4M92 748.5h4M88 835.5h8M88 825.5h8M88 814.5h8M88 804.5h8M88 794.5h8M88 783.5h8M88 773.5h8M88 762.5h8M88 752.5h8" stroke="#000" fill="none"/>
<rect x="336.5" y="748.5" width="170" height="92" fill="none" stroke="#000"/>
<text x="334 342 350 353 357 365 370 381 389 397 402 405 413 424 432 437 442 445 452 460 468 476 484 492 499" y="739">uniformRatiometricCadence</text>
<path d="M345.5 841v4M360.5 841v4M375.5 841v4M390.5 841v4M406.5 841v4M421.5 841v4M436.5 841v4M452.5 841v4M467.5 841v4M482.5 841v4M498.5 841v4M345.5 841v8M421.5 841v8M498.5 841v8M332 834.5h4M332 830.5h4M332 827.5h4M332 825.5h4M332 823.5h4M332 822.5h4M332 821.5h4M332 820.5h4M332 812.5h4M332 808.5h4M332 806.5h4M332 804.5h4M332 802.5h4M332 800.5h4M332 799.5h4M332 798.5h4M332 791.5h4M332 787.5h4M332 784.5h4M332 782.5h4M332 780.5h4M332 779.5h4M332 778.5h4M332 777.5h4M332 769.5h4M332 766.5h4M332 763.5h4M332 761.5h4M332 759.5h4M332 758.5h4M332 756.5h4M332 755.5h4M332 748.5h4M328 840.5h8M328 819.5h8M328 797.5h8M328 776.5h8M328 754.5h8" stroke="#000" fill="none"/>
<rect x="578.5" y="748.5" width="170" height="92" fill="none" stroke="#000"/>
<text x="609 615 623 630 635 643 648 655 658 669 677 685 693 698 701 709" y="739">vectorTimeSeries</text>
<path d="M578.5 841v4M584.5 841v4M591.5 841v4M597.5 841v4M604.5 841v4M610.5 841v4M617.5 841v4M623.5 841v4M630.5 841v4M636.5 841v4M643.5 841v4M649.5 841v4M656.5 841v4M663.5 841v4M669.5 841v4M676.5 841v4M682.5 841v4M689.5 841v4M695.5 841v4M702.5 841v4M708.5 841v4M715.5 841v4M721.5 841v4M728.5 841v4M734.5 841v4M741.5 841v4M748.5 841v4M584.5 841v8M663.5 841v8M741.5 841v8M574 840.5h4M574 839.5h4M574 837.5h4M574 835.5h4M574 834.5h4M574 832.5h4M574 830.5h4M574 829.5h4M574 827.5h4M574 826.5h4M574 824.5h4M574 822.5h4M574 821.5h4M574 819.5h4M574 817.5h4M574 816.5h4M574 814.5h4M574 812.5h4M574 811.5h4M574 809.5h4M574 808.5h4M574 806.5h4M574 804.5h4M574 803.5h4M574 801.5h4M574 799.5h4M574 798.5h4M574 796.5h4M574 795.5h4M574 793.5h4M574 791.5h4M574 790.5h4M574 788.5h4M574 786.5h4M574 785.5h4M574 783.5h4M574 782.5h4M574 780.5h4M574 778.5h4M574 777.5h4M574 775.5h4M574 773.5h4M574 772.5h4M574 770.5h4M574 768.5h4M574 767.5h4M574 765.5h4M574 764.5h4M574 762.5h4M574 760.5h4M574 759.5h4M574 757.5h4M574 755.5h4M574 754.5h4M574 752.5h4M574 751.5h4M574 749.5h4M574 748.5h4M570 824.5h8M570 808.5h8M570 791.5h8M570 775.5h8M570 759.5h8" stroke="#000" fill="none"/>
<rect x="820.5" y="748.5" width="169" height="92" fill="none" stroke="#000"/>
<text x="875 881 887 895 902 910 915 920 928" y="739">xyScatter</text>
<path d="M820.5 841v4M823.5 841v4M828.5 841v4M832.5 841v4M836.5 841v4M841.5 841v4M845.5 841v4M849.5 841v4M853.5 841v4M858.5 841v4M862.5 841v4M866.5 841v4M871.5 841v4M875.5 841v4M879.5 841v4M883.5 841v4M888.5 841v4M892.5 841v4M896.5 841v4M901.5 841v4M905.5 841v4M909.5 841v4M913.5 841v4M918.5 841v4M922.5 841v4M926.5 841v4M930.5 841v4M935.5 841v4M939.5 841v4M943.5 841v4M948.5 841v4M952.5 841v4M956.5 841v4M960.5 841v4M965.5 841v4M969.5 841v4M973.5 841v4M978.5 841v4M982.5 841v4M986.5 841v4M862.5 841v8M905.5 841v8M948.5 841v8M816 838.5h4M816 836.5h4M816 833.5h4M816 831.5h4M816 828.5h4M816 826.5h4M816 823.5h4M816 820.5h4M816 818.5h4M816 815.5h4M816 813.5h4M816 810.5h4M816 808.5h4M816 805.5h4M816 803.5h4M816 800.5h4M816 798.5h4M816 795.5h4M816 793.5h4M816 790.5h4M816 788.5h4M816 785.5h4M816 783.5h4M816 780.5h4M816 778.5h4M816 775.5h4M816 773.5h4M816 770.5h4M816 768.5h4M816 765.5h4M816 763.5h4M816 760.5h4M816 758.5h4M816 755.5h4M816 753.5h4M816 750.5h4M816 748.5h4M812 836.5h8M812 823.5h8M812 810.5h8M812 798.5h8M812 785.5h8M812 773.5h8M812 760.5h8M812 748.5h8" stroke="#000" fill="none"/>
<rect x="1061.5" y="748.5" width="170" height="92" fill="none" stroke="#000"/>
<text x="1114 1120 1126 1131 1139 1146 1154 1159 1164 1172" y="739">xyzScatter</text>
<path d="M1061.5 841v4M1082.5 841v4M1103.5 841v4M1124.5 841v4M1145.5 841v4M1166.5 841v4M1187.5 841v4M1208.5 841v4M1229.5 841v4M1124.5 841v8M1229.5 841v8M1057 838.5h4M1057 828.5h4M1057 818.5h4M1057 809.5h4M1057 799.5h4M1057 789.5h4M1057 779.5h4M1057 770.5h4M1057 760.5h4M1057 750.5h4M1053 838.5h8M1053 818.5h8M1053 799.5h8M1053 779.5h8M1053 760.5h8M1255.5 748v93M1256 839.5h4M1256 835.5h4M1256 831.5h4M1256 827.5h4M1256 822.5h4M1256 818.5h4M1256 814.5h4M1256 810.5h4M1256 806.5h4M1256 802.5h4M1256 797.5h4M1256 793.5h4M1256 789.5h4M1256 785.5h4M1256 781.5h4M1256 777.5h4M1256 772.5h4M1256 768.5h4M1256 764.5h4M1256 760.5h4M1256 756.5h4M1256 752.5h4M1256 835.5h8M1256 814.5h8M1256 793.5h8M1256 772.5h8M1256 752.5h8" stroke="#000" fill="none"/>
<rect x="1303.5" y="748.5" width="170" height="92" fill="none" stroke="#000"/>
<path d="M1303.5 841v4M1320.5 841v4M1337.5 841v4M1354.5 841v4M1371.5 841v4M1388.5 841v4M1405.5 841v4M1422.5 841v4M1439.5 841v4M1456.5 841v4M1473.5 841v4M1303.5 841v8M1388.5 841v8M1473.5 841v8M1299 840.5h4M1299 830.5h4M1299 821.5h4M1299 812.5h4M1299 803.5h4M1299 794.5h4M1299 784.5h4M1299 775.5h4M1299 766.5h4M1299 757.5h4M1299 748.5h4M1295 840.5h8M1295 821.5h8M1295 803.5h8M1295 784.5h8M1295 766.5h8M1295 748.5h8" stroke="#000" fill="none"/></g></svg></body></html>
